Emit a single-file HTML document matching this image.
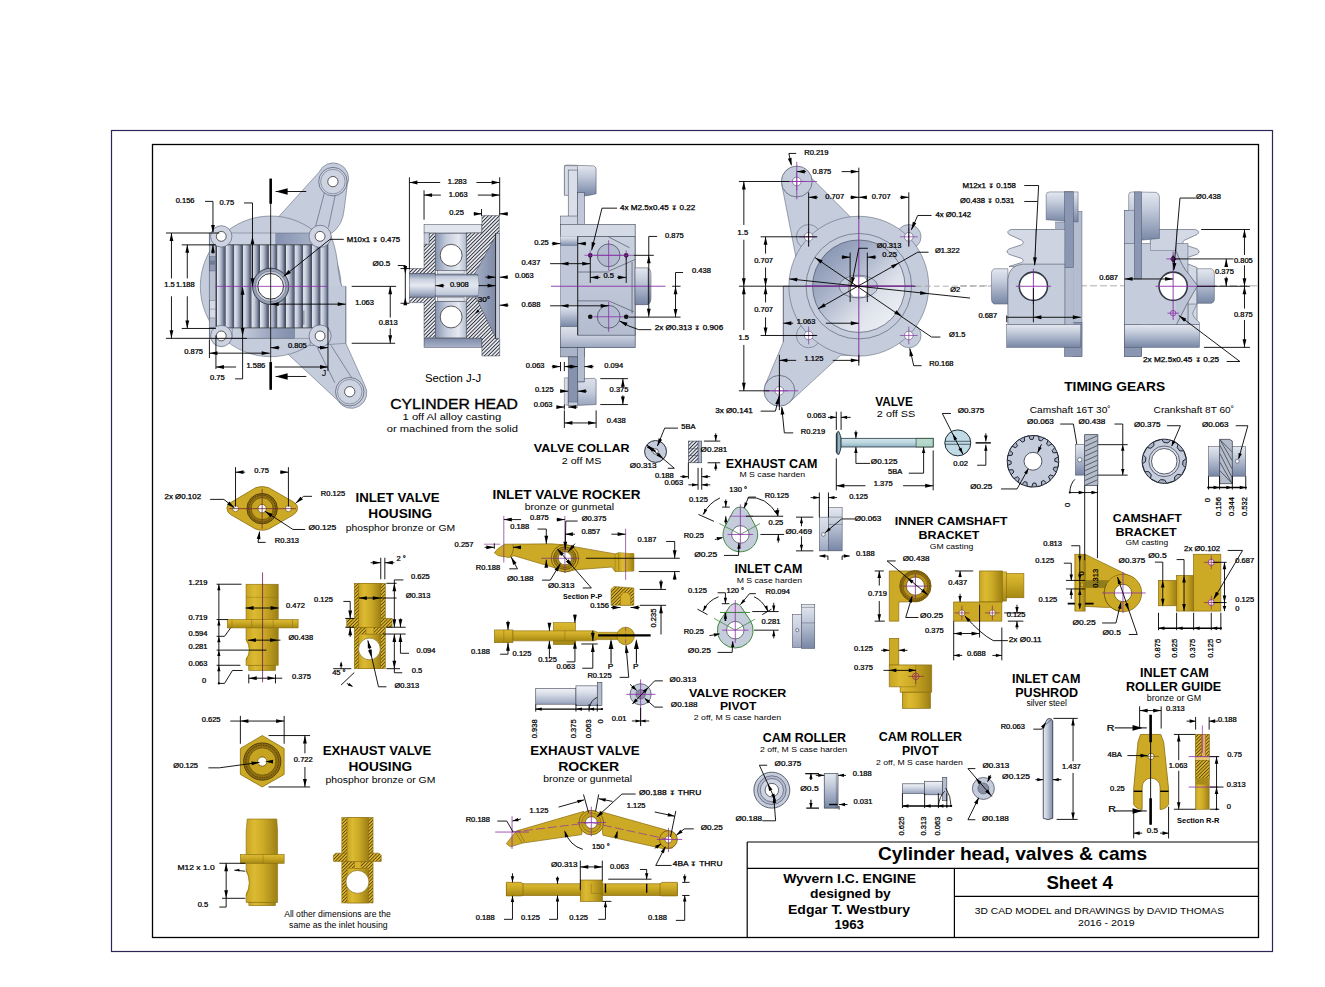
<!DOCTYPE html>
<html><head><meta charset="utf-8"><title>Cylinder head, valves &amp; cams - Sheet 4</title>
<style>
html,body{margin:0;padding:0;background:#fff;}
body{width:1325px;height:987px;overflow:hidden;}
svg{display:block;font-family:"Liberation Sans",sans-serif;}
.d{font-family:"Liberation Sans",sans-serif;fill:#000;stroke:#000;stroke-width:0.25px;}
</style></head><body>
<svg width="1325" height="987" viewBox="0 0 1325 987">
<defs>
<linearGradient id="fin" x1="0" y1="0" x2="1" y2="0"><stop offset="0" stop-color="#3f4656"/><stop offset="0.09" stop-color="#4a5163"/><stop offset="0.16" stop-color="#dfe4ee"/><stop offset="0.45" stop-color="#c3cad9"/><stop offset="0.75" stop-color="#8a94ab"/><stop offset="1" stop-color="#4a5264"/></linearGradient>
<linearGradient id="gband" x1="0" y1="0" x2="1" y2="0"><stop offset="0" stop-color="#c9d0df"/><stop offset="0.55" stop-color="#c9d0df"/><stop offset="0.56" stop-color="#8592b0"/><stop offset="1" stop-color="#b5bed2"/></linearGradient>
<linearGradient id="gband2" x1="0" y1="0" x2="1" y2="0"><stop offset="0" stop-color="#c9d0df"/><stop offset="0.2" stop-color="#c0c8d9"/><stop offset="0.75" stop-color="#8e9ab6"/><stop offset="1" stop-color="#8290ad"/></linearGradient>
<radialGradient id="bore" cx="0.5" cy="0.5" r="0.5"><stop offset="0.7" stop-color="#e3e7ef"/><stop offset="0.85" stop-color="#aab3c8"/><stop offset="1" stop-color="#7d879d"/></radialGradient>
<linearGradient id="gvl" x1="0" y1="0" x2="0" y2="1"><stop offset="0" stop-color="#f0f2f6"/><stop offset="0.35" stop-color="#d8dde8"/><stop offset="1" stop-color="#98a3bd"/></linearGradient>
<linearGradient id="bowl" x1="0.1" y1="0.1" x2="0.9" y2="0.9"><stop offset="0" stop-color="#8593b1"/><stop offset="0.35" stop-color="#aab4ca"/><stop offset="0.7" stop-color="#dde1ea"/><stop offset="1" stop-color="#eef0f5"/></linearGradient>
<linearGradient id="yh" x1="0" y1="0" x2="1" y2="0"><stop offset="0" stop-color="#c7a322"/><stop offset="0.25" stop-color="#dcba32"/><stop offset="0.55" stop-color="#ccaa26"/><stop offset="1" stop-color="#9c7f14"/></linearGradient>
<linearGradient id="yv" x1="0" y1="0" x2="0" y2="1"><stop offset="0" stop-color="#dcba32"/><stop offset="0.4" stop-color="#ccaa26"/><stop offset="1" stop-color="#a58812"/></linearGradient>
<linearGradient id="yvr" x1="0" y1="0" x2="0" y2="1"><stop offset="0" stop-color="#a9850f"/><stop offset="0.5" stop-color="#d0a524"/><stop offset="1" stop-color="#e0b732"/></linearGradient>
<linearGradient id="rod" x1="0" y1="0" x2="1" y2="0"><stop offset="0" stop-color="#e8ebf2"/><stop offset="0.4" stop-color="#c5ccdc"/><stop offset="1" stop-color="#7f8ba7"/></linearGradient>
<pattern id="hatch" patternUnits="userSpaceOnUse" width="2.6" height="2.6" patternTransform="rotate(45)"><rect width="2.6" height="2.6" fill="#eef0f5"/><line x1="1.3" y1="0" x2="1.3" y2="2.6" stroke="#2b2e38" stroke-width="0.95"/></pattern>
<pattern id="hatchy" patternUnits="userSpaceOnUse" width="2.4" height="2.4" patternTransform="rotate(45)"><rect width="2.4" height="2.4" fill="#d6b22c"/><line x1="1.2" y1="0" x2="1.2" y2="2.4" stroke="#5a4308" stroke-width="0.85"/></pattern>
<linearGradient id="chamb" x1="0" y1="0" x2="1" y2="0"><stop offset="0" stop-color="#8794b0"/><stop offset="0.35" stop-color="#c2cadb"/><stop offset="0.75" stop-color="#e4e8f0"/><stop offset="1" stop-color="#b4bdd0"/></linearGradient>
<linearGradient id="boreh" x1="0" y1="0" x2="0" y2="1"><stop offset="0" stop-color="#7f8ca9"/><stop offset="0.25" stop-color="#c9d0de"/><stop offset="0.5" stop-color="#e6e9f0"/><stop offset="0.8" stop-color="#aeb8cc"/><stop offset="1" stop-color="#7f8ca9"/></linearGradient>
<linearGradient id="boreL" x1="0" y1="0" x2="1" y2="0"><stop offset="0" stop-color="#e8ebf2"/><stop offset="0.5" stop-color="#b9c2d4"/><stop offset="1" stop-color="#8f9bb6"/></linearGradient>
<linearGradient id="plateb" x1="0" y1="0" x2="0" y2="1"><stop offset="0" stop-color="#7c89a6"/><stop offset="1" stop-color="#a9b3c9"/></linearGradient>
<linearGradient id="cone" x1="0" y1="0" x2="1" y2="0"><stop offset="0" stop-color="#a5afc6"/><stop offset="1" stop-color="#7f8ba7"/></linearGradient>
<linearGradient id="gv" x1="0" y1="0" x2="0" y2="1"><stop offset="0" stop-color="#e4e8f0"/><stop offset="0.35" stop-color="#c3cbdb"/><stop offset="1" stop-color="#7786a5"/></linearGradient>
<linearGradient id="gv2" x1="0" y1="0" x2="0" y2="1"><stop offset="0" stop-color="#dde2eb"/><stop offset="0.5" stop-color="#c5ccdc"/><stop offset="1" stop-color="#9aa5be"/></linearGradient>
<linearGradient id="gh" x1="0" y1="0" x2="1" y2="0"><stop offset="0" stop-color="#8d99b4"/><stop offset="0.3" stop-color="#c9d0de"/><stop offset="0.6" stop-color="#e2e6ee"/><stop offset="1" stop-color="#a9b3c8"/></linearGradient>
<linearGradient id="gpanel" x1="0" y1="0" x2="0" y2="1"><stop offset="0" stop-color="#c9d0de"/><stop offset="1" stop-color="#b4bdd0"/></linearGradient>
<linearGradient id="vb" x1="0" y1="0" x2="0" y2="1"><stop offset="0" stop-color="#d4e6ec"/><stop offset="0.5" stop-color="#bcd6e0"/><stop offset="1" stop-color="#8fb3c2"/></linearGradient>
</defs>
<rect x="0" y="0" width="1325" height="987" fill="#fff"/>
<rect x="111.5" y="130.5" width="1161" height="821" fill="none" stroke="#2a2656" stroke-width="1.2"/>
<rect x="152.5" y="144.5" width="1106" height="793" fill="none" stroke="#000" stroke-width="1.3"/>
<line x1="747.2" y1="842.0" x2="1258.0" y2="842.0" stroke="#000" stroke-width="1.2" />
<line x1="747.2" y1="842.0" x2="747.2" y2="937.2" stroke="#000" stroke-width="1.2" />
<line x1="747.2" y1="868.4" x2="1258.0" y2="868.4" stroke="#000" stroke-width="1.2" />
<line x1="954.4" y1="868.4" x2="954.4" y2="937.2" stroke="#000" stroke-width="1.2" />
<line x1="954.4" y1="896.4" x2="1258.0" y2="896.4" stroke="#000" stroke-width="1.2" />
<text x="878.0" y="859.6" font-size="18.5" text-anchor="start" font-weight="bold" fill="#000" textLength="269.2" lengthAdjust="spacingAndGlyphs" >Cylinder head, valves &amp; cams</text>
<text x="1046.4" y="889.2" font-size="18" text-anchor="start" font-weight="bold" fill="#000" textLength="66.4" lengthAdjust="spacingAndGlyphs" >Sheet 4</text>
<text x="783.2" y="882.8" font-size="13" text-anchor="start" font-weight="bold" fill="#000" textLength="132.8" lengthAdjust="spacingAndGlyphs" >Wyvern I.C. ENGINE</text>
<text x="810.0" y="898.0" font-size="13" text-anchor="start" font-weight="bold" fill="#000" textLength="80.8" lengthAdjust="spacingAndGlyphs" >designed by</text>
<text x="788.0" y="914.0" font-size="13" text-anchor="start" font-weight="bold" fill="#000" textLength="122.0" lengthAdjust="spacingAndGlyphs" >Edgar T. Westbury</text>
<text x="834.4" y="929.2" font-size="13" text-anchor="start" font-weight="bold" fill="#000" textLength="29.6" lengthAdjust="spacingAndGlyphs" >1963</text>
<text x="974.8" y="914.0" font-size="9.5" text-anchor="start" font-weight="normal" fill="#000" textLength="249.2" lengthAdjust="spacingAndGlyphs" >3D CAD MODEL and DRAWINGS by DAVID THOMAS</text>
<text x="1078.0" y="926.0" font-size="9.5" text-anchor="start" font-weight="normal" fill="#000" textLength="56.8" lengthAdjust="spacingAndGlyphs" >2016 - 2019</text>
<text x="1012.0" y="682.8" font-size="12" text-anchor="start" font-weight="bold" fill="#000" textLength="68.4" lengthAdjust="spacingAndGlyphs" >INLET CAM</text>
<text x="1015.2" y="696.8" font-size="12" text-anchor="start" font-weight="bold" fill="#000" textLength="62.8" lengthAdjust="spacingAndGlyphs" >PUSHROD</text>
<text x="1026.4" y="706.0" font-size="8.5" text-anchor="start" font-weight="normal" fill="#000" textLength="40.4" lengthAdjust="spacingAndGlyphs" >silver steel</text>
<text x="1140.0" y="677.2" font-size="12" text-anchor="start" font-weight="bold" fill="#000" textLength="68.8" lengthAdjust="spacingAndGlyphs" >INLET CAM</text>
<text x="1126.0" y="691.2" font-size="12" text-anchor="start" font-weight="bold" fill="#000" textLength="95.2" lengthAdjust="spacingAndGlyphs" >ROLLER GUIDE</text>
<text x="1146.8" y="701.2" font-size="8.5" text-anchor="start" font-weight="normal" fill="#000" textLength="54.4" lengthAdjust="spacingAndGlyphs" >bronze or GM</text>
<text x="762.8" y="742.0" font-size="12" text-anchor="start" font-weight="bold" fill="#000" textLength="83.2" lengthAdjust="spacingAndGlyphs" >CAM ROLLER</text>
<text x="760.0" y="752.4" font-size="8" text-anchor="start" font-weight="normal" fill="#000" textLength="87.2" lengthAdjust="spacingAndGlyphs" >2 off, M S case harden</text>
<text x="878.8" y="741.2" font-size="12" text-anchor="start" font-weight="bold" fill="#000" textLength="83.2" lengthAdjust="spacingAndGlyphs" >CAM ROLLER</text>
<text x="902.0" y="754.8" font-size="12" text-anchor="start" font-weight="bold" fill="#000" textLength="36.8" lengthAdjust="spacingAndGlyphs" >PIVOT</text>
<text x="876.0" y="765.2" font-size="8" text-anchor="start" font-weight="normal" fill="#000" textLength="86.8" lengthAdjust="spacingAndGlyphs" >2 off, M S case harden</text>
<text x="533.82" y="452.28" font-size="11.5" text-anchor="start" font-weight="bold" fill="#000" textLength="95.7" lengthAdjust="spacingAndGlyphs" >VALVE COLLAR</text>
<text x="561.72" y="464.31" font-size="9" text-anchor="start" font-weight="normal" fill="#000" textLength="39.7" lengthAdjust="spacingAndGlyphs" >2 off MS</text>
<circle cx="655.56" cy="451.48" r="10.94" fill="#c5ccdc" stroke="#2a2d38" stroke-width="1.0" />
<circle cx="655.56" cy="451.48" r="2.74" fill="#fff" stroke="#2a2d38" stroke-width="0.7" />
<text x="0" y="0" font-size="6.4" text-anchor="middle" class="d" dy="0.36em" transform="translate(688.39 426.31) scale(1.18 1)">5BA</text>
<polyline points="678.0,428.13 664.68,428.13 657.39,446.0" fill="none" stroke="#000" stroke-width="0.9" />
<polygon points="657.39,446.37 658.60,438.24 662.13,439.65" fill="#000"/>
<text x="0" y="0" font-size="6.9" text-anchor="middle" class="d" dy="0.36em" transform="translate(643.16 465.52) scale(1.18 1)">Ø0.313</text>
<polyline points="667.78,468.26 674.35,468.26 646.99,445.09" fill="none" stroke="#000" stroke-width="0.9" />
<polygon points="646.99,445.09 654.32,448.81 651.87,451.71" fill="#000"/>
<polygon points="663.77,459.32 656.44,455.60 658.89,452.70" fill="#000"/>
<line x1="647.36" y1="446.92" x2="655.56" y2="451.48" stroke="#000" stroke-width="1.6" />
<rect x="688.39" y="441.08" width="10.03" height="21.7" fill="url(#hatch)" stroke="#3d4252" stroke-width="0.6" />
<rect x="698.06" y="441.08" width="3.65" height="21.7" fill="#aab4c9" stroke="#3d4252" stroke-width="0.6" />
<line x1="688.39" y1="448.74" x2="698.42" y2="448.74" stroke="#3d4252" stroke-width="0.5" />
<line x1="688.39" y1="455.49" x2="698.42" y2="455.49" stroke="#3d4252" stroke-width="0.5" />
<text x="0" y="0" font-size="6.9" text-anchor="middle" class="d" dy="0.36em" transform="translate(713.93 449.29) scale(1.18 1)">Ø0.281</text>
<line x1="703.9" y1="441.08" x2="720.31" y2="441.08" stroke="#000" stroke-width="0.9" />
<line x1="707.54" y1="462.78" x2="720.31" y2="462.78" stroke="#000" stroke-width="0.9" />
<line x1="715.75" y1="433.24" x2="715.75" y2="441.08" stroke="#000" stroke-width="0.9" />
<polygon points="715.75,441.08 714.15,435.08 717.35,435.08" fill="#000"/>
<line x1="715.75" y1="462.78" x2="715.75" y2="470.63" stroke="#000" stroke-width="0.9" />
<polygon points="715.75,462.78 717.35,468.78 714.15,468.78" fill="#000"/>
<line x1="688.39" y1="462.78" x2="688.39" y2="478.83" stroke="#000" stroke-width="0.9" />
<line x1="698.06" y1="467.89" x2="698.06" y2="489.78" stroke="#000" stroke-width="0.9" />
<line x1="701.71" y1="467.89" x2="701.71" y2="489.78" stroke="#000" stroke-width="0.9" />
<text x="0" y="0" font-size="6.4" text-anchor="middle" class="d" dy="0.36em" transform="translate(664.32 475.19) scale(1.18 1)">0.188</text>
<line x1="680.19" y1="476.65" x2="688.39" y2="476.65" stroke="#000" stroke-width="0.9" />
<polygon points="688.39,476.65 682.39,478.25 682.39,475.05" fill="#000"/>
<line x1="701.71" y1="476.65" x2="710.28" y2="476.65" stroke="#000" stroke-width="0.9" />
<polygon points="701.71,476.65 707.71,475.05 707.71,478.25" fill="#000"/>
<text x="0" y="0" font-size="6.4" text-anchor="middle" class="d" dy="0.36em" transform="translate(673.8 482.85) scale(1.18 1)">0.063</text>
<line x1="688.39" y1="484.85" x2="698.06" y2="484.85" stroke="#000" stroke-width="0.9" />
<polygon points="698.06,484.85 692.06,486.45 692.06,483.25" fill="#000"/>
<line x1="701.71" y1="484.85" x2="710.28" y2="484.85" stroke="#000" stroke-width="0.9" />
<polygon points="701.71,484.85 707.71,483.25 707.71,486.45" fill="#000"/>
<text x="725.78" y="467.89" font-size="12" text-anchor="start" font-weight="bold" fill="#000" textLength="91.7" lengthAdjust="spacingAndGlyphs" >EXHAUST CAM</text>
<text x="739.46" y="477.37" font-size="8" text-anchor="start" font-weight="normal" fill="#000" textLength="65.7" lengthAdjust="spacingAndGlyphs" >M S case harden</text>
<path d="M725.12 526.22 L733.15 511.41 A8.21 8.21 0 0 1 747.59 511.41 L755.62 526.22 A17.33 17.33 0 1 1 725.12 526.22 Z" fill="#c5ccdc" stroke="#3f8a3f" stroke-width="1.0" />
<circle cx="740.37" cy="534.46" r="8.75" fill="#fff" stroke="#3d4252" stroke-width="0.7" />
<line x1="740.37" y1="534.46" x2="719.4" y2="523.52" stroke="#3f8a3f" stroke-width="0.8" />
<line x1="740.37" y1="534.46" x2="760.07" y2="523.52" stroke="#3f8a3f" stroke-width="0.8" />
<line x1="727.61" y1="534.46" x2="753.14" y2="534.46" stroke="#8a2fa8" stroke-width="0.8" />
<line x1="740.37" y1="504.37" x2="740.37" y2="548.14" stroke="#8a2fa8" stroke-width="0.8" />
<line x1="729.43" y1="516.22" x2="753.14" y2="516.22" stroke="#8a2fa8" stroke-width="0.7" />
<text x="0" y="0" font-size="6.4" text-anchor="middle" class="d" dy="0.36em" transform="translate(738.18 490.14) scale(1.18 1)">130 °</text>
<path d="M702.98 514.4 Q709.37 502.54 719.95 497.98" fill="none" stroke="#000" stroke-width="0.9" />
<polygon points="703.53,514.95 704.27,508.78 707.24,509.97" fill="#000"/>
<path d="M747.67 497.98 Q765.91 495.25 777.76 515.31" fill="none" stroke="#000" stroke-width="0.9" />
<polygon points="778.31,515.86 774.20,511.21 777.06,509.78" fill="#000"/>
<line x1="698.42" y1="514.4" x2="713.93" y2="521.33" stroke="#000" stroke-width="0.9" />
<text x="0" y="0" font-size="6.4" text-anchor="middle" class="d" dy="0.36em" transform="translate(698.42 499.44) scale(1.18 1)">0.125</text>
<line x1="722.13" y1="507.1" x2="729.79" y2="507.1" stroke="#000" stroke-width="0.9" />
<line x1="725.78" y1="499.44" x2="725.78" y2="507.1" stroke="#000" stroke-width="0.9" />
<polygon points="725.78,507.10 724.18,501.10 727.38,501.10" fill="#000"/>
<line x1="725.78" y1="516.22" x2="725.78" y2="524.43" stroke="#000" stroke-width="0.9" />
<polygon points="725.78,516.22 727.38,522.22 724.18,522.22" fill="#000"/>
<text x="0" y="0" font-size="6.4" text-anchor="middle" class="d" dy="0.36em" transform="translate(776.85 495.25) scale(1.18 1)">R0.125</text>
<polyline points="755.87,497.07 748.58,497.07 744.02,508.01" fill="none" stroke="#000" stroke-width="0.9" />
<polygon points="744.02,508.38 744.76,502.21 747.73,503.40" fill="#000"/>
<text x="0" y="0" font-size="6.4" text-anchor="middle" class="d" dy="0.36em" transform="translate(775.94 522.61) scale(1.18 1)">0.25</text>
<line x1="745.84" y1="516.22" x2="783.23" y2="516.22" stroke="#000" stroke-width="0.9" />
<line x1="777.76" y1="508.01" x2="777.76" y2="516.22" stroke="#000" stroke-width="0.9" />
<polygon points="777.76,516.22 776.16,510.22 779.36,510.22" fill="#000"/>
<line x1="760.43" y1="534.46" x2="784.14" y2="534.46" stroke="#000" stroke-width="0.9" />
<line x1="778.31" y1="534.46" x2="778.31" y2="542.67" stroke="#000" stroke-width="0.9" />
<polygon points="778.31,534.46 779.91,540.46 776.71,540.46" fill="#000"/>
<text x="0" y="0" font-size="6.4" text-anchor="middle" class="d" dy="0.36em" transform="translate(693.86 535.37) scale(1.18 1)">R0.25</text>
<line x1="714.84" y1="539.57" x2="722.5" y2="537.56" stroke="#000" stroke-width="0.9" />
<polygon points="722.86,537.38 717.48,540.58 716.60,537.09" fill="#000"/>
<text x="0" y="0" font-size="7.2" text-anchor="middle" class="d" dy="0.36em" transform="translate(705.72 554.16) scale(1.18 1)">Ø0.25</text>
<polyline points="723.96,555.43 738.55,555.43 738.91,543.03" fill="none" stroke="#000" stroke-width="0.9" />
<polygon points="738.91,542.67 740.51,548.67 737.31,548.67" fill="#000"/>
<rect x="828.46" y="507.65" width="13.68" height="43.22" fill="url(#gv)" stroke="#3d4252" stroke-width="0.5" />
<rect x="819.34" y="517.13" width="9.12" height="33.74" fill="url(#gv2)" stroke="#3d4252" stroke-width="0.5" />
<line x1="828.46" y1="517.13" x2="842.14" y2="517.13" stroke="#3d4252" stroke-width="0.4" />
<line x1="828.46" y1="524.43" x2="842.14" y2="524.43" stroke="#3d4252" stroke-width="0.4" />
<circle cx="823.36" cy="534.46" r="1.82" fill="#fff" stroke="#3d4252" stroke-width="0.6" />
<text x="0" y="0" font-size="6.9" text-anchor="middle" class="d" dy="0.36em" transform="translate(798.73 531.18) scale(1.18 1)">Ø0.469</text>
<line x1="796.0" y1="517.13" x2="813.32" y2="517.13" stroke="#000" stroke-width="0.9" />
<line x1="796.0" y1="550.87" x2="813.32" y2="550.87" stroke="#000" stroke-width="0.9" />
<line x1="801.47" y1="517.13" x2="801.47" y2="526.25" stroke="#000" stroke-width="0.9" />
<line x1="801.47" y1="536.28" x2="801.47" y2="550.87" stroke="#000" stroke-width="0.9" />
<polygon points="801.47,517.13 803.07,523.13 799.87,523.13" fill="#000"/>
<polygon points="801.47,550.87 799.87,544.87 803.07,544.87" fill="#000"/>
<line x1="819.34" y1="492.51" x2="819.34" y2="517.13" stroke="#000" stroke-width="0.9" />
<line x1="828.46" y1="492.51" x2="828.46" y2="517.13" stroke="#000" stroke-width="0.9" />
<line x1="810.59" y1="497.62" x2="819.34" y2="497.62" stroke="#000" stroke-width="0.9" />
<polygon points="819.34,497.62 813.34,499.22 813.34,496.02" fill="#000"/>
<line x1="828.46" y1="497.62" x2="837.03" y2="497.62" stroke="#000" stroke-width="0.9" />
<polygon points="828.46,497.62 834.46,496.02 834.46,499.22" fill="#000"/>
<text x="0" y="0" font-size="6.4" text-anchor="middle" class="d" dy="0.36em" transform="translate(858.56 496.52) scale(1.18 1)">0.125</text>
<text x="0" y="0" font-size="6.9" text-anchor="middle" class="d" dy="0.36em" transform="translate(868.04 518.05) scale(1.18 1)">Ø0.063</text>
<polyline points="855.27,518.96 841.59,518.96 825.18,532.64" fill="none" stroke="#000" stroke-width="0.9" />
<polygon points="825.18,532.64 828.77,527.57 830.81,530.03" fill="#000"/>
<polyline points="819.34,555.98 827.92,555.98 827.92,559.99" fill="none" stroke="#000" stroke-width="0.9" />
<polygon points="819.34,555.98 825.34,554.18 825.34,557.78" fill="#000"/>
<polyline points="842.14,559.99 842.14,555.98 849.8,555.98" fill="none" stroke="#000" stroke-width="0.9" />
<polygon points="849.80,555.98 843.80,557.78 843.80,554.18" fill="#000"/>
<text x="0" y="0" font-size="6.4" text-anchor="middle" class="d" dy="0.36em" transform="translate(865.3 553.61) scale(1.18 1)">0.188</text>
<text x="734.54" y="573.31" font-size="12" text-anchor="start" font-weight="bold" fill="#000" textLength="67.8" lengthAdjust="spacingAndGlyphs" >INLET CAM</text>
<text x="736.72" y="583.16" font-size="8" text-anchor="start" font-weight="normal" fill="#000" textLength="65.3" lengthAdjust="spacingAndGlyphs" >M S case harden</text>
<path d="M720.51 620.05 L729.7 606.65 A6.75 6.75 0 0 1 740.83 606.65 L750.02 620.05 A17.87 17.87 0 1 1 720.51 620.05 Z" fill="#c5ccdc" stroke="#3f8a3f" stroke-width="1.0" />
<path d="M725.71 612.46 L729.7 606.65 A6.75 6.75 0 0 1 740.83 606.65 L744.82 612.46 Z" fill="#dccbe9" stroke="#3f8a3f" stroke-width="0.8" />
<circle cx="735.27" cy="630.16" r="8.75" fill="#fff" stroke="#3d4252" stroke-width="0.7" />
<line x1="719.95" y1="612.46" x2="749.86" y2="612.46" stroke="#3f8a3f" stroke-width="1.0" />
<line x1="735.27" y1="630.16" x2="713.93" y2="618.3" stroke="#3f8a3f" stroke-width="0.8" />
<line x1="735.27" y1="630.16" x2="754.96" y2="619.21" stroke="#3f8a3f" stroke-width="0.8" />
<line x1="722.13" y1="630.16" x2="748.58" y2="630.16" stroke="#8a2fa8" stroke-width="0.8" />
<line x1="735.27" y1="600.06" x2="735.27" y2="642.92" stroke="#8a2fa8" stroke-width="0.8" />
<text x="0" y="0" font-size="6.4" text-anchor="middle" class="d" dy="0.36em" transform="translate(735.27 590.4) scale(1.18 1)">120 °</text>
<path d="M702.98 611.01 Q707.54 600.97 718.49 596.78" fill="none" stroke="#000" stroke-width="0.9" />
<polygon points="703.35,611.55 704.09,605.38 707.06,606.57" fill="#000"/>
<path d="M754.05 596.78 Q762.26 600.06 767.73 611.01" fill="none" stroke="#000" stroke-width="0.9" />
<polygon points="768.09,611.55 764.38,606.57 767.35,605.38" fill="#000"/>
<line x1="697.51" y1="609.18" x2="707.54" y2="614.65" stroke="#000" stroke-width="0.9" />
<line x1="762.26" y1="614.65" x2="771.38" y2="609.18" stroke="#000" stroke-width="0.9" />
<text x="0" y="0" font-size="6.4" text-anchor="middle" class="d" dy="0.36em" transform="translate(697.51 590.4) scale(1.18 1)">0.125</text>
<polyline points="717.57,592.77 725.42,592.77 725.42,603.71" fill="none" stroke="#000" stroke-width="0.9" />
<polygon points="725.42,603.71 723.82,597.71 727.02,597.71" fill="#000"/>
<line x1="721.77" y1="603.71" x2="729.43" y2="603.71" stroke="#000" stroke-width="0.9" />
<line x1="725.42" y1="612.83" x2="725.42" y2="621.04" stroke="#000" stroke-width="1.6" />
<polygon points="725.42,612.83 727.02,618.83 723.82,618.83" fill="#000"/>
<text x="0" y="0" font-size="6.4" text-anchor="middle" class="d" dy="0.36em" transform="translate(777.76 591.86) scale(1.18 1)">R0.094</text>
<polyline points="755.87,593.68 749.49,593.68 740.37,604.62" fill="none" stroke="#000" stroke-width="0.9" />
<polygon points="740.37,604.80 742.98,599.17 745.44,601.21" fill="#000"/>
<text x="0" y="0" font-size="6.4" text-anchor="middle" class="d" dy="0.36em" transform="translate(771.01 621.58) scale(1.18 1)">0.281</text>
<line x1="752.23" y1="611.55" x2="778.67" y2="611.55" stroke="#000" stroke-width="0.9" />
<line x1="754.05" y1="630.16" x2="778.67" y2="630.16" stroke="#000" stroke-width="0.9" />
<line x1="773.75" y1="602.8" x2="773.75" y2="611.55" stroke="#000" stroke-width="0.9" />
<polygon points="773.75,611.55 772.15,605.55 775.35,605.55" fill="#000"/>
<line x1="773.75" y1="630.16" x2="773.75" y2="638.36" stroke="#000" stroke-width="0.9" />
<polygon points="773.75,630.16 775.35,636.16 772.15,636.16" fill="#000"/>
<text x="0" y="0" font-size="6.4" text-anchor="middle" class="d" dy="0.36em" transform="translate(693.86 631.61) scale(1.18 1)">R0.25</text>
<line x1="709.37" y1="635.63" x2="719.4" y2="633.99" stroke="#000" stroke-width="0.9" />
<polygon points="719.95,633.80 714.42,636.74 713.71,633.21" fill="#000"/>
<text x="0" y="0" font-size="7.2" text-anchor="middle" class="d" dy="0.36em" transform="translate(699.34 650.77) scale(1.18 1)">Ø0.25</text>
<polyline points="717.57,652.41 732.16,652.41 732.71,641.46" fill="none" stroke="#000" stroke-width="0.9" />
<polygon points="732.71,641.10 734.31,647.10 731.11,647.10" fill="#000"/>
<rect x="801.47" y="604.62" width="13.31" height="43.77" fill="url(#gv)" stroke="#3d4252" stroke-width="0.5" />
<rect x="792.35" y="614.65" width="9.12" height="32.83" fill="url(#gv2)" stroke="#3d4252" stroke-width="0.5" />
<line x1="801.47" y1="607.36" x2="814.78" y2="607.36" stroke="#3d4252" stroke-width="0.4" />
<line x1="801.47" y1="622.86" x2="814.78" y2="622.86" stroke="#3d4252" stroke-width="0.4" />
<circle cx="797.28" cy="630.16" r="1.64" fill="#e8ebf2" stroke="#3d4252" stroke-width="0.6" />
<circle cx="640.61" cy="694.35" r="10.58" fill="#c5ccdc" stroke="#3d4252" stroke-width="0.7" />
<circle cx="640.61" cy="694.35" r="4.74" fill="#8d86a8" stroke="#3d4252" stroke-width="0.5" />
<line x1="626.38" y1="694.35" x2="655.56" y2="694.35" stroke="#8a2fa8" stroke-width="0.8" />
<line x1="640.61" y1="679.4" x2="640.61" y2="725.91" stroke="#8a2fa8" stroke-width="0.8" />
<text x="0" y="0" font-size="6.9" text-anchor="middle" class="d" dy="0.36em" transform="translate(682.92 679.76) scale(1.18 1)">Ø0.313</text>
<polyline points="662.86,680.86 654.65,680.86 632.4,704.02" fill="none" stroke="#000" stroke-width="0.9" />
<polygon points="632.40,704.02 635.37,698.50 637.92,701.05" fill="#000"/>
<polygon points="648.27,687.61 645.30,693.13 642.75,690.58" fill="#000"/>
<text x="0" y="0" font-size="6.9" text-anchor="middle" class="d" dy="0.36em" transform="translate(684.2 704.57) scale(1.18 1)">Ø0.188</text>
<polyline points="662.86,707.12 654.65,707.12 644.62,698.18" fill="none" stroke="#000" stroke-width="0.9" />
<polygon points="644.62,698.18 650.28,700.86 647.88,703.53" fill="#000"/>
<line x1="630.03" y1="684.32" x2="636.78" y2="690.52" stroke="#000" stroke-width="0.9" />
<polygon points="636.78,690.52 631.14,687.79 633.58,685.13" fill="#000"/>
<line x1="640.61" y1="707.67" x2="640.61" y2="725.91" stroke="#000" stroke-width="0.9" />
<line x1="631.85" y1="720.98" x2="649.18" y2="720.98" stroke="#000" stroke-width="0.9" />
<polygon points="640.61,720.98 635.61,722.58 635.61,719.38" fill="#000"/>
<polygon points="640.61,720.98 645.61,719.38 645.61,722.58" fill="#000"/>
<text x="0" y="0" font-size="6.4" text-anchor="middle" class="d" dy="0.36em" transform="translate(619.09 718.98) scale(1.18 1)">0.01</text>
<text x="688.94" y="696.73" font-size="11" text-anchor="start" font-weight="bold" fill="#000" textLength="97.4" lengthAdjust="spacingAndGlyphs" >VALVE ROCKER</text>
<text x="719.95" y="710.4" font-size="11" text-anchor="start" font-weight="bold" fill="#000" textLength="36.5" lengthAdjust="spacingAndGlyphs" >PIVOT</text>
<text x="693.86" y="720.43" font-size="8" text-anchor="start" font-weight="normal" fill="#000" textLength="87.2" lengthAdjust="spacingAndGlyphs" >2 off, M S case harden</text>
<text x="1112.77" y="521.91" font-size="11.5" text-anchor="start" font-weight="bold" fill="#000" textLength="69.1" lengthAdjust="spacingAndGlyphs" >CAMSHAFT</text>
<text x="1115.53" y="535.74" font-size="11.5" text-anchor="start" font-weight="bold" fill="#000" textLength="61.1" lengthAdjust="spacingAndGlyphs" >BRACKET</text>
<text x="1125.53" y="545.32" font-size="8" text-anchor="start" font-weight="normal" fill="#000" textLength="42.6" lengthAdjust="spacingAndGlyphs" >GM casting</text>
<polygon points="1085.11,554.26 1134.47,578.3 1127.66,606.38 1106.38,607.45 1085.11,606.38" fill="#cdaa26" stroke="#8a6c0e" stroke-width="0.7" />
<rect x="1085.11" y="580.43" width="26.6" height="7.23" fill="#8f7c1c" stroke="#8a6c0e" stroke-width="0.4" />
<rect x="1074.89" y="554.26" width="10.21" height="56.81" fill="url(#yh)" stroke="#8a6c0e" stroke-width="0.7" />
<circle cx="1122.98" cy="592.98" r="18.72" fill="#cdaa26" stroke="#8a6c0e" stroke-width="0.8" />
<path d="M1106.38 584.04 A18.72 18.72 0 0 0 1119.15 611.28" fill="none" stroke="#6b5208" stroke-width="0.6" />
<circle cx="1122.98" cy="592.98" r="8.72" fill="#fff" stroke="#6b5208" stroke-width="0.8" />
<line x1="1102.13" y1="592.98" x2="1145.74" y2="592.98" stroke="#8a2fa8" stroke-width="0.8" />
<line x1="1122.98" y1="572.34" x2="1122.98" y2="613.19" stroke="#8a2fa8" stroke-width="0.8" />
<rect x="1080.43" y="582.98" width="2.98" height="3.83" fill="#d8b030" stroke="#6b5208" stroke-width="0.5" />
<text x="0" y="0" font-size="6.4" text-anchor="middle" class="d" dy="0.36em" transform="translate(1095.32 578.3) rotate(-90) scale(1.18 1)">0.313</text>
<text x="0" y="0" font-size="6.4" text-anchor="middle" class="d" dy="0.36em" transform="translate(1081.91 573.4) rotate(-90) scale(1.18 1)">0</text>
<text x="0" y="0" font-size="6.4" text-anchor="middle" class="d" dy="0.36em" transform="translate(1052.55 543.62) scale(1.18 1)">0.813</text>
<polyline points="1071.28,545.74 1079.79,545.74 1079.79,608.51" fill="none" stroke="#000" stroke-width="0.9" />
<polygon points="1079.79,561.70 1078.09,555.70 1081.49,555.70" fill="#000"/>
<polygon points="1079.79,580.43 1078.09,574.43 1081.49,574.43" fill="#000"/>
<polygon points="1079.79,588.94 1081.49,594.94 1078.09,594.94" fill="#000"/>
<polygon points="1079.79,609.57 1078.09,603.57 1081.49,603.57" fill="#000"/>
<text x="0" y="0" font-size="6.4" text-anchor="middle" class="d" dy="0.36em" transform="translate(1044.68 560.64) scale(1.18 1)">0.125</text>
<polyline points="1063.83,563.19 1071.28,563.19 1071.28,580.43" fill="none" stroke="#000" stroke-width="0.9" />
<polygon points="1071.28,580.43 1069.58,574.43 1072.98,574.43" fill="#000"/>
<line x1="1065.96" y1="580.43" x2="1085.11" y2="580.43" stroke="#000" stroke-width="0.9" />
<line x1="1065.96" y1="588.94" x2="1085.11" y2="588.94" stroke="#000" stroke-width="0.9" />
<line x1="1071.28" y1="588.94" x2="1071.28" y2="598.94" stroke="#000" stroke-width="0.9" />
<polygon points="1071.28,588.94 1072.98,594.94 1069.58,594.94" fill="#000"/>
<text x="0" y="0" font-size="6.4" text-anchor="middle" class="d" dy="0.36em" transform="translate(1047.87 600.0) scale(1.18 1)">0.125</text>
<line x1="1067.66" y1="603.62" x2="1074.89" y2="603.62" stroke="#000" stroke-width="1.8" />
<line x1="1085.11" y1="603.62" x2="1093.62" y2="603.62" stroke="#000" stroke-width="1.8" />
<text x="0" y="0" font-size="7.2" text-anchor="middle" class="d" dy="0.36em" transform="translate(1084.04 621.91) scale(1.18 1)">Ø0.25</text>
<polyline points="1102.13,622.98 1115.96,622.98 1120.85,602.55" fill="none" stroke="#000" stroke-width="0.9" />
<polygon points="1121.06,601.70 1121.45,608.92 1117.92,608.21" fill="#000"/>
<text x="0" y="0" font-size="7.2" text-anchor="middle" class="d" dy="0.36em" transform="translate(1111.7 632.34) scale(1.18 1)">Ø0.5</text>
<polyline points="1128.72,634.47 1137.23,634.47 1117.45,577.02" fill="none" stroke="#000" stroke-width="0.9" />
<polygon points="1117.45,577.02 1121.43,583.05 1118.03,584.22" fill="#000"/>
<polygon points="1128.72,610.21 1124.74,604.18 1128.14,603.01" fill="#000"/>
<rect x="1158.51" y="580.43" width="18.09" height="25.32" fill="url(#yh)" stroke="#8a6c0e" stroke-width="0.7" />
<rect x="1176.6" y="575.53" width="17.02" height="35.53" fill="url(#yh)" stroke="#8a6c0e" stroke-width="0.7" />
<rect x="1193.62" y="554.26" width="27.23" height="56.81" fill="#cdaa26" stroke="#8a6c0e" stroke-width="0.7" />
<circle cx="1211.28" cy="562.34" r="2.98" fill="#fff" stroke="#8a2fa8" stroke-width="0.9" />
<line x1="1203.83" y1="562.34" x2="1219.15" y2="562.34" stroke="#8a2a4a" stroke-width="0.7" />
<line x1="1211.28" y1="555.53" x2="1211.28" y2="569.15" stroke="#8a2a4a" stroke-width="0.7" />
<circle cx="1211.28" cy="602.55" r="2.98" fill="#fff" stroke="#8a2fa8" stroke-width="0.9" />
<line x1="1203.83" y1="602.55" x2="1219.15" y2="602.55" stroke="#8a2a4a" stroke-width="0.7" />
<line x1="1211.28" y1="595.74" x2="1211.28" y2="609.36" stroke="#8a2a4a" stroke-width="0.7" />
<text x="0" y="0" font-size="6.9" text-anchor="middle" class="d" dy="0.36em" transform="translate(1131.91 560.64) scale(1.18 1)">Ø0.375</text>
<polyline points="1154.89,562.13 1162.77,562.13 1162.77,605.74" fill="none" stroke="#000" stroke-width="0.9" />
<polygon points="1162.77,580.43 1164.57,587.43 1160.97,587.43" fill="#000"/>
<polygon points="1162.77,605.74 1160.97,598.74 1164.57,598.74" fill="#000"/>
<text x="0" y="0" font-size="7.2" text-anchor="middle" class="d" dy="0.36em" transform="translate(1157.45 555.74) scale(1.18 1)">Ø0.5</text>
<polyline points="1176.6,559.57 1184.04,559.57 1184.04,611.06" fill="none" stroke="#000" stroke-width="0.9" />
<polygon points="1184.04,575.53 1185.84,582.53 1182.24,582.53" fill="#000"/>
<polygon points="1184.04,611.06 1182.24,604.06 1185.84,604.06" fill="#000"/>
<text x="0" y="0" font-size="6.9" text-anchor="middle" class="d" dy="0.36em" transform="translate(1202.13 548.3) scale(1 1)" textLength="36.2" lengthAdjust="spacingAndGlyphs">2x Ø0.102</text>
<polyline points="1227.66,550.43 1242.55,550.43 1213.83,598.94" fill="none" stroke="#000" stroke-width="0.9" />
<polygon points="1213.40,599.57 1215.89,591.73 1219.15,593.69" fill="#000"/>
<text x="0" y="0" font-size="6.4" text-anchor="middle" class="d" dy="0.36em" transform="translate(1244.68 561.06) scale(1.18 1)">0.687</text>
<line x1="1212.77" y1="562.34" x2="1226.6" y2="562.34" stroke="#000" stroke-width="0.9" />
<line x1="1212.77" y1="602.55" x2="1226.6" y2="602.55" stroke="#000" stroke-width="0.9" />
<line x1="1224.47" y1="562.34" x2="1224.47" y2="611.06" stroke="#000" stroke-width="0.9" />
<polygon points="1224.47,562.34 1226.27,569.34 1222.67,569.34" fill="#000"/>
<polygon points="1224.47,602.55 1222.67,595.55 1226.27,595.55" fill="#000"/>
<polygon points="1224.47,611.06 1222.67,606.06 1226.27,606.06" fill="#000"/>
<text x="0" y="0" font-size="6.4" text-anchor="middle" class="d" dy="0.36em" transform="translate(1244.68 599.57) scale(1.18 1)">0.125</text>
<text x="0" y="0" font-size="6.4" text-anchor="middle" class="d" dy="0.36em" transform="translate(1237.23 608.51) scale(1.18 1)">0</text>
<line x1="1158.51" y1="612.77" x2="1158.51" y2="630.21" stroke="#000" stroke-width="0.9" />
<line x1="1176.6" y1="612.77" x2="1176.6" y2="630.21" stroke="#000" stroke-width="0.9" />
<line x1="1193.62" y1="612.77" x2="1193.62" y2="630.21" stroke="#000" stroke-width="0.9" />
<line x1="1211.28" y1="612.77" x2="1211.28" y2="630.21" stroke="#000" stroke-width="0.9" />
<line x1="1220.85" y1="612.77" x2="1220.85" y2="630.21" stroke="#000" stroke-width="0.9" />
<line x1="1158.51" y1="628.3" x2="1221.28" y2="628.3" stroke="#000" stroke-width="1.4" />
<circle cx="1220.85" cy="628.3" r="1.06" fill="#000" stroke="none" stroke-width="0.6" />
<polygon points="1158.51,628.30 1164.51,626.50 1164.51,630.10" fill="#000"/>
<polygon points="1176.60,628.30 1182.60,626.50 1182.60,630.10" fill="#000"/>
<polygon points="1193.62,628.30 1199.62,626.50 1199.62,630.10" fill="#000"/>
<polygon points="1211.28,628.30 1217.28,626.50 1217.28,630.10" fill="#000"/>
<text x="0" y="0" font-size="6.4" text-anchor="middle" class="d" dy="0.36em" transform="translate(1157.45 648.3) rotate(-90) scale(1.18 1)">0.875</text>
<text x="0" y="0" font-size="6.4" text-anchor="middle" class="d" dy="0.36em" transform="translate(1174.89 648.3) rotate(-90) scale(1.18 1)">0.625</text>
<text x="0" y="0" font-size="6.4" text-anchor="middle" class="d" dy="0.36em" transform="translate(1192.55 648.3) rotate(-90) scale(1.18 1)">0.375</text>
<text x="0" y="0" font-size="6.4" text-anchor="middle" class="d" dy="0.36em" transform="translate(1210.64 648.3) rotate(-90) scale(1.18 1)">0.125</text>
<text x="0" y="0" font-size="6.4" text-anchor="middle" class="d" dy="0.36em" transform="translate(1218.72 640.85) rotate(-90) scale(1.18 1)">0</text>
<path d="M278.58 216.8 L319.09 172.13 A14.62 14.62 0 0 1 347.35 184.58 L344.19 209.29 Q342.81 225.1 331.94 233.0 L298.34 240.91 Z" fill="#c5ccdc" stroke="#4d5468" stroke-width="0.5" />
<path d="M345.77 343.28 L364.74 385.18 A14.82 14.82 0 0 1 337.87 400.59 L288.46 354.55 L298.34 335.77 Z" fill="#c5ccdc" stroke="#4d5468" stroke-width="0.5" />
<circle cx="270.67" cy="286.36" r="70.36" fill="#c5ccdc" stroke="#4d5468" stroke-width="0.5" />
<path d="M327.98 229.05 Q334.9 242.89 337.27 260.67 Q338.85 278.46 341.82 286.36 L345.77 286.36 L345.77 343.28 L310.2 345.65 L310.2 233.0 Z" fill="#c5ccdc" stroke="#4d5468" stroke-width="0.5" />
<rect x="327.98" y="286.36" width="17.79" height="56.92" fill="#c1c9da" stroke="none" stroke-width="0.6" />
<line x1="345.77" y1="286.36" x2="345.77" y2="343.28" stroke="#4d5468" stroke-width="0.6" />
<line x1="327.98" y1="328.85" x2="327.98" y2="343.68" stroke="#333" stroke-width="0.8" />
<line x1="325.02" y1="190.51" x2="315.14" y2="228.06" stroke="#4d5468" stroke-width="0.6" />
<line x1="335.49" y1="193.87" x2="328.38" y2="227.47" stroke="#4d5468" stroke-width="0.6" />
<line x1="317.11" y1="347.23" x2="334.9" y2="382.81" stroke="#4d5468" stroke-width="0.6" />
<line x1="330.95" y1="345.26" x2="351.7" y2="377.87" stroke="#4d5468" stroke-width="0.6" />
<rect x="209.41" y="233.0" width="118.58" height="11.86" fill="url(#gband)" stroke="#4d5468" stroke-width="0.4" />
<rect x="209.41" y="327.87" width="118.58" height="10.28" fill="#c5ccdc" stroke="#4d5468" stroke-width="0.4" />
<rect x="232.13" y="327.87" width="62.25" height="10.28" fill="url(#gband2)" stroke="#4d5468" stroke-width="0.4" />
<rect x="209.41" y="244.86" width="118.58" height="83.0" fill="#b8c0d2" stroke="none" stroke-width="0.6" />
<rect x="215.93" y="244.86" width="8.72" height="83.0" fill="url(#fin)" stroke="none" stroke-width="0.6" />
<rect x="224.55" y="244.86" width="8.72" height="83.0" fill="url(#fin)" stroke="none" stroke-width="0.6" />
<rect x="233.17" y="244.86" width="8.72" height="83.0" fill="url(#fin)" stroke="none" stroke-width="0.6" />
<rect x="241.79" y="244.86" width="8.72" height="83.0" fill="url(#fin)" stroke="none" stroke-width="0.6" />
<rect x="250.41" y="244.86" width="8.72" height="83.0" fill="url(#fin)" stroke="none" stroke-width="0.6" />
<rect x="259.03" y="244.86" width="8.72" height="83.0" fill="url(#fin)" stroke="none" stroke-width="0.6" />
<rect x="267.65" y="244.86" width="8.72" height="83.0" fill="url(#fin)" stroke="none" stroke-width="0.6" />
<rect x="276.27" y="244.86" width="8.72" height="83.0" fill="url(#fin)" stroke="none" stroke-width="0.6" />
<rect x="284.89" y="244.86" width="8.72" height="83.0" fill="url(#fin)" stroke="none" stroke-width="0.6" />
<rect x="293.51" y="244.86" width="8.72" height="83.0" fill="url(#fin)" stroke="none" stroke-width="0.6" />
<rect x="302.13" y="244.86" width="8.72" height="83.0" fill="url(#fin)" stroke="none" stroke-width="0.6" />
<rect x="310.74" y="244.86" width="8.72" height="83.0" fill="url(#fin)" stroke="none" stroke-width="0.6" />
<rect x="319.36" y="244.86" width="8.72" height="83.0" fill="url(#fin)" stroke="none" stroke-width="0.6" />
<line x1="209.41" y1="244.86" x2="327.98" y2="244.86" stroke="#333" stroke-width="0.7" />
<line x1="209.41" y1="327.87" x2="327.98" y2="327.87" stroke="#333" stroke-width="0.7" />
<line x1="215.93" y1="244.86" x2="215.93" y2="327.87" stroke="#333" stroke-width="0.7" />
<line x1="327.98" y1="244.86" x2="327.98" y2="327.87" stroke="#4d5468" stroke-width="0.6" />
<rect x="209.41" y="256.72" width="6.13" height="14.23" fill="#8d98b3" stroke="#4d5468" stroke-width="0.4" />
<rect x="209.41" y="260.67" width="6.13" height="3.95" fill="#6f7b95" stroke="none" stroke-width="0.6" />
<rect x="209.41" y="300.2" width="6.13" height="17.79" fill="#d5dae6" stroke="#4d5468" stroke-width="0.4" />
<line x1="209.41" y1="309.09" x2="215.53" y2="309.09" stroke="#4d5468" stroke-width="0.4" />
<line x1="209.41" y1="233.0" x2="209.41" y2="338.14" stroke="#4d5468" stroke-width="0.6" />
<circle cx="221.26" cy="236.36" r="10.67" fill="#cdd3e1" stroke="#4d5468" stroke-width="0.6" />
<circle cx="221.26" cy="236.36" r="4.94" fill="#fff" stroke="#333" stroke-width="0.8" />
<circle cx="320.08" cy="236.36" r="11.07" fill="#cdd3e1" stroke="#4d5468" stroke-width="0.6" />
<circle cx="320.08" cy="236.36" r="4.94" fill="#fff" stroke="#333" stroke-width="0.8" />
<circle cx="221.26" cy="335.97" r="10.67" fill="#cdd3e1" stroke="#4d5468" stroke-width="0.6" />
<circle cx="221.26" cy="335.97" r="4.94" fill="#fff" stroke="#333" stroke-width="0.8" />
<circle cx="320.08" cy="335.97" r="11.07" fill="#cdd3e1" stroke="#4d5468" stroke-width="0.6" />
<circle cx="320.08" cy="335.97" r="4.94" fill="#fff" stroke="#333" stroke-width="0.8" />
<circle cx="332.92" cy="181.62" r="14.23" fill="#cdd3e1" stroke="#4d5468" stroke-width="0.7" />
<circle cx="332.92" cy="181.62" r="12.25" fill="none" stroke="#4d5468" stroke-width="0.5" />
<circle cx="332.92" cy="181.62" r="5.14" fill="#fff" stroke="#333" stroke-width="0.8" />
<circle cx="349.72" cy="391.7" r="14.23" fill="#cdd3e1" stroke="#4d5468" stroke-width="0.7" />
<circle cx="349.72" cy="391.7" r="12.25" fill="none" stroke="#4d5468" stroke-width="0.5" />
<circle cx="349.72" cy="391.7" r="5.14" fill="#fff" stroke="#333" stroke-width="0.8" />
<circle cx="270.67" cy="286.36" r="18.18" fill="url(#bore)" stroke="#3a3f4d" stroke-width="0.9" />
<circle cx="270.67" cy="286.36" r="15.42" fill="none" stroke="#555c6e" stroke-width="0.6" />
<circle cx="270.67" cy="286.36" r="12.85" fill="#fff" stroke="#333" stroke-width="1.0" />
<line x1="215.34" y1="286.36" x2="327.98" y2="286.36" stroke="#8a2fa8" stroke-width="0.8" />
<line x1="303.87" y1="310.47" x2="303.87" y2="324.9" stroke="#333" stroke-width="0.6" />
<line x1="270.67" y1="178.66" x2="270.67" y2="389.72" stroke="#000" stroke-width="0.8" />
<line x1="270.67" y1="178.66" x2="270.67" y2="203.75" stroke="#000" stroke-width="2.6" />
<line x1="270.67" y1="362.06" x2="270.67" y2="389.72" stroke="#000" stroke-width="2.6" />
<line x1="306.25" y1="191.5" x2="275.61" y2="191.5" stroke="#000" stroke-width="0.9" />
<polygon points="275.61,191.50 287.61,188.30 287.61,194.70" fill="#000"/>
<line x1="306.25" y1="376.48" x2="275.61" y2="376.48" stroke="#000" stroke-width="0.9" />
<polygon points="275.61,376.48 287.61,373.28 287.61,379.68" fill="#000"/>
<text x="321.66" y="376.28" font-size="9" text-anchor="start" font-weight="normal" fill="#000" >J</text>
<line x1="165.93" y1="233.0" x2="219.29" y2="233.0" stroke="#000" stroke-width="0.9" />
<line x1="165.93" y1="338.34" x2="246.96" y2="338.34" stroke="#000" stroke-width="0.9" />
<line x1="181.74" y1="244.86" x2="215.93" y2="244.86" stroke="#000" stroke-width="0.9" />
<line x1="181.74" y1="328.46" x2="215.93" y2="328.46" stroke="#000" stroke-width="0.9" />
<line x1="171.46" y1="233.0" x2="171.46" y2="278.46" stroke="#000" stroke-width="0.9" />
<line x1="171.46" y1="296.25" x2="171.46" y2="338.34" stroke="#000" stroke-width="0.9" />
<polygon points="171.46,233.00 173.36,241.00 169.56,241.00" fill="#000"/>
<polygon points="171.46,338.34 169.56,330.34 173.36,330.34" fill="#000"/>
<line x1="187.27" y1="244.86" x2="187.27" y2="278.46" stroke="#000" stroke-width="0.9" />
<line x1="187.27" y1="296.25" x2="187.27" y2="328.46" stroke="#000" stroke-width="0.9" />
<polygon points="187.27,244.86 189.17,252.86 185.37,252.86" fill="#000"/>
<polygon points="187.27,328.46 185.37,320.46 189.17,320.46" fill="#000"/>
<text x="0" y="0" font-size="6.4" text-anchor="middle" class="d" dy="0.36em" transform="translate(169.49 284.98) scale(1.18 1)">1.5</text>
<text x="0" y="0" font-size="6.4" text-anchor="middle" class="d" dy="0.36em" transform="translate(185.3 284.98) scale(1.18 1)">1.188</text>
<text x="0" y="0" font-size="6.4" text-anchor="middle" class="d" dy="0.36em" transform="translate(185.1 200.79) scale(1.18 1)">0.156</text>
<polyline points="205.06,201.38 212.96,201.38 212.96,232.02" fill="none" stroke="#000" stroke-width="0.9" />
<polygon points="212.96,233.00 211.06,225.00 214.86,225.00" fill="#000"/>
<line x1="212.96" y1="244.86" x2="212.96" y2="253.75" stroke="#000" stroke-width="0.9" />
<polygon points="212.96,244.86 214.86,252.86 211.06,252.86" fill="#000"/>
<text x="0" y="0" font-size="6.4" text-anchor="middle" class="d" dy="0.36em" transform="translate(226.8 202.77) scale(1.18 1)">0.75</text>
<polyline points="243.99,202.96 252.49,202.96 252.49,286.36" fill="none" stroke="#000" stroke-width="0.9" />
<polygon points="252.49,236.36 254.39,244.36 250.59,244.36" fill="#000"/>
<polygon points="252.49,286.36 250.59,278.36 254.39,278.36" fill="#000"/>
<line x1="242.61" y1="288.34" x2="242.61" y2="378.85" stroke="#000" stroke-width="0.9" />
<polygon points="242.61,286.76 244.51,294.76 240.71,294.76" fill="#000"/>
<polygon points="242.61,335.97 240.71,327.97 244.51,327.97" fill="#000"/>
<polyline points="235.1,378.85 242.61,378.85" fill="none" stroke="#000" stroke-width="0.9" />
<text x="0" y="0" font-size="6.4" text-anchor="middle" class="d" dy="0.36em" transform="translate(217.31 377.47) scale(1.18 1)">0.75</text>
<line x1="209.41" y1="339.33" x2="209.41" y2="358.1" stroke="#000" stroke-width="0.9" />
<line x1="215.93" y1="335.38" x2="215.93" y2="368.97" stroke="#000" stroke-width="0.9" />
<line x1="209.41" y1="353.16" x2="269.68" y2="353.16" stroke="#000" stroke-width="0.9" />
<polygon points="209.41,353.16 217.41,351.26 217.41,355.06" fill="#000"/>
<polygon points="269.68,353.16 261.68,355.06 261.68,351.26" fill="#000"/>
<text x="0" y="0" font-size="6.4" text-anchor="middle" class="d" dy="0.36em" transform="translate(193.6 351.58) scale(1.18 1)">0.875</text>
<line x1="215.93" y1="367.0" x2="236.09" y2="367.0" stroke="#000" stroke-width="0.9" />
<polygon points="215.93,367.00 223.93,365.10 223.93,368.90" fill="#000"/>
<line x1="274.62" y1="367.0" x2="327.98" y2="367.0" stroke="#000" stroke-width="0.9" />
<polygon points="327.98,367.00 319.98,368.90 319.98,365.10" fill="#000"/>
<text x="0" y="0" font-size="6.4" text-anchor="middle" class="d" dy="0.36em" transform="translate(255.85 365.61) scale(1.18 1)">1.586</text>
<line x1="327.98" y1="327.47" x2="327.98" y2="370.95" stroke="#000" stroke-width="0.9" />
<line x1="270.67" y1="347.63" x2="279.57" y2="347.63" stroke="#000" stroke-width="0.9" />
<polygon points="270.67,347.63 278.67,345.73 278.67,349.53" fill="#000"/>
<line x1="318.1" y1="347.63" x2="327.98" y2="347.63" stroke="#000" stroke-width="0.9" />
<polygon points="327.98,347.63 319.98,349.53 319.98,345.73" fill="#000"/>
<text x="0" y="0" font-size="6.4" text-anchor="middle" class="d" dy="0.36em" transform="translate(297.35 345.26) scale(1.18 1)">0.805</text>
<line x1="270.67" y1="304.15" x2="345.77" y2="304.15" stroke="#000" stroke-width="0.9" />
<polygon points="345.77,304.15 337.77,306.05 337.77,302.25" fill="#000"/>
<polygon points="270.67,304.15 278.67,302.25 278.67,306.05" fill="#000"/>
<text x="0" y="0" font-size="6.4" text-anchor="middle" class="d" dy="0.36em" transform="translate(364.55 302.37) scale(1.18 1)">1.063</text>
<line x1="351.7" y1="286.36" x2="396.17" y2="286.36" stroke="#000" stroke-width="0.9" />
<line x1="351.7" y1="343.28" x2="395.18" y2="343.28" stroke="#000" stroke-width="0.9" />
<line x1="390.24" y1="286.36" x2="390.24" y2="317.59" stroke="#000" stroke-width="0.9" />
<line x1="390.24" y1="328.46" x2="390.24" y2="343.28" stroke="#000" stroke-width="0.9" />
<polygon points="390.24,286.36 392.14,294.36 388.34,294.36" fill="#000"/>
<polygon points="390.24,343.28 388.34,335.28 392.14,335.28" fill="#000"/>
<text x="0" y="0" font-size="6.4" text-anchor="middle" class="d" dy="0.36em" transform="translate(388.26 322.53) scale(1.18 1)">0.813</text>
<polyline points="343.79,239.33 329.96,239.33 283.52,276.48" fill="none" stroke="#000" stroke-width="0.9" />
<polygon points="283.52,276.48 288.58,270.00 290.95,272.97" fill="#000"/>
<text x="0" y="0" font-size="6.4" text-anchor="middle" class="d" dy="0.36em" transform="translate(373.44 239.33) scale(1 1)" textLength="53.4" lengthAdjust="spacingAndGlyphs">M10x1  ↧ 0.475</text>
<text x="424.97" y="382.45" font-size="10" text-anchor="start" font-weight="normal" fill="#000" textLength="56.2" lengthAdjust="spacingAndGlyphs" >Section J-J</text>
<text x="390.2" y="409.2" font-size="14.5" text-anchor="start" font-weight="normal" fill="#000" textLength="127.7" lengthAdjust="spacingAndGlyphs" stroke="#000" stroke-width="0.35">CYLINDER HEAD</text>
<text x="402.57" y="420.23" font-size="9" text-anchor="start" font-weight="normal" fill="#000" textLength="98.6" lengthAdjust="spacingAndGlyphs" >1 off Al alloy casting</text>
<text x="386.86" y="431.94" font-size="9" text-anchor="start" font-weight="normal" fill="#000" textLength="131.1" lengthAdjust="spacingAndGlyphs" >or machined from the solid</text>
<polygon points="262.26,735.56 284.15,748.41 284.15,774.4 262.26,786.98 240.38,774.4 240.38,748.41" fill="#cdaa26" stroke="#8a6c0e" stroke-width="0.8" />
<circle cx="262.26" cy="761.54" r="18.6" fill="#8f6f12" stroke="#4a3806" stroke-width="0.9" />
<circle cx="262.26" cy="761.54" r="16.41" fill="none" stroke="#3a2c04" stroke-width="0.8" stroke-dasharray="1.5 1"/>
<circle cx="262.26" cy="761.54" r="13.68" fill="#c6a422" stroke="#6b5208" stroke-width="0.8" />
<circle cx="262.26" cy="761.54" r="4.65" fill="#fff" stroke="#6b5208" stroke-width="0.8" />
<text x="0" y="0" font-size="6.4" text-anchor="middle" class="d" dy="0.36em" transform="translate(211.12 719.69) scale(1.18 1)">0.625</text>
<line x1="240.38" y1="715.86" x2="240.38" y2="743.76" stroke="#000" stroke-width="0.9" />
<line x1="284.15" y1="715.86" x2="284.15" y2="743.76" stroke="#000" stroke-width="0.9" />
<line x1="230.26" y1="721.06" x2="284.15" y2="721.06" stroke="#000" stroke-width="0.9" />
<polygon points="240.38,721.06 248.38,719.16 248.38,722.96" fill="#000"/>
<polygon points="284.15,721.06 276.15,722.96 276.15,719.16" fill="#000"/>
<text x="0" y="0" font-size="6.4" text-anchor="middle" class="d" dy="0.36em" transform="translate(303.29 759.35) scale(1.18 1)">0.722</text>
<line x1="268.56" y1="735.56" x2="310.13" y2="735.56" stroke="#000" stroke-width="0.9" />
<line x1="268.56" y1="786.98" x2="310.13" y2="786.98" stroke="#000" stroke-width="0.9" />
<line x1="304.93" y1="735.56" x2="304.93" y2="753.34" stroke="#000" stroke-width="0.9" />
<line x1="304.93" y1="767.01" x2="304.93" y2="786.98" stroke="#000" stroke-width="0.9" />
<polygon points="304.93,735.56 306.83,743.56 303.03,743.56" fill="#000"/>
<polygon points="304.93,786.98 303.03,778.98 306.83,778.98" fill="#000"/>
<text x="0" y="0" font-size="6.4" text-anchor="middle" class="d" dy="0.36em" transform="translate(185.68 765.65) scale(1.18 1)">Ø0.125</text>
<polyline points="208.38,767.83 219.32,767.83 259.53,762.36" fill="none" stroke="#000" stroke-width="0.9" />
<polygon points="259.53,762.36 251.88,765.37 251.34,761.61" fill="#000"/>
<polygon points="265.00,761.54 273.00,759.64 273.00,763.44" fill="#000"/>
<text x="322.71" y="754.7" font-size="12.3" text-anchor="start" font-weight="bold" fill="#000" textLength="108.6" lengthAdjust="spacingAndGlyphs" >EXHAUST VALVE</text>
<text x="348.42" y="770.57" font-size="12.3" text-anchor="start" font-weight="bold" fill="#000" textLength="63.7" lengthAdjust="spacingAndGlyphs" >HOUSING</text>
<text x="325.45" y="782.6" font-size="8.5" text-anchor="start" font-weight="normal" fill="#000" textLength="109.9" lengthAdjust="spacingAndGlyphs" >phosphor bronze or GM</text>
<path d="M247.22 818.98 L276.76 818.98 L277.58 831.29 L277.58 902.41 L246.13 902.41 L246.13 831.29 Z" fill="url(#yh)" stroke="#8a6c0e" stroke-width="0.6" />
<rect x="248.86" y="902.41" width="26.53" height="3.28" fill="url(#yh)" stroke="#8a6c0e" stroke-width="0.6" />
<path d="M245.03 869.58 Q252.69 882.71 245.03 895.84 Z" fill="#fff" stroke="none" stroke-width="0.6" />
<path d="M246.13 869.58 Q252.69 882.71 246.13 895.84" fill="none" stroke="#8a6c0e" stroke-width="0.6" />
<rect x="240.38" y="854.54" width="43.76" height="8.75" fill="url(#yv)" stroke="#8a6c0e" stroke-width="0.6" />
<line x1="263.09" y1="854.54" x2="263.09" y2="863.29" stroke="#8a6c0e" stroke-width="0.5" />
<rect x="341.86" y="817.61" width="31.18" height="85.34" fill="url(#hatchy)" stroke="#8a6c0e" stroke-width="0.6" />
<polygon points="333.38,855.36 335.57,853.17 379.06,853.17 381.25,855.36 381.25,861.38 333.38,861.38" fill="url(#hatchy)" stroke="#8a6c0e" stroke-width="0.6" />
<rect x="347.06" y="817.61" width="21.33" height="43.76" fill="url(#yh)" stroke="#8a6c0e" stroke-width="0.5" />
<rect x="347.06" y="868.22" width="21.33" height="34.74" fill="url(#yh)" stroke="#8a6c0e" stroke-width="0.5" />
<rect x="354.72" y="861.38" width="6.29" height="6.84" fill="#d6b22c" stroke="#8a6c0e" stroke-width="0.4" />
<circle cx="357.45" cy="881.89" r="11.49" fill="#fff" stroke="#8a6c0e" stroke-width="0.7" />
<text x="0" y="0" font-size="7.2" text-anchor="middle" class="d" dy="0.36em" transform="translate(196.07 867.67) scale(1.18 1)">M12 x 1.0</text>
<line x1="219.32" y1="863.29" x2="245.31" y2="863.29" stroke="#000" stroke-width="0.9" />
<line x1="222.06" y1="898.3" x2="245.31" y2="898.3" stroke="#000" stroke-width="0.9" />
<polyline points="226.16,863.29 226.16,907.06 219.32,907.06" fill="none" stroke="#000" stroke-width="0.9" />
<polygon points="226.16,863.29 228.06,871.29 224.26,871.29" fill="#000"/>
<polygon points="226.16,898.30 224.26,890.30 228.06,890.30" fill="#000"/>
<text x="0" y="0" font-size="6.4" text-anchor="middle" class="d" dy="0.36em" transform="translate(202.91 905.14) scale(1.18 1)">0.5</text>
<line x1="234.37" y1="870.13" x2="245.31" y2="871.23" stroke="#000" stroke-width="0.9" />
<polygon points="234.37,870.13 239.37,868.73 239.37,871.53" fill="#000"/>
<text x="284.15" y="917.45" font-size="8.5" text-anchor="start" font-weight="normal" fill="#000" textLength="106.7" lengthAdjust="spacingAndGlyphs" >All other dimensions are the</text>
<text x="289.07" y="927.57" font-size="8.5" text-anchor="start" font-weight="normal" fill="#000" textLength="98.5" lengthAdjust="spacingAndGlyphs" >same as the inlet housing</text>
<text x="530.26" y="754.79" font-size="13" text-anchor="start" font-weight="bold" fill="#000" textLength="109.4" lengthAdjust="spacingAndGlyphs" >EXHAUST VALVE</text>
<text x="558.16" y="770.66" font-size="13" text-anchor="start" font-weight="bold" fill="#000" textLength="61.0" lengthAdjust="spacingAndGlyphs" >ROCKER</text>
<text x="543.33" y="782.4" font-size="8.5" text-anchor="start" font-weight="normal" fill="#000" textLength="88.8" lengthAdjust="spacingAndGlyphs" >bronze or gunmetal</text>
<polygon points="583.91,811.35 516.28,831.0 506.35,843.68 510.37,846.85 522.62,843.05 581.8,834.59" fill="#cdaa26" stroke="#8a6c0e" stroke-width="0.7" />
<polygon points="599.76,811.35 667.38,830.37 672.67,847.91 664.21,848.96 602.93,835.23" fill="#cdaa26" stroke="#8a6c0e" stroke-width="0.7" />
<circle cx="591.31" cy="822.55" r="12.26" fill="#cdaa26" stroke="#6b5208" stroke-width="0.8" />
<circle cx="591.31" cy="822.55" r="9.72" fill="#bf9e20" stroke="#6b5208" stroke-width="0.5" />
<circle cx="591.31" cy="822.55" r="5.92" fill="#fff" stroke="#6b5208" stroke-width="0.7" />
<circle cx="668.44" cy="839.45" r="8.88" fill="#cdaa26" stroke="#6b5208" stroke-width="0.8" />
<circle cx="668.44" cy="839.45" r="3.59" fill="#fff" stroke="#6b5208" stroke-width="0.7" />
<line x1="515.23" y1="831.64" x2="522.2" y2="843.05" stroke="#6b5208" stroke-width="0.5" />
<line x1="518.4" y1="830.37" x2="524.74" y2="842.2" stroke="#6b5208" stroke-width="0.5" />
<line x1="512.06" y1="832.06" x2="591.31" y2="822.55" stroke="#8a2fa8" stroke-width="0.7" stroke-dasharray="9 3"/>
<line x1="591.31" y1="822.55" x2="668.44" y2="839.45" stroke="#8a2fa8" stroke-width="0.7" stroke-dasharray="9 3"/>
<line x1="577.57" y1="822.55" x2="606.1" y2="822.55" stroke="#8a2fa8" stroke-width="0.8" />
<line x1="591.31" y1="806.7" x2="591.31" y2="836.28" stroke="#8a2fa8" stroke-width="0.8" />
<line x1="656.82" y1="839.45" x2="682.18" y2="839.45" stroke="#8a2fa8" stroke-width="0.8" />
<line x1="668.44" y1="827.83" x2="668.44" y2="852.13" stroke="#8a2fa8" stroke-width="0.8" />
<line x1="495.15" y1="832.06" x2="528.96" y2="832.06" stroke="#8a2fa8" stroke-width="0.8" />
<line x1="512.06" y1="816.21" x2="512.06" y2="848.96" stroke="#8a2fa8" stroke-width="0.8" />
<rect x="506.35" y="883.83" width="170.96" height="11.62" fill="url(#yv)" stroke="#8a6c0e" stroke-width="0.7" />
<polygon points="506.35,882.35 520.93,882.35 523.05,883.83 523.05,895.46 520.93,895.88 506.35,895.88" fill="url(#yv)" stroke="#8a6c0e" stroke-width="0.7" />
<polygon points="677.32,882.35 662.1,882.35 659.99,883.83 659.99,895.46 662.1,895.88 677.32,895.88" fill="url(#yv)" stroke="#8a6c0e" stroke-width="0.7" />
<rect x="580.32" y="880.03" width="21.98" height="21.34" fill="url(#yh)" stroke="#8a6c0e" stroke-width="0.7" />
<line x1="591.31" y1="883.83" x2="591.31" y2="893.34" stroke="#8a6c0e" stroke-width="0.5" />
<line x1="591.31" y1="893.34" x2="602.3" y2="893.34" stroke="#8a6c0e" stroke-width="0.5" />
<text x="0" y="0" font-size="6.4" text-anchor="middle" class="d" dy="0.36em" transform="translate(670.13 792.96) scale(1 1)" textLength="62.3" lengthAdjust="spacingAndGlyphs">Ø0.188 ↧ THRU</text>
<polyline points="635.68,794.02 621.95,794.02 597.01,816.84" fill="none" stroke="#000" stroke-width="0.9" />
<polygon points="596.59,817.27 600.56,811.23 602.98,813.89" fill="#000"/>
<text x="0" y="0" font-size="6.4" text-anchor="middle" class="d" dy="0.36em" transform="translate(538.9 810.29) scale(1.18 1)">1.125</text>
<line x1="558.55" y1="807.12" x2="583.91" y2="799.94" stroke="#000" stroke-width="0.9" />
<polygon points="584.33,799.73 578.09,803.37 577.10,799.91" fill="#000"/>
<line x1="583.49" y1="794.44" x2="588.56" y2="812.62" stroke="#000" stroke-width="0.9" />
<text x="0" y="0" font-size="6.4" text-anchor="middle" class="d" dy="0.36em" transform="translate(636.11 805.64) scale(1.18 1)">1.125</text>
<line x1="598.7" y1="798.67" x2="612.44" y2="801.42" stroke="#000" stroke-width="0.9" />
<polygon points="598.70,798.67 605.92,798.28 605.21,801.81" fill="#000"/>
<line x1="598.7" y1="794.44" x2="595.53" y2="811.35" stroke="#000" stroke-width="0.9" />
<line x1="654.7" y1="811.98" x2="674.78" y2="816.21" stroke="#000" stroke-width="0.9" />
<polygon points="674.78,816.21 667.56,816.53 668.30,813.01" fill="#000"/>
<line x1="675.84" y1="810.93" x2="670.55" y2="836.71" stroke="#000" stroke-width="0.9" />
<text x="0" y="0" font-size="6.4" text-anchor="middle" class="d" dy="0.36em" transform="translate(477.82 819.8) scale(1.18 1)">R0.188</text>
<polyline points="497.27,821.07 506.78,821.07 513.11,832.06" fill="none" stroke="#000" stroke-width="0.9" />
<line x1="512.48" y1="821.07" x2="520.93" y2="818.96" stroke="#000" stroke-width="0.9" />
<polygon points="512.48,821.07 517.89,817.97 518.71,821.26" fill="#000"/>
<text x="0" y="0" font-size="6.9" text-anchor="middle" class="d" dy="0.36em" transform="translate(711.76 827.2) scale(1.18 1)">Ø0.25</text>
<polyline points="693.8,828.89 684.29,828.89 676.47,835.02" fill="none" stroke="#000" stroke-width="0.9" />
<polygon points="676.05,835.44 680.39,829.66 682.64,832.47" fill="#000"/>
<text x="0" y="0" font-size="6.4" text-anchor="middle" class="d" dy="0.36em" transform="translate(600.82 846.43) scale(1.18 1)">150 °</text>
<path d="M564.89 831.64 Q570.17 845.79 582.85 849.39" fill="none" stroke="#000" stroke-width="0.9" />
<polygon points="564.47,830.37 568.39,836.44 564.98,837.58" fill="#000"/>
<line x1="615.61" y1="838.4" x2="617.3" y2="831.64" stroke="#000" stroke-width="0.9" />
<polygon points="617.51,830.79 617.56,838.02 614.07,837.14" fill="#000"/>
<text x="0" y="0" font-size="6.4" text-anchor="middle" class="d" dy="0.36em" transform="translate(697.6 863.76) scale(1 1)" textLength="49.7" lengthAdjust="spacingAndGlyphs">4BA ↧ THRU</text>
<polyline points="671.61,865.45 655.76,865.45 665.27,846.85" fill="none" stroke="#000" stroke-width="0.9" />
<polygon points="665.48,846.22 663.96,853.29 660.74,851.68" fill="#000"/>
<line x1="654.7" y1="848.33" x2="661.04" y2="843.89" stroke="#000" stroke-width="0.9" />
<polygon points="661.04,843.89 657.16,848.81 655.09,845.86" fill="#000"/>
<text x="0" y="0" font-size="6.9" text-anchor="middle" class="d" dy="0.36em" transform="translate(564.26 864.81) scale(1.18 1)">Ø0.313</text>
<line x1="580.32" y1="860.59" x2="580.32" y2="890.17" stroke="#000" stroke-width="0.9" />
<line x1="602.3" y1="860.59" x2="602.3" y2="880.66" stroke="#000" stroke-width="0.9" />
<line x1="580.32" y1="866.93" x2="602.3" y2="866.93" stroke="#000" stroke-width="0.9" />
<polygon points="580.32,866.93 588.32,865.03 588.32,868.83" fill="#000"/>
<polygon points="602.30,866.93 594.30,868.83 594.30,865.03" fill="#000"/>
<text x="0" y="0" font-size="6.4" text-anchor="middle" class="d" dy="0.36em" transform="translate(619.41 866.5) scale(1.18 1)">0.063</text>
<polyline points="639.91,869.46 646.67,869.46 646.67,879.18" fill="none" stroke="#000" stroke-width="0.9" />
<polygon points="646.67,879.18 644.97,873.18 648.37,873.18" fill="#000"/>
<line x1="608.21" y1="879.18" x2="651.53" y2="879.18" stroke="#000" stroke-width="0.9" />
<line x1="646.67" y1="883.83" x2="646.67" y2="892.71" stroke="#000" stroke-width="1.4" />
<line x1="684.71" y1="874.32" x2="684.71" y2="882.35" stroke="#000" stroke-width="0.9" />
<polygon points="684.71,882.35 683.01,876.35 686.41,876.35" fill="#000"/>
<line x1="682.18" y1="882.35" x2="689.57" y2="882.35" stroke="#000" stroke-width="0.9" />
<line x1="682.18" y1="895.46" x2="689.57" y2="895.46" stroke="#000" stroke-width="0.9" />
<polyline points="684.71,895.46 684.71,920.39 675.84,920.39" fill="none" stroke="#000" stroke-width="0.9" />
<polygon points="684.71,895.46 686.41,901.46 683.01,901.46" fill="#000"/>
<text x="0" y="0" font-size="6.4" text-anchor="middle" class="d" dy="0.36em" transform="translate(657.45 917.65) scale(1.18 1)">0.188</text>
<text x="0" y="0" font-size="6.4" text-anchor="middle" class="d" dy="0.36em" transform="translate(485.22 917.65) scale(1.18 1)">0.188</text>
<polyline points="504.03,919.34 512.48,919.34 512.48,895.88" fill="none" stroke="#000" stroke-width="0.9" />
<polygon points="512.48,895.88 514.18,901.88 510.78,901.88" fill="#000"/>
<line x1="512.48" y1="873.27" x2="512.48" y2="882.35" stroke="#000" stroke-width="0.9" />
<polygon points="512.48,882.35 510.78,876.35 514.18,876.35" fill="#000"/>
<text x="0" y="0" font-size="6.4" text-anchor="middle" class="d" dy="0.36em" transform="translate(530.44 917.65) scale(1.18 1)">0.125</text>
<polyline points="549.04,919.34 557.49,919.34 557.49,895.46" fill="none" stroke="#000" stroke-width="0.9" />
<polygon points="557.49,895.46 559.19,901.46 555.79,901.46" fill="#000"/>
<line x1="557.49" y1="876.44" x2="557.49" y2="883.83" stroke="#000" stroke-width="0.9" />
<polygon points="557.49,883.83 555.79,877.83 559.19,877.83" fill="#000"/>
<text x="0" y="0" font-size="6.4" text-anchor="middle" class="d" dy="0.36em" transform="translate(578.63 917.65) scale(1.18 1)">0.125</text>
<polyline points="598.28,919.34 605.46,919.34 605.46,901.37" fill="none" stroke="#000" stroke-width="0.9" />
<polygon points="605.46,901.37 607.16,907.37 603.76,907.37" fill="#000"/>
<line x1="602.3" y1="901.37" x2="611.38" y2="901.37" stroke="#000" stroke-width="0.9" />
<line x1="605.46" y1="883.83" x2="605.46" y2="892.71" stroke="#000" stroke-width="1.4" />
<rect x="535.73" y="688.6" width="40.21" height="15.59" fill="url(#gvl)" stroke="#3d4252" stroke-width="0.6" />
<rect x="575.94" y="685.86" width="21.33" height="19.69" fill="url(#gvl)" stroke="#3d4252" stroke-width="0.6" />
<rect x="597.28" y="682.31" width="4.65" height="23.25" fill="#b4bdd0" stroke="#3d4252" stroke-width="0.6" />
<line x1="535.73" y1="709.11" x2="602.75" y2="709.11" stroke="#000" stroke-width="1.3" />
<line x1="535.73" y1="704.19" x2="535.73" y2="711.58" stroke="#000" stroke-width="0.9" />
<line x1="575.94" y1="704.19" x2="575.94" y2="711.58" stroke="#000" stroke-width="0.9" />
<line x1="589.07" y1="704.19" x2="589.07" y2="711.58" stroke="#000" stroke-width="0.9" />
<line x1="597.28" y1="704.19" x2="597.28" y2="711.58" stroke="#000" stroke-width="0.9" />
<polygon points="535.73,709.11 541.73,707.41 541.73,710.81" fill="#000"/>
<polygon points="575.94,709.11 581.94,707.41 581.94,710.81" fill="#000"/>
<polygon points="589.07,709.11 594.07,707.41 594.07,710.81" fill="#000"/>
<circle cx="601.93" cy="709.11" r="1.09" fill="#000" stroke="none" stroke-width="0.6" />
<path d="M589.07 709.11 Q590.44 700.09 597.28 697.35" fill="none" stroke="#000" stroke-width="0.8" />
<text x="0" y="0" font-size="6.4" text-anchor="middle" class="d" dy="0.36em" transform="translate(534.37 728.81) rotate(-90) scale(1.18 1)">0.938</text>
<text x="0" y="0" font-size="6.4" text-anchor="middle" class="d" dy="0.36em" transform="translate(573.21 728.81) rotate(-90) scale(1.18 1)">0.375</text>
<text x="0" y="0" font-size="6.4" text-anchor="middle" class="d" dy="0.36em" transform="translate(588.52 728.81) rotate(-90) scale(1.18 1)">0.063</text>
<text x="0" y="0" font-size="6.4" text-anchor="middle" class="d" dy="0.36em" transform="translate(600.56 721.42) rotate(-90) scale(1.18 1)">0</text>
<path d="M781.76 184.45 L796.19 258.54 L852.49 219.03 L811.99 178.53 Z" fill="#c5ccdc" stroke="#4d5468" stroke-width="0.5" />
<path d="M783.34 286.2 L858.82 286.2 L858.82 355.35 L840.64 355.35 L790.26 401.58 L765.17 384.99 L783.34 341.92 Z" fill="#c5ccdc" stroke="#4d5468" stroke-width="0.5" />
<circle cx="808.63" cy="236.81" r="12.25" fill="#c5ccdc" stroke="#4d5468" stroke-width="0.5" />
<circle cx="908.8" cy="236.81" r="12.25" fill="#c5ccdc" stroke="#4d5468" stroke-width="0.5" />
<circle cx="808.63" cy="335.48" r="12.25" fill="#c5ccdc" stroke="#4d5468" stroke-width="0.5" />
<circle cx="908.8" cy="335.48" r="12.25" fill="#c5ccdc" stroke="#4d5468" stroke-width="0.5" />
<circle cx="858.82" cy="286.2" r="69.94" fill="#c5ccdc" stroke="#4d5468" stroke-width="0.5" />
<line x1="783.34" y1="286.2" x2="783.34" y2="341.92" stroke="#4d5468" stroke-width="0.6" />
<circle cx="858.82" cy="286.2" r="52.75" fill="none" stroke="#4d5468" stroke-width="0.6" />
<circle cx="858.82" cy="286.2" r="46.23" fill="url(#bowl)" stroke="#4d5468" stroke-width="0.7" />
<ellipse cx="858.42" cy="286.6" rx="19.36" ry="11.46" fill="#c3cbdb" stroke="#4d5468" stroke-width="0.6" />
<polygon points="848.54,282.25 853.48,276.72 864.35,276.72 868.69,282.25 868.69,291.73 864.35,297.07 853.48,297.07 848.54,291.73" fill="#fff" stroke="#4d5468" stroke-width="0.5" />
<circle cx="796.78" cy="181.49" r="15.41" fill="#c5ccdc" stroke="#4d5468" stroke-width="0.7" />
<circle cx="779.39" cy="390.8" r="15.41" fill="#c5ccdc" stroke="#4d5468" stroke-width="0.7" />
<circle cx="808.63" cy="236.81" r="4.35" fill="#fff" stroke="#4d5468" stroke-width="0.6" />
<line x1="799.74" y1="236.81" x2="817.52" y2="236.81" stroke="#8a2fa8" stroke-width="0.7" />
<line x1="808.63" y1="227.92" x2="808.63" y2="245.7" stroke="#8a2fa8" stroke-width="0.7" />
<circle cx="908.8" cy="236.81" r="4.35" fill="#fff" stroke="#4d5468" stroke-width="0.6" />
<line x1="899.91" y1="236.81" x2="917.69" y2="236.81" stroke="#8a2fa8" stroke-width="0.7" />
<line x1="908.8" y1="227.92" x2="908.8" y2="245.7" stroke="#8a2fa8" stroke-width="0.7" />
<circle cx="808.63" cy="335.48" r="4.35" fill="#fff" stroke="#4d5468" stroke-width="0.6" />
<line x1="799.74" y1="335.48" x2="817.52" y2="335.48" stroke="#8a2fa8" stroke-width="0.7" />
<line x1="808.63" y1="326.59" x2="808.63" y2="344.37" stroke="#8a2fa8" stroke-width="0.7" />
<circle cx="908.8" cy="335.48" r="4.35" fill="#fff" stroke="#4d5468" stroke-width="0.6" />
<line x1="899.91" y1="335.48" x2="917.69" y2="335.48" stroke="#8a2fa8" stroke-width="0.7" />
<line x1="908.8" y1="326.59" x2="908.8" y2="344.37" stroke="#8a2fa8" stroke-width="0.7" />
<circle cx="796.78" cy="181.49" r="4.35" fill="#fff" stroke="#4d5468" stroke-width="0.6" />
<line x1="787.89" y1="181.49" x2="805.67" y2="181.49" stroke="#8a2fa8" stroke-width="0.7" />
<line x1="796.78" y1="172.6" x2="796.78" y2="190.38" stroke="#8a2fa8" stroke-width="0.7" />
<circle cx="779.39" cy="390.8" r="4.35" fill="#fff" stroke="#4d5468" stroke-width="0.6" />
<line x1="770.5" y1="390.8" x2="788.28" y2="390.8" stroke="#8a2fa8" stroke-width="0.7" />
<line x1="779.39" y1="381.9" x2="779.39" y2="399.69" stroke="#8a2fa8" stroke-width="0.7" />
<line x1="738.89" y1="286.2" x2="915.72" y2="286.2" stroke="#000" stroke-width="0.9" />
<line x1="915.72" y1="286.2" x2="990.0" y2="286.2" stroke="#9a9a9a" stroke-width="0.8" stroke-dasharray="6 3"/>
<line x1="805.08" y1="286.2" x2="913.74" y2="286.2" stroke="#8a2fa8" stroke-width="1.3" />
<line x1="858.82" y1="167.66" x2="858.82" y2="219.03" stroke="#000" stroke-width="0.9" />
<line x1="858.82" y1="219.03" x2="858.82" y2="362.74" stroke="#8a2fa8" stroke-width="1.0" />
<line x1="858.82" y1="354.84" x2="858.82" y2="365.7" stroke="#000" stroke-width="0.9" />
<line x1="781.37" y1="181.49" x2="816.93" y2="181.49" stroke="#8a2fa8" stroke-width="0.8" />
<line x1="796.78" y1="161.73" x2="796.78" y2="199.27" stroke="#8a2fa8" stroke-width="0.8" />
<line x1="764.57" y1="390.8" x2="798.16" y2="390.8" stroke="#8a2fa8" stroke-width="0.8" />
<line x1="779.39" y1="378.55" x2="779.39" y2="406.21" stroke="#8a2fa8" stroke-width="0.8" />
<line x1="738.89" y1="181.49" x2="789.27" y2="181.49" stroke="#000" stroke-width="0.9" />
<line x1="738.89" y1="390.8" x2="769.51" y2="390.8" stroke="#000" stroke-width="0.9" />
<line x1="743.83" y1="181.49" x2="743.83" y2="224.96" stroke="#000" stroke-width="0.9" />
<line x1="743.83" y1="239.77" x2="743.83" y2="286.2" stroke="#000" stroke-width="0.9" />
<polygon points="743.83,181.49 745.73,189.49 741.93,189.49" fill="#000"/>
<polygon points="743.83,286.20 741.93,278.20 745.73,278.20" fill="#000"/>
<line x1="743.83" y1="286.2" x2="743.83" y2="330.14" stroke="#000" stroke-width="0.9" />
<line x1="743.83" y1="344.96" x2="743.83" y2="390.8" stroke="#000" stroke-width="0.9" />
<polygon points="743.83,286.20 745.73,294.20 741.93,294.20" fill="#000"/>
<polygon points="743.83,390.80 741.93,382.80 745.73,382.80" fill="#000"/>
<text x="0" y="0" font-size="6.4" text-anchor="middle" class="d" dy="0.36em" transform="translate(742.84 232.46) scale(1.18 1)">1.5</text>
<text x="0" y="0" font-size="6.4" text-anchor="middle" class="d" dy="0.36em" transform="translate(743.83 337.45) scale(1.18 1)">1.5</text>
<line x1="760.62" y1="236.81" x2="816.93" y2="236.81" stroke="#000" stroke-width="0.9" />
<line x1="760.62" y1="335.48" x2="816.93" y2="335.48" stroke="#000" stroke-width="0.9" />
<line x1="765.56" y1="236.81" x2="765.56" y2="253.6" stroke="#000" stroke-width="0.9" />
<line x1="765.56" y1="267.43" x2="765.56" y2="286.2" stroke="#000" stroke-width="0.9" />
<polygon points="765.56,236.81 767.46,244.81 763.66,244.81" fill="#000"/>
<polygon points="765.56,286.20 763.66,278.20 767.46,278.20" fill="#000"/>
<line x1="765.56" y1="286.2" x2="765.56" y2="302.48" stroke="#000" stroke-width="0.9" />
<line x1="765.56" y1="317.3" x2="765.56" y2="335.48" stroke="#000" stroke-width="0.9" />
<polygon points="765.56,286.20 767.46,294.20 763.66,294.20" fill="#000"/>
<polygon points="765.56,335.48 763.66,327.48 767.46,327.48" fill="#000"/>
<text x="0" y="0" font-size="6.4" text-anchor="middle" class="d" dy="0.36em" transform="translate(763.59 260.52) scale(1.18 1)">0.707</text>
<text x="0" y="0" font-size="6.4" text-anchor="middle" class="d" dy="0.36em" transform="translate(763.59 309.4) scale(1.18 1)">0.707</text>
<text x="0" y="0" font-size="6.4" text-anchor="middle" class="d" dy="0.36em" transform="translate(816.34 152.45) scale(1.18 1)">R0.219</text>
<polyline points="796.19,153.43 788.88,153.43 791.25,164.7" fill="none" stroke="#000" stroke-width="0.9" />
<polygon points="791.64,166.08 787.86,158.78 791.54,157.86" fill="#000"/>
<text x="0" y="0" font-size="6.4" text-anchor="middle" class="d" dy="0.36em" transform="translate(821.87 171.61) scale(1.18 1)">0.875</text>
<line x1="796.78" y1="171.61" x2="806.06" y2="171.61" stroke="#000" stroke-width="0.9" />
<polygon points="796.78,171.61 804.78,169.71 804.78,173.51" fill="#000"/>
<line x1="841.63" y1="171.61" x2="858.82" y2="171.61" stroke="#000" stroke-width="0.9" />
<polygon points="858.82,171.61 850.82,173.51 850.82,169.71" fill="#000"/>
<text x="0" y="0" font-size="6.4" text-anchor="middle" class="d" dy="0.36em" transform="translate(834.71 196.9) scale(1.18 1)">0.707</text>
<line x1="808.63" y1="197.3" x2="817.92" y2="197.3" stroke="#000" stroke-width="0.9" />
<polygon points="808.63,197.30 816.63,195.40 816.63,199.20" fill="#000"/>
<line x1="850.52" y1="197.3" x2="866.32" y2="197.3" stroke="#000" stroke-width="0.9" />
<polygon points="858.82,197.30 850.82,199.20 850.82,195.40" fill="#000"/>
<polygon points="858.82,197.30 866.82,195.40 866.82,199.20" fill="#000"/>
<text x="0" y="0" font-size="6.4" text-anchor="middle" class="d" dy="0.36em" transform="translate(881.14 196.9) scale(1.18 1)">0.707</text>
<line x1="899.91" y1="197.3" x2="908.8" y2="197.3" stroke="#000" stroke-width="0.9" />
<polygon points="908.80,197.30 900.80,199.20 900.80,195.40" fill="#000"/>
<line x1="808.63" y1="192.36" x2="808.63" y2="246.69" stroke="#000" stroke-width="0.9" />
<line x1="908.8" y1="192.36" x2="908.8" y2="246.69" stroke="#000" stroke-width="0.9" />
<text x="0" y="0" font-size="6.4" text-anchor="middle" class="d" dy="0.36em" transform="translate(953.25 215.08) scale(1 1)" textLength="35.6" lengthAdjust="spacingAndGlyphs">4x Ø0.142</text>
<polyline points="931.52,215.47 917.69,215.47 911.37,229.89" fill="none" stroke="#000" stroke-width="0.9" />
<polygon points="911.37,229.89 912.84,221.80 916.32,223.33" fill="#000"/>
<text x="0" y="0" font-size="6.4" text-anchor="middle" class="d" dy="0.36em" transform="translate(889.04 245.3) scale(1.18 1)">Ø0.313</text>
<polyline points="867.9,248.27 858.82,248.27 851.51,285.21" fill="none" stroke="#000" stroke-width="0.9" />
<polygon points="851.51,285.21 851.20,276.99 854.93,277.73" fill="#000"/>
<text x="0" y="0" font-size="6.4" text-anchor="middle" class="d" dy="0.36em" transform="translate(889.64 255.18) scale(1.18 1)">0.25</text>
<line x1="841.63" y1="257.16" x2="850.12" y2="257.16" stroke="#000" stroke-width="0.9" />
<polygon points="850.12,257.16 842.12,259.06 842.12,255.26" fill="#000"/>
<line x1="867.31" y1="257.16" x2="876.2" y2="257.16" stroke="#000" stroke-width="0.9" />
<polygon points="867.31,257.16 875.31,255.26 875.31,259.06" fill="#000"/>
<line x1="850.12" y1="252.61" x2="850.12" y2="302.01" stroke="#000" stroke-width="0.9" />
<line x1="867.31" y1="252.61" x2="867.31" y2="302.01" stroke="#000" stroke-width="0.9" />
<text x="0" y="0" font-size="6.4" text-anchor="middle" class="d" dy="0.36em" transform="translate(947.33 250.24) scale(1.18 1)">Ø1.322</text>
<polyline points="928.56,252.22 917.69,252.22 817.92,308.92" fill="none" stroke="#000" stroke-width="0.9" />
<polygon points="817.92,308.92 823.94,303.32 825.81,306.62" fill="#000"/>
<polygon points="898.92,262.89 892.90,268.49 891.03,265.19" fill="#000"/>
<text x="0" y="0" font-size="6.4" text-anchor="middle" class="d" dy="0.36em" transform="translate(955.23 289.56) scale(1.18 1)">Ø2</text>
<line x1="789.27" y1="278.89" x2="970.05" y2="298.06" stroke="#000" stroke-width="0.9" />
<polygon points="789.27,278.89 797.43,277.84 797.03,281.62" fill="#000"/>
<polygon points="928.16,293.71 920.00,294.76 920.40,290.98" fill="#000"/>
<text x="0" y="0" font-size="6.4" text-anchor="middle" class="d" dy="0.36em" transform="translate(957.21 334.49) scale(1.18 1)">Ø1.5</text>
<polyline points="940.41,337.06 931.52,337.06 814.96,257.55" fill="none" stroke="#000" stroke-width="0.9" />
<polygon points="814.96,257.55 822.65,260.47 820.52,263.61" fill="#000"/>
<polygon points="901.89,316.31 894.20,313.39 896.33,310.25" fill="#000"/>
<text x="0" y="0" font-size="6.4" text-anchor="middle" class="d" dy="0.36em" transform="translate(806.06 321.65) scale(1.18 1)">1.063</text>
<line x1="783.34" y1="323.23" x2="793.22" y2="323.23" stroke="#000" stroke-width="0.9" />
<line x1="825.82" y1="323.23" x2="858.82" y2="323.23" stroke="#000" stroke-width="0.9" />
<polygon points="783.34,323.23 791.34,321.33 791.34,325.13" fill="#000"/>
<polygon points="858.82,323.23 850.82,325.13 850.82,321.33" fill="#000"/>
<text x="0" y="0" font-size="6.4" text-anchor="middle" class="d" dy="0.36em" transform="translate(813.97 358.2) scale(1.18 1)">1.125</text>
<line x1="779.39" y1="360.37" x2="796.19" y2="360.37" stroke="#000" stroke-width="0.9" />
<line x1="832.74" y1="360.37" x2="858.82" y2="360.37" stroke="#000" stroke-width="0.9" />
<polygon points="779.39,360.37 787.39,358.47 787.39,362.27" fill="#000"/>
<polygon points="858.82,360.37 850.82,362.27 850.82,358.47" fill="#000"/>
<line x1="779.39" y1="354.84" x2="779.39" y2="410.16" stroke="#000" stroke-width="0.9" />
<text x="0" y="0" font-size="6.4" text-anchor="middle" class="d" dy="0.36em" transform="translate(941.4 363.33) scale(1.18 1)">R0.168</text>
<polyline points="921.64,365.7 913.74,365.7 909.79,348.32" fill="none" stroke="#000" stroke-width="0.9" />
<polygon points="909.79,348.32 913.22,355.79 909.50,356.54" fill="#000"/>
<text x="0" y="0" font-size="6.4" text-anchor="middle" class="d" dy="0.36em" transform="translate(733.95 410.55) scale(1 1)" textLength="37.5" lengthAdjust="spacingAndGlyphs">3x Ø0.141</text>
<polyline points="760.62,411.14 775.44,411.14 779.0,396.33" fill="none" stroke="#000" stroke-width="0.9" />
<polygon points="779.00,396.33 778.90,404.55 775.22,403.63" fill="#000"/>
<text x="0" y="0" font-size="6.4" text-anchor="middle" class="d" dy="0.36em" transform="translate(812.98 431.49) scale(1.18 1)">R0.219</text>
<polyline points="793.22,432.88 784.33,432.88 781.76,407.19" fill="none" stroke="#000" stroke-width="0.9" />
<polygon points="781.76,406.60 784.45,414.37 780.67,414.75" fill="#000"/>
<text x="894.66" y="524.94" font-size="11.5" text-anchor="start" font-weight="bold" fill="#000" textLength="112.8" lengthAdjust="spacingAndGlyphs" >INNER CAMSHAFT</text>
<text x="918.59" y="538.62" font-size="11.5" text-anchor="start" font-weight="bold" fill="#000" textLength="60.9" lengthAdjust="spacingAndGlyphs" >BRACKET</text>
<text x="929.76" y="548.88" font-size="8" text-anchor="start" font-weight="normal" fill="#000" textLength="43.5" lengthAdjust="spacingAndGlyphs" >GM casting</text>
<path d="M889.31 570.97 L918.49 570.97 A16.05 16.05 0 0 1 918.49 601.61 L898.79 601.98 L898.79 621.13 L889.31 621.13 Z" fill="#cdaa26" stroke="#8a6c0e" stroke-width="0.7" />
<circle cx="915.39" cy="586.11" r="15.68" fill="#8f6f12" stroke="#6b5208" stroke-width="0.8" />
<circle cx="915.39" cy="586.11" r="14.23" fill="none" stroke="#4a3806" stroke-width="0.6" stroke-dasharray="1.5 1"/>
<circle cx="915.39" cy="586.11" r="12.4" fill="#b8901a" stroke="#6b5208" stroke-width="0.6" />
<circle cx="915.39" cy="586.11" r="9.12" fill="#fff" stroke="#6b5208" stroke-width="0.8" />
<line x1="902.98" y1="586.11" x2="927.97" y2="586.11" stroke="#7a2a8a" stroke-width="0.8" />
<line x1="915.39" y1="573.71" x2="915.39" y2="598.88" stroke="#7a2a8a" stroke-width="0.8" />
<text x="0" y="0" font-size="6.9" text-anchor="middle" class="d" dy="0.36em" transform="translate(916.12 558.21) scale(1.18 1)">Ø0.438</text>
<polyline points="895.69,560.94 887.12,560.94 927.61,594.68" fill="none" stroke="#000" stroke-width="0.9" />
<polygon points="927.61,594.68 921.08,591.58 923.38,588.82" fill="#000"/>
<polygon points="907.18,577.72 913.71,580.82 911.41,583.58" fill="#000"/>
<text x="0" y="0" font-size="6.4" text-anchor="middle" class="d" dy="0.36em" transform="translate(877.45 593.41) scale(1.18 1)">0.719</text>
<line x1="874.71" y1="570.97" x2="883.83" y2="570.97" stroke="#000" stroke-width="0.9" />
<line x1="874.71" y1="621.13" x2="884.75" y2="621.13" stroke="#000" stroke-width="0.9" />
<line x1="879.27" y1="570.97" x2="879.27" y2="585.56" stroke="#000" stroke-width="0.9" />
<line x1="879.27" y1="601.07" x2="879.27" y2="621.13" stroke="#000" stroke-width="0.9" />
<polygon points="879.27,570.97 881.07,577.97 877.47,577.97" fill="#000"/>
<polygon points="879.27,621.13 877.47,614.13 881.07,614.13" fill="#000"/>
<text x="0" y="0" font-size="7.2" text-anchor="middle" class="d" dy="0.36em" transform="translate(931.62 615.66) scale(1.18 1)">Ø0.25</text>
<polyline points="918.49,617.48 905.72,617.48 912.1,596.51" fill="none" stroke="#000" stroke-width="0.9" />
<polygon points="912.29,595.60 912.00,602.82 908.55,601.79" fill="#000"/>
<rect x="979.58" y="570.97" width="22.8" height="31.0" fill="url(#yh)" stroke="#8a6c0e" stroke-width="0.7" />
<rect x="1002.38" y="571.89" width="4.01" height="29.18" fill="url(#yv)" stroke="#8a6c0e" stroke-width="0.6" />
<rect x="1006.39" y="573.34" width="17.51" height="24.44" fill="url(#yv)" stroke="#8a6c0e" stroke-width="0.6" />
<rect x="953.69" y="601.98" width="48.15" height="19.15" fill="#cdaa26" stroke="#8a6c0e" stroke-width="0.7" />
<line x1="979.58" y1="601.98" x2="979.58" y2="621.13" stroke="#8a6c0e" stroke-width="0.5" />
<circle cx="961.89" cy="612.92" r="3.1" fill="#fff" stroke="#6b5208" stroke-width="0.7" />
<line x1="954.6" y1="612.92" x2="969.19" y2="612.92" stroke="#8a2a4a" stroke-width="0.7" />
<line x1="961.89" y1="605.63" x2="961.89" y2="620.22" stroke="#8a2a4a" stroke-width="0.7" />
<circle cx="992.35" cy="612.92" r="3.1" fill="#fff" stroke="#6b5208" stroke-width="0.7" />
<line x1="985.06" y1="612.92" x2="999.65" y2="612.92" stroke="#8a2a4a" stroke-width="0.7" />
<line x1="992.35" y1="605.63" x2="992.35" y2="620.22" stroke="#8a2a4a" stroke-width="0.7" />
<text x="0" y="0" font-size="6.4" text-anchor="middle" class="d" dy="0.36em" transform="translate(957.7 582.46) scale(1.18 1)">0.437</text>
<line x1="954.96" y1="570.97" x2="973.2" y2="570.97" stroke="#000" stroke-width="0.9" />
<line x1="960.07" y1="570.97" x2="960.07" y2="577.36" stroke="#000" stroke-width="0.9" />
<polygon points="960.07,570.97 961.77,576.97 958.37,576.97" fill="#000"/>
<line x1="960.07" y1="593.77" x2="960.07" y2="601.98" stroke="#000" stroke-width="0.9" />
<polygon points="960.07,601.98 958.37,595.98 961.77,595.98" fill="#000"/>
<text x="0" y="0" font-size="6.4" text-anchor="middle" class="d" dy="0.36em" transform="translate(1016.06 614.56) scale(1.18 1)">0.125</text>
<line x1="1004.21" y1="612.92" x2="1023.36" y2="612.92" stroke="#000" stroke-width="0.9" />
<line x1="1007.85" y1="621.13" x2="1023.36" y2="621.13" stroke="#000" stroke-width="0.9" />
<line x1="1016.97" y1="604.71" x2="1016.97" y2="612.92" stroke="#000" stroke-width="0.9" />
<polygon points="1016.97,612.92 1015.27,606.92 1018.67,606.92" fill="#000"/>
<line x1="1016.97" y1="621.13" x2="1016.97" y2="629.34" stroke="#000" stroke-width="0.9" />
<polygon points="1016.97,621.13 1018.67,627.13 1015.27,627.13" fill="#000"/>
<text x="0" y="0" font-size="6.4" text-anchor="middle" class="d" dy="0.36em" transform="translate(934.35 631.16) scale(1.18 1)">0.375</text>
<line x1="953.69" y1="633.53" x2="979.58" y2="633.53" stroke="#000" stroke-width="0.9" />
<polygon points="953.69,633.53 961.69,631.63 961.69,635.43" fill="#000"/>
<polygon points="979.58,633.53 971.58,635.43 971.58,631.63" fill="#000"/>
<line x1="953.69" y1="621.13" x2="953.69" y2="660.34" stroke="#000" stroke-width="0.9" />
<line x1="979.58" y1="604.71" x2="979.58" y2="637.54" stroke="#000" stroke-width="0.9" />
<text x="0" y="0" font-size="7.2" text-anchor="middle" class="d" dy="0.36em" transform="translate(1025.18 639.0) scale(1 1)" textLength="32.8" lengthAdjust="spacingAndGlyphs">2x Ø0.11</text>
<path d="M1007.85 640.64 L993.26 640.64 Q980.5 633.9 964.99 616.02" fill="none" stroke="#000" stroke-width="0.9" />
<polygon points="964.63,615.66 970.59,619.74 967.88,622.11" fill="#000"/>
<text x="0" y="0" font-size="6.4" text-anchor="middle" class="d" dy="0.36em" transform="translate(976.3 653.59) scale(1.18 1)">0.688</text>
<line x1="953.69" y1="655.42" x2="962.26" y2="655.42" stroke="#000" stroke-width="0.9" />
<line x1="992.35" y1="655.42" x2="1001.83" y2="655.42" stroke="#000" stroke-width="0.9" />
<polygon points="953.69,655.42 959.69,653.72 959.69,657.12" fill="#000"/>
<polygon points="1001.83,655.42 995.83,657.12 995.83,653.72" fill="#000"/>
<line x1="1001.83" y1="627.51" x2="1001.83" y2="660.34" stroke="#000" stroke-width="0.9" />
<rect x="889.31" y="638.46" width="9.48" height="26.81" fill="#cdaa26" stroke="#8a6c0e" stroke-width="0.7" />
<polygon points="889.31,664.9 931.62,664.9 931.62,692.26 900.25,692.26 900.25,686.79 889.31,686.79" fill="url(#yh)" stroke="#8a6c0e" stroke-width="0.7" />
<rect x="902.44" y="692.26" width="27.9" height="16.05" fill="url(#yh)" stroke="#8a6c0e" stroke-width="0.7" />
<polyline points="915.75,664.9 915.75,686.79 900.25,686.79" fill="none" stroke="#8a6c0e" stroke-width="0.5" />
<circle cx="915.75" cy="676.39" r="3.28" fill="#d8b030" stroke="#8a2a4a" stroke-width="0.8" />
<circle cx="915.75" cy="676.39" r="1.64" fill="none" stroke="#8a2a4a" stroke-width="0.6" />
<line x1="908.46" y1="676.39" x2="923.96" y2="676.39" stroke="#8a2a4a" stroke-width="0.7" />
<line x1="915.75" y1="669.46" x2="915.75" y2="684.05" stroke="#8a2a4a" stroke-width="0.7" />
<text x="0" y="0" font-size="6.4" text-anchor="middle" class="d" dy="0.36em" transform="translate(863.41 648.49) scale(1.18 1)">0.125</text>
<line x1="881.1" y1="650.31" x2="889.31" y2="650.31" stroke="#000" stroke-width="0.9" />
<polygon points="889.31,650.31 883.31,652.01 883.31,648.61" fill="#000"/>
<line x1="898.79" y1="650.31" x2="907.54" y2="650.31" stroke="#000" stroke-width="0.9" />
<polygon points="898.79,650.31 904.79,648.61 904.79,652.01" fill="#000"/>
<text x="0" y="0" font-size="6.4" text-anchor="middle" class="d" dy="0.36em" transform="translate(863.41 667.27) scale(1.18 1)">0.375</text>
<line x1="883.47" y1="670.37" x2="915.75" y2="670.37" stroke="#000" stroke-width="0.9" />
<polygon points="889.31,670.37 896.31,668.57 896.31,672.17" fill="#000"/>
<polygon points="915.75,670.37 908.75,672.17 908.75,668.57" fill="#000"/>
<path d="M226.87 508.19 Q226.87 504.39 231.43 502.11 L255.74 487.67 Q262.13 485.4 268.66 487.67 L293.74 502.11 Q297.99 505.15 297.54 508.5 Q297.54 511.99 293.74 514.57 L269.42 528.71 Q262.13 531.75 254.98 528.71 L230.67 514.57 Q226.87 511.99 226.87 508.19 Z" fill="#cdaa26" stroke="#8a6c0e" stroke-width="0.8" />
<circle cx="262.13" cy="508.65" r="15.2" fill="#8f6f12" stroke="#4a3806" stroke-width="0.9" />
<circle cx="262.13" cy="508.65" r="13.37" fill="none" stroke="#3a2c04" stroke-width="0.8" stroke-dasharray="1.5 1"/>
<circle cx="262.13" cy="508.65" r="10.94" fill="#c6a422" stroke="#6b5208" stroke-width="0.8" />
<circle cx="262.13" cy="508.65" r="4.26" fill="#fff" stroke="#6b5208" stroke-width="0.8" />
<circle cx="235.53" cy="508.65" r="3.04" fill="#fff" stroke="#6b5208" stroke-width="0.7" />
<circle cx="288.42" cy="508.65" r="3.04" fill="#fff" stroke="#6b5208" stroke-width="0.7" />
<line x1="229.15" y1="508.65" x2="296.02" y2="508.65" stroke="#7a2a3a" stroke-width="0.8" />
<line x1="262.13" y1="489.19" x2="262.13" y2="528.71" stroke="#7a2a3a" stroke-width="0.8" />
<line x1="235.53" y1="467.16" x2="235.53" y2="506.67" stroke="#000" stroke-width="0.9" />
<line x1="288.42" y1="467.16" x2="288.42" y2="506.67" stroke="#000" stroke-width="0.9" />
<text x="0" y="0" font-size="6.4" text-anchor="middle" class="d" dy="0.36em" transform="translate(261.52 470.5) scale(1.18 1)">0.75</text>
<line x1="235.53" y1="472.17" x2="245.11" y2="472.17" stroke="#000" stroke-width="0.9" />
<polygon points="235.53,472.17 243.53,470.27 243.53,474.07" fill="#000"/>
<line x1="280.06" y1="472.17" x2="288.42" y2="472.17" stroke="#000" stroke-width="0.9" />
<polygon points="288.42,472.17 280.42,474.07 280.42,470.27" fill="#000"/>
<text x="0" y="0" font-size="6.4" text-anchor="middle" class="d" dy="0.36em" transform="translate(182.8 497.1) scale(1 1)" textLength="36.5" lengthAdjust="spacingAndGlyphs">2x Ø0.102</text>
<polyline points="210.15,499.38 223.83,499.38 234.47,507.89" fill="none" stroke="#000" stroke-width="0.9" />
<polygon points="234.47,507.89 227.04,504.38 229.41,501.41" fill="#000"/>
<text x="0" y="0" font-size="6.4" text-anchor="middle" class="d" dy="0.36em" transform="translate(332.95 493.45) scale(1.18 1)">R0.125</text>
<polyline points="311.98,496.34 303.62,496.34 295.56,503.33" fill="none" stroke="#000" stroke-width="0.9" />
<polygon points="295.56,503.33 300.39,496.67 302.86,499.55" fill="#000"/>
<text x="0" y="0" font-size="7.2" text-anchor="middle" class="d" dy="0.36em" transform="translate(322.31 527.19) scale(1.18 1)">Ø0.125</text>
<polyline points="305.14,529.47 292.98,529.47 264.86,511.23" fill="none" stroke="#000" stroke-width="0.9" />
<polygon points="264.86,511.23 272.61,513.99 270.54,517.18" fill="#000"/>
<text x="0" y="0" font-size="6.4" text-anchor="middle" class="d" dy="0.36em" transform="translate(286.9 540.56) scale(1.18 1)">R0.313</text>
<polyline points="265.62,542.39 258.02,542.39 259.54,531.75" fill="none" stroke="#000" stroke-width="0.9" />
<polygon points="259.70,530.99 260.45,539.18 256.69,538.64" fill="#000"/>
<rect x="246.04" y="584.23" width="32.15" height="81.06" fill="url(#yh)" stroke="#8a6c0e" stroke-width="0.6" />
<rect x="248.75" y="665.28" width="26.72" height="5.21" fill="url(#yh)" stroke="#8a6c0e" stroke-width="0.6" />
<path d="M245.13 639.24 Q252.83 649.43 245.13 660.07 Z" fill="#fff" stroke="none" stroke-width="0.6" />
<path d="M246.04 639.24 Q252.83 649.43 246.04 660.07" fill="none" stroke="#8a6c0e" stroke-width="0.6" />
<rect x="227.24" y="619.55" width="70.87" height="8.38" fill="url(#yv)" stroke="#8a6c0e" stroke-width="0.6" />
<line x1="232.0" y1="619.55" x2="232.0" y2="627.92" stroke="#8a6c0e" stroke-width="0.5" />
<line x1="251.7" y1="619.55" x2="251.7" y2="627.92" stroke="#8a6c0e" stroke-width="0.5" />
<line x1="273.21" y1="619.55" x2="273.21" y2="627.92" stroke="#8a6c0e" stroke-width="0.5" />
<line x1="292.45" y1="619.55" x2="292.45" y2="627.92" stroke="#8a6c0e" stroke-width="0.5" />
<line x1="246.04" y1="597.36" x2="278.19" y2="597.36" stroke="#8a6c0e" stroke-width="0.4" />
<line x1="262.57" y1="572.45" x2="262.57" y2="682.26" stroke="#6a1a5a" stroke-width="0.8" />
<rect x="354.26" y="583.32" width="31.02" height="85.36" fill="url(#hatchy)" stroke="#8a6c0e" stroke-width="0.6" />
<rect x="346.79" y="618.41" width="45.28" height="8.83" fill="url(#hatchy)" stroke="#8a6c0e" stroke-width="0.6" />
<rect x="358.79" y="583.32" width="21.96" height="43.92" fill="url(#yh)" stroke="#8a6c0e" stroke-width="0.5" />
<rect x="358.79" y="634.04" width="21.96" height="34.64" fill="url(#yh)" stroke="#8a6c0e" stroke-width="0.5" />
<rect x="366.04" y="627.24" width="7.92" height="6.79" fill="#d6b22c" stroke="#8a6c0e" stroke-width="0.5" />
<circle cx="369.43" cy="648.98" r="10.87" fill="#fff" stroke="#8a6c0e" stroke-width="0.7" />
<text x="0" y="0" font-size="6.4" text-anchor="middle" class="d" dy="0.36em" transform="translate(198.04 582.64) scale(1.18 1)">1.219</text>
<text x="0" y="0" font-size="6.4" text-anchor="middle" class="d" dy="0.36em" transform="translate(198.04 617.28) scale(1.18 1)">0.719</text>
<text x="0" y="0" font-size="6.4" text-anchor="middle" class="d" dy="0.36em" transform="translate(198.04 633.58) scale(1.18 1)">0.594</text>
<text x="0" y="0" font-size="6.4" text-anchor="middle" class="d" dy="0.36em" transform="translate(198.04 647.17) scale(1.18 1)">0.281</text>
<text x="0" y="0" font-size="6.4" text-anchor="middle" class="d" dy="0.36em" transform="translate(198.04 663.47) scale(1.18 1)">0.063</text>
<text x="0" y="0" font-size="6.4" text-anchor="middle" class="d" dy="0.36em" transform="translate(204.15 680.45) scale(1.18 1)">0</text>
<line x1="218.87" y1="584.23" x2="218.87" y2="683.4" stroke="#000" stroke-width="0.9" />
<line x1="216.6" y1="584.23" x2="241.51" y2="584.23" stroke="#000" stroke-width="0.9" />
<line x1="216.6" y1="619.55" x2="227.92" y2="619.55" stroke="#000" stroke-width="0.9" />
<polyline points="216.6,636.3 224.53,636.3 230.64,627.92" fill="none" stroke="#000" stroke-width="0.9" />
<line x1="216.6" y1="650.11" x2="266.41" y2="650.11" stroke="#000" stroke-width="0.9" />
<line x1="216.6" y1="665.28" x2="240.38" y2="665.28" stroke="#000" stroke-width="0.9" />
<polyline points="218.87,683.4 224.53,683.4 232.45,670.49 242.64,670.49" fill="none" stroke="#000" stroke-width="0.9" />
<circle cx="218.87" cy="683.4" r="1.13" fill="#000" stroke="none" stroke-width="0.6" />
<polygon points="218.87,584.23 220.47,590.23 217.27,590.23" fill="#000"/>
<polygon points="218.87,619.55 220.47,625.55 217.27,625.55" fill="#000"/>
<polygon points="218.87,636.30 220.47,642.30 217.27,642.30" fill="#000"/>
<polygon points="218.87,650.11 220.47,656.11 217.27,656.11" fill="#000"/>
<polygon points="218.87,665.28 220.47,671.28 217.27,671.28" fill="#000"/>
<text x="0" y="0" font-size="6.4" text-anchor="middle" class="d" dy="0.36em" transform="translate(295.4 605.28) scale(1.18 1)">0.472</text>
<line x1="245.58" y1="608.0" x2="278.64" y2="608.0" stroke="#000" stroke-width="0.9" />
<polygon points="245.58,608.00 253.58,606.10 253.58,609.90" fill="#000"/>
<polygon points="278.64,608.00 270.64,609.90 270.64,606.10" fill="#000"/>
<text x="0" y="0" font-size="6.4" text-anchor="middle" class="d" dy="0.36em" transform="translate(300.83 637.43) scale(1.18 1)">Ø0.438</text>
<line x1="247.85" y1="640.15" x2="278.19" y2="640.15" stroke="#000" stroke-width="0.9" />
<polygon points="247.85,640.15 255.85,638.25 255.85,642.05" fill="#000"/>
<polygon points="278.19,640.15 270.19,642.05 270.19,638.25" fill="#000"/>
<line x1="278.19" y1="640.15" x2="280.45" y2="640.15" stroke="#000" stroke-width="0.9" />
<text x="0" y="0" font-size="6.4" text-anchor="middle" class="d" dy="0.36em" transform="translate(301.51 676.6) scale(1.18 1)">0.375</text>
<line x1="248.75" y1="678.19" x2="275.47" y2="678.19" stroke="#000" stroke-width="0.9" />
<polygon points="248.75,678.19 256.75,676.29 256.75,680.09" fill="#000"/>
<polygon points="275.47,678.19 267.47,680.09 267.47,676.29" fill="#000"/>
<line x1="275.47" y1="678.19" x2="282.26" y2="678.19" stroke="#000" stroke-width="0.9" />
<line x1="248.75" y1="674.34" x2="248.75" y2="683.4" stroke="#000" stroke-width="0.9" />
<line x1="275.47" y1="674.34" x2="275.47" y2="683.4" stroke="#000" stroke-width="0.9" />
<line x1="380.75" y1="557.74" x2="380.75" y2="579.25" stroke="#000" stroke-width="0.9" />
<line x1="384.83" y1="557.74" x2="384.83" y2="579.25" stroke="#000" stroke-width="0.9" />
<line x1="370.56" y1="562.72" x2="380.75" y2="562.72" stroke="#000" stroke-width="0.9" />
<polygon points="380.75,562.72 372.75,564.62 372.75,560.82" fill="#000"/>
<line x1="384.83" y1="562.72" x2="394.34" y2="562.72" stroke="#000" stroke-width="0.9" />
<polygon points="384.83,562.72 392.83,560.82 392.83,564.62" fill="#000"/>
<text x="0" y="0" font-size="6.4" text-anchor="middle" class="d" dy="0.36em" transform="translate(401.13 558.19) scale(1.18 1)">2 °</text>
<text x="0" y="0" font-size="6.4" text-anchor="middle" class="d" dy="0.36em" transform="translate(420.38 576.3) scale(1.18 1)">0.625</text>
<polyline points="403.39,579.92 394.34,579.92 394.34,627.24" fill="none" stroke="#000" stroke-width="0.9" />
<polygon points="394.34,583.32 396.24,591.32 392.44,591.32" fill="#000"/>
<polygon points="394.34,627.24 392.44,619.24 396.24,619.24" fill="#000"/>
<line x1="386.41" y1="583.32" x2="396.6" y2="583.32" stroke="#000" stroke-width="0.9" />
<text x="0" y="0" font-size="6.4" text-anchor="middle" class="d" dy="0.36em" transform="translate(418.11 595.55) scale(1.18 1)">Ø0.313</text>
<line x1="358.79" y1="598.04" x2="396.6" y2="598.04" stroke="#000" stroke-width="0.9" />
<polygon points="358.79,598.04 366.79,596.14 366.79,599.94" fill="#000"/>
<polygon points="380.75,598.04 372.75,599.94 372.75,596.14" fill="#000"/>
<text x="0" y="0" font-size="6.4" text-anchor="middle" class="d" dy="0.36em" transform="translate(323.47 599.62) scale(1.18 1)">0.125</text>
<polyline points="343.39,601.43 350.19,601.43 350.19,618.41" fill="none" stroke="#000" stroke-width="0.9" />
<polygon points="350.19,618.41 348.29,610.41 352.09,610.41" fill="#000"/>
<line x1="350.19" y1="627.24" x2="350.19" y2="636.98" stroke="#000" stroke-width="0.9" />
<polygon points="350.19,627.24 352.09,635.24 348.29,635.24" fill="#000"/>
<line x1="345.21" y1="618.41" x2="354.26" y2="618.41" stroke="#000" stroke-width="0.9" />
<line x1="345.21" y1="627.24" x2="354.26" y2="627.24" stroke="#000" stroke-width="0.9" />
<line x1="386.41" y1="627.24" x2="405.66" y2="627.24" stroke="#000" stroke-width="0.9" />
<line x1="383.02" y1="634.04" x2="405.66" y2="634.04" stroke="#000" stroke-width="0.9" />
<text x="0" y="0" font-size="6.4" text-anchor="middle" class="d" dy="0.36em" transform="translate(426.04 650.57) scale(1.18 1)">0.094</text>
<polyline points="409.05,653.28 400.45,653.28 400.45,634.04" fill="none" stroke="#000" stroke-width="0.9" />
<polygon points="400.45,634.04 402.35,642.04 398.55,642.04" fill="#000"/>
<line x1="400.45" y1="618.41" x2="400.45" y2="627.24" stroke="#000" stroke-width="0.9" />
<polygon points="400.45,627.24 398.55,619.24 402.35,619.24" fill="#000"/>
<text x="0" y="0" font-size="6.4" text-anchor="middle" class="d" dy="0.36em" transform="translate(416.98 670.26) scale(1.18 1)">0.5</text>
<polyline points="394.34,634.04 394.34,672.75 402.26,672.75" fill="none" stroke="#000" stroke-width="0.9" />
<polygon points="394.34,634.04 396.24,642.04 392.44,642.04" fill="#000"/>
<polygon points="394.34,668.68 392.44,660.68 396.24,660.68" fill="#000"/>
<line x1="386.41" y1="668.68" x2="400.0" y2="668.68" stroke="#000" stroke-width="0.9" />
<text x="0" y="0" font-size="6.4" text-anchor="middle" class="d" dy="0.36em" transform="translate(406.79 685.21) scale(1.18 1)">Ø0.313</text>
<polyline points="386.41,686.79 378.49,686.79 367.85,640.38" fill="none" stroke="#000" stroke-width="0.9" />
<polygon points="367.85,640.38 371.49,647.75 367.79,648.60" fill="#000"/>
<polygon points="371.70,657.81 368.06,650.44 371.76,649.59" fill="#000"/>
<text x="0" y="0" font-size="6.4" text-anchor="middle" class="d" dy="0.36em" transform="translate(338.87 672.53) scale(1.18 1)">45 °</text>
<line x1="333.21" y1="668.68" x2="351.32" y2="668.68" stroke="#000" stroke-width="0.9" />
<line x1="341.13" y1="668.68" x2="341.13" y2="663.02" stroke="#000" stroke-width="0.9" />
<polygon points="341.13,661.21 342.63,666.21 339.63,666.21" fill="#000"/>
<line x1="341.13" y1="684.98" x2="354.26" y2="672.53" stroke="#000" stroke-width="0.9" />
<polygon points="352.90,686.79 347.84,685.50 349.38,682.93" fill="#000"/>
<line x1="346.79" y1="683.4" x2="352.45" y2="686.34" stroke="#000" stroke-width="0.9" />
<text x="355.54" y="502.36" font-size="12.3" text-anchor="start" font-weight="bold" fill="#000" textLength="84.0" lengthAdjust="spacingAndGlyphs" >INLET VALVE</text>
<text x="368.39" y="518.23" font-size="12.3" text-anchor="start" font-weight="bold" fill="#000" textLength="63.7" lengthAdjust="spacingAndGlyphs" >HOUSING</text>
<text x="345.69" y="530.81" font-size="8.5" text-anchor="start" font-weight="normal" fill="#000" textLength="109.4" lengthAdjust="spacingAndGlyphs" >phosphor bronze or GM</text>
<text x="492.52" y="498.77" font-size="13.5" text-anchor="start" font-weight="bold" fill="#000" textLength="148.0" lengthAdjust="spacingAndGlyphs" >INLET VALVE ROCKER</text>
<text x="524.79" y="510.26" font-size="8.5" text-anchor="start" font-weight="normal" fill="#000" textLength="89.4" lengthAdjust="spacingAndGlyphs" >bronze or gunmetal</text>
<polygon points="494.32,552.78 497.78,548.77 504.71,544.21 552.13,543.85 563.08,544.76 615.06,553.88 618.7,552.78 633.84,553.88 633.84,571.02 615.06,571.57 611.96,567.01 575.84,569.75 564.9,572.12 552.13,567.01 513.83,555.7 509.27,557.53 498.33,555.7" fill="#cdaa26" stroke="#8a6c0e" stroke-width="0.7" />
<rect x="618.7" y="553.15" width="15.14" height="17.87" fill="url(#yh)" stroke="none" stroke-width="0.6" />
<line x1="615.06" y1="553.88" x2="615.06" y2="571.57" stroke="#8a6c0e" stroke-width="0.5" />
<line x1="618.7" y1="552.78" x2="618.7" y2="571.02" stroke="#8a6c0e" stroke-width="0.5" />
<circle cx="564.9" cy="558.26" r="13.68" fill="#cdaa26" stroke="#6b5208" stroke-width="0.8" />
<circle cx="564.9" cy="558.26" r="11.31" fill="#a8871a" stroke="#4a3806" stroke-width="0.7" />
<circle cx="564.9" cy="558.26" r="9.12" fill="none" stroke="#3a2c04" stroke-width="0.7" stroke-dasharray="1.5 1"/>
<circle cx="564.9" cy="558.26" r="6.57" fill="#fff" stroke="#6b5208" stroke-width="0.7" />
<line x1="503.8" y1="515.94" x2="503.8" y2="562.45" stroke="#7a2a8a" stroke-width="0.7" />
<line x1="564.9" y1="515.94" x2="564.9" y2="572.85" stroke="#7a2a8a" stroke-width="0.7" />
<line x1="625.63" y1="528.71" x2="625.63" y2="579.78" stroke="#7a2a8a" stroke-width="0.7" />
<line x1="541.19" y1="558.26" x2="579.49" y2="558.26" stroke="#7a2a8a" stroke-width="0.7" />
<line x1="483.74" y1="544.21" x2="500.16" y2="544.21" stroke="#7a2a8a" stroke-width="0.6" />
<path d="M512.92 544.21 Q514.75 550.6 510.19 556.98" fill="none" stroke="#6b5208" stroke-width="0.6" />
<rect x="494.32" y="629.93" width="18.6" height="12.77" fill="url(#yv)" stroke="#8a6c0e" stroke-width="0.6" />
<line x1="503.8" y1="629.93" x2="503.8" y2="642.7" stroke="#8a6c0e" stroke-width="0.5" />
<rect x="553.41" y="622.64" width="22.07" height="21.89" fill="url(#yv)" stroke="#8a6c0e" stroke-width="0.6" />
<polygon points="512.92,630.84 594.08,630.84 597.73,632.3 618.7,632.3 618.7,639.6 597.73,639.6 594.08,640.87 512.92,640.87" fill="url(#yv)" stroke="#8a6c0e" stroke-width="0.6" />
<line x1="564.9" y1="630.84" x2="564.9" y2="640.87" stroke="#8a6c0e" stroke-width="0.5" />
<circle cx="625.63" cy="635.95" r="8.75" fill="#cdaa26" stroke="#8a6c0e" stroke-width="0.7" />
<line x1="625.63" y1="627.2" x2="625.63" y2="645.43" stroke="#7a2a8a" stroke-width="0.6" stroke-dasharray="4 2"/>
<line x1="598.09" y1="635.4" x2="650.62" y2="635.4" stroke="#000" stroke-width="2.4" />
<polygon points="611.04,589.26 614.14,586.52 633.84,587.98 633.84,605.31 611.04,605.31" fill="url(#hatchy)" stroke="#8a6c0e" stroke-width="0.6" />
<polygon points="620.53,605.31 620.53,596.19 623.26,592.54 627.82,592.54 630.56,596.19 630.56,605.31" fill="#d6b22c" stroke="#8a6c0e" stroke-width="0.5" />
<text x="563.08" y="599.29" font-size="7" text-anchor="start" font-weight="bold" fill="#000" textLength="39.2" lengthAdjust="spacingAndGlyphs" >Section P-P</text>
<text x="0" y="0" font-size="6.4" text-anchor="middle" class="d" dy="0.36em" transform="translate(539.37 517.4) scale(1.18 1)">0.875</text>
<line x1="503.8" y1="519.59" x2="521.13" y2="519.59" stroke="#000" stroke-width="0.9" />
<polygon points="503.80,519.59 511.80,517.69 511.80,521.49" fill="#000"/>
<line x1="556.69" y1="519.59" x2="564.9" y2="519.59" stroke="#000" stroke-width="0.9" />
<polygon points="564.90,519.59 556.90,521.49 556.90,517.69" fill="#000"/>
<text x="0" y="0" font-size="6.4" text-anchor="middle" class="d" dy="0.36em" transform="translate(519.67 526.52) scale(1.18 1)">0.188</text>
<polyline points="537.54,529.07 546.3,529.07 546.3,543.85" fill="none" stroke="#000" stroke-width="0.9" />
<polygon points="546.30,543.85 544.40,535.85 548.20,535.85" fill="#000"/>
<line x1="546.3" y1="559.71" x2="546.3" y2="567.01" stroke="#000" stroke-width="0.9" />
<polygon points="546.30,559.71 548.20,567.71 544.40,567.71" fill="#000"/>
<text x="0" y="0" font-size="6.4" text-anchor="middle" class="d" dy="0.36em" transform="translate(594.08 518.31) scale(1.18 1)">Ø0.375</text>
<polyline points="577.67,521.05 565.81,521.05 565.27,549.68" fill="none" stroke="#000" stroke-width="0.9" />
<polygon points="565.27,549.68 563.37,541.68 567.17,541.68" fill="#000"/>
<line x1="574.93" y1="543.66" x2="568.18" y2="552.05" stroke="#000" stroke-width="0.9" />
<polygon points="568.18,552.05 571.71,544.63 574.67,547.01" fill="#000"/>
<text x="0" y="0" font-size="6.4" text-anchor="middle" class="d" dy="0.36em" transform="translate(590.8 531.45) scale(1.18 1)">0.857</text>
<line x1="564.9" y1="534.18" x2="574.93" y2="534.18" stroke="#000" stroke-width="0.9" />
<polygon points="564.90,534.18 572.90,532.28 572.90,536.08" fill="#000"/>
<line x1="611.41" y1="534.18" x2="625.63" y2="534.18" stroke="#000" stroke-width="0.9" />
<polygon points="625.63,534.18 617.63,536.08 617.63,532.28" fill="#000"/>
<text x="0" y="0" font-size="6.4" text-anchor="middle" class="d" dy="0.36em" transform="translate(646.97 539.29) scale(1.18 1)">0.187</text>
<polyline points="666.12,541.48 674.69,541.48 674.69,558.26" fill="none" stroke="#000" stroke-width="0.9" />
<polygon points="674.69,558.26 672.79,550.26 676.59,550.26" fill="#000"/>
<line x1="585.87" y1="558.26" x2="679.8" y2="558.26" stroke="#000" stroke-width="0.9" />
<line x1="638.77" y1="571.57" x2="679.8" y2="571.57" stroke="#000" stroke-width="0.9" />
<line x1="674.69" y1="571.57" x2="674.69" y2="579.78" stroke="#000" stroke-width="0.9" />
<polygon points="674.69,571.57 676.59,579.57 672.79,579.57" fill="#000"/>
<text x="0" y="0" font-size="6.4" text-anchor="middle" class="d" dy="0.36em" transform="translate(464.04 544.21) scale(1.18 1)">0.257</text>
<line x1="484.65" y1="547.31" x2="494.32" y2="547.31" stroke="#000" stroke-width="0.9" />
<polygon points="494.32,547.31 486.32,549.21 486.32,545.41" fill="#000"/>
<line x1="512.92" y1="547.31" x2="521.13" y2="547.31" stroke="#000" stroke-width="0.9" />
<polygon points="512.92,547.31 520.92,545.41 520.92,549.21" fill="#000"/>
<line x1="494.32" y1="543.3" x2="494.32" y2="548.77" stroke="#000" stroke-width="0.9" />
<text x="0" y="0" font-size="6.4" text-anchor="middle" class="d" dy="0.36em" transform="translate(487.94 567.56) scale(1.18 1)">R0.188</text>
<polyline points="509.27,568.83 517.48,568.83 511.1,556.98" fill="none" stroke="#000" stroke-width="0.9" />
<polygon points="511.10,556.98 516.57,563.12 513.22,564.92" fill="#000"/>
<text x="0" y="0" font-size="6.9" text-anchor="middle" class="d" dy="0.36em" transform="translate(520.22 578.32) scale(1.18 1)">Ø0.188</text>
<polyline points="542.1,580.14 550.31,580.14 560.34,563.73" fill="none" stroke="#000" stroke-width="0.9" />
<polygon points="560.34,563.73 557.79,571.55 554.55,569.57" fill="#000"/>
<text x="0" y="0" font-size="6.9" text-anchor="middle" class="d" dy="0.36em" transform="translate(561.25 585.25) scale(1.18 1)">Ø0.313</text>
<polyline points="582.77,587.98 591.35,587.98 557.24,548.77" fill="none" stroke="#000" stroke-width="0.9" />
<polygon points="557.24,548.77 563.92,553.56 561.06,556.05" fill="#000"/>
<polygon points="572.56,566.46 565.88,561.67 568.74,559.18" fill="#000"/>
<text x="0" y="0" font-size="6.4" text-anchor="middle" class="d" dy="0.36em" transform="translate(599.55 605.31) scale(1.18 1)">0.156</text>
<line x1="611.04" y1="607.5" x2="620.53" y2="607.5" stroke="#000" stroke-width="0.9" />
<polygon points="620.53,607.50 612.53,609.40 612.53,605.60" fill="#000"/>
<line x1="630.56" y1="607.5" x2="639.68" y2="607.5" stroke="#000" stroke-width="0.9" />
<polygon points="630.56,607.50 638.56,605.60 638.56,609.40" fill="#000"/>
<line x1="639.68" y1="589.44" x2="666.12" y2="589.44" stroke="#000" stroke-width="0.9" />
<line x1="639.68" y1="605.31" x2="666.12" y2="605.31" stroke="#000" stroke-width="0.9" />
<line x1="661.02" y1="579.78" x2="661.02" y2="589.44" stroke="#000" stroke-width="0.9" />
<polygon points="661.02,589.44 659.12,581.44 662.92,581.44" fill="#000"/>
<line x1="661.02" y1="605.31" x2="661.02" y2="634.49" stroke="#000" stroke-width="0.9" />
<polygon points="661.02,605.31 662.92,613.31 659.12,613.31" fill="#000"/>
<text x="0" y="0" font-size="6.4" text-anchor="middle" class="d" dy="0.36em" transform="translate(653.36 618.08) rotate(-90) scale(1.18 1)">0.235</text>
<text x="0" y="0" font-size="6.4" text-anchor="middle" class="d" dy="0.36em" transform="translate(480.46 651.45) scale(1.18 1)">0.188</text>
<polyline points="500.16,654.19 508.0,654.19 508.0,642.7" fill="none" stroke="#000" stroke-width="0.9" />
<polygon points="508.00,642.70 509.90,650.70 506.10,650.70" fill="#000"/>
<line x1="508.0" y1="620.81" x2="508.0" y2="629.93" stroke="#000" stroke-width="0.9" />
<polygon points="508.00,629.93 506.10,621.93 509.90,621.93" fill="#000"/>
<text x="0" y="0" font-size="6.4" text-anchor="middle" class="d" dy="0.36em" transform="translate(522.04 653.64) scale(1.18 1)">0.125</text>
<line x1="549.4" y1="623.55" x2="549.4" y2="630.84" stroke="#000" stroke-width="0.9" />
<polygon points="549.40,630.84 547.50,622.84 551.30,622.84" fill="#000"/>
<line x1="549.4" y1="640.87" x2="549.4" y2="658.2" stroke="#000" stroke-width="0.9" />
<polygon points="549.40,640.87 551.30,648.87 547.50,648.87" fill="#000"/>
<text x="0" y="0" font-size="6.4" text-anchor="middle" class="d" dy="0.36em" transform="translate(547.57 659.66) scale(1.18 1)">0.125</text>
<line x1="574.93" y1="614.43" x2="574.93" y2="622.64" stroke="#000" stroke-width="0.9" />
<polygon points="574.93,622.64 573.03,614.64 576.83,614.64" fill="#000"/>
<polyline points="574.93,644.52 574.93,661.85 566.72,661.85" fill="none" stroke="#000" stroke-width="0.9" />
<polygon points="574.93,640.87 576.83,648.87 573.03,648.87" fill="#000"/>
<text x="0" y="0" font-size="6.4" text-anchor="middle" class="d" dy="0.36em" transform="translate(565.81 666.41) scale(1.18 1)">0.063</text>
<line x1="581.31" y1="643.98" x2="597.73" y2="643.98" stroke="#000" stroke-width="0.9" />
<polyline points="592.81,643.98 592.81,668.23 582.23,668.23" fill="none" stroke="#000" stroke-width="0.9" />
<polygon points="592.81,643.98 594.71,651.98 590.91,651.98" fill="#000"/>
<polygon points="592.81,640.87 590.91,632.87 594.71,632.87" fill="#000"/>
<line x1="592.81" y1="630.84" x2="592.81" y2="640.87" stroke="#000" stroke-width="1.2" />
<text x="0" y="0" font-size="7" text-anchor="middle" class="d" dy="0.36em" transform="translate(610.5 666.96) scale(1.18 1)">P</text>
<text x="0" y="0" font-size="7" text-anchor="middle" class="d" dy="0.36em" transform="translate(635.66 666.41) scale(1.18 1)">P</text>
<line x1="611.04" y1="640.87" x2="611.04" y2="663.67" stroke="#000" stroke-width="1.0" />
<polygon points="611.04,639.05 613.44,649.05 608.64,649.05" fill="#000"/>
<line x1="636.39" y1="640.87" x2="636.39" y2="663.67" stroke="#000" stroke-width="1.0" />
<polygon points="636.39,639.05 638.79,649.05 633.99,649.05" fill="#000"/>
<text x="0" y="0" font-size="6.4" text-anchor="middle" class="d" dy="0.36em" transform="translate(599.55 675.53) scale(1.18 1)">R0.125</text>
<polyline points="619.62,677.35 628.73,677.35 626.0,645.43" fill="none" stroke="#000" stroke-width="0.9" />
<polygon points="626.00,645.07 628.69,652.84 624.91,653.22" fill="#000"/>
<circle cx="771.84" cy="790.15" r="17.96" fill="#c5ccdc" stroke="#3d4252" stroke-width="0.8" />
<circle cx="771.84" cy="790.15" r="14.37" fill="#b4bdd0" stroke="#3d4252" stroke-width="0.6" />
<circle cx="771.84" cy="790.15" r="11.62" fill="#cdd3e1" stroke="#3d4252" stroke-width="0.6" />
<circle cx="771.84" cy="790.15" r="6.76" fill="#fff" stroke="#3d4252" stroke-width="0.8" />
<text x="0" y="0" font-size="6.9" text-anchor="middle" class="d" dy="0.36em" transform="translate(787.9 763.1) scale(1.18 1)">Ø0.375</text>
<polyline points="767.19,765.22 759.37,765.22 775.64,800.72" fill="none" stroke="#000" stroke-width="0.9" />
<polygon points="775.64,800.72 771.09,795.11 774.36,793.61" fill="#000"/>
<polygon points="767.82,783.81 772.37,789.42 769.10,790.92" fill="#000"/>
<text x="0" y="0" font-size="6.9" text-anchor="middle" class="d" dy="0.36em" transform="translate(748.8 818.05) scale(1.18 1)">Ø0.188</text>
<polyline points="762.33,820.79 775.64,820.79 773.74,796.91" fill="none" stroke="#000" stroke-width="0.9" />
<polygon points="773.74,796.07 776.23,802.86 772.65,803.21" fill="#000"/>
<rect x="824.25" y="773.67" width="13.74" height="34.45" fill="url(#gv)" stroke="#3d4252" stroke-width="0.7" />
<line x1="836.29" y1="773.67" x2="836.29" y2="808.11" stroke="#3d4252" stroke-width="0.4" />
<text x="0" y="0" font-size="7.2" text-anchor="middle" class="d" dy="0.36em" transform="translate(809.45 788.04) scale(1.18 1)">Ø0.5</text>
<line x1="805.23" y1="773.67" x2="818.96" y2="773.67" stroke="#000" stroke-width="1.2" />
<line x1="806.28" y1="808.11" x2="818.96" y2="808.11" stroke="#000" stroke-width="1.2" />
<line x1="810.93" y1="773.67" x2="810.93" y2="780.01" stroke="#000" stroke-width="1.2" />
<polygon points="810.93,773.67 812.63,778.67 809.23,778.67" fill="#000"/>
<line x1="810.93" y1="799.66" x2="810.93" y2="808.11" stroke="#000" stroke-width="1.2" />
<polygon points="810.93,808.11 809.23,803.11 812.63,803.11" fill="#000"/>
<text x="0" y="0" font-size="6.4" text-anchor="middle" class="d" dy="0.36em" transform="translate(862.29 773.25) scale(1.18 1)">0.188</text>
<line x1="815.79" y1="775.36" x2="824.25" y2="775.36" stroke="#000" stroke-width="0.9" />
<polygon points="824.25,775.36 818.25,777.06 818.25,773.66" fill="#000"/>
<line x1="837.98" y1="775.36" x2="846.01" y2="775.36" stroke="#000" stroke-width="0.9" />
<polygon points="837.98,775.36 843.98,773.66 843.98,777.06" fill="#000"/>
<text x="0" y="0" font-size="6.4" text-anchor="middle" class="d" dy="0.36em" transform="translate(862.92 801.35) scale(1.18 1)">0.031</text>
<line x1="829.11" y1="804.52" x2="837.56" y2="804.52" stroke="#000" stroke-width="1.4" />
<line x1="839.04" y1="804.52" x2="847.49" y2="804.52" stroke="#000" stroke-width="0.9" />
<polygon points="839.04,804.52 845.04,802.82 845.04,806.22" fill="#000"/>
<line x1="839.04" y1="806.0" x2="839.04" y2="809.59" stroke="#000" stroke-width="0.9" />
<rect x="902.44" y="783.81" width="22.19" height="9.51" fill="url(#gvl)" stroke="#3d4252" stroke-width="0.6" />
<rect x="924.63" y="781.28" width="17.96" height="13.52" fill="url(#gvl)" stroke="#3d4252" stroke-width="0.6" />
<rect x="942.59" y="777.47" width="4.23" height="23.25" fill="#b4bdd0" stroke="#3d4252" stroke-width="0.6" />
<line x1="902.44" y1="806.0" x2="952.1" y2="806.0" stroke="#000" stroke-width="1.3" />
<line x1="902.44" y1="793.32" x2="902.44" y2="808.11" stroke="#000" stroke-width="0.9" />
<line x1="924.63" y1="793.32" x2="924.63" y2="808.11" stroke="#000" stroke-width="0.9" />
<line x1="938.36" y1="793.32" x2="938.36" y2="808.11" stroke="#000" stroke-width="0.9" />
<line x1="946.82" y1="793.32" x2="946.82" y2="808.11" stroke="#000" stroke-width="0.9" />
<polygon points="902.44,806.00 908.44,804.30 908.44,807.70" fill="#000"/>
<polygon points="924.63,806.00 930.63,804.30 930.63,807.70" fill="#000"/>
<polygon points="938.36,806.00 943.36,804.30 943.36,807.70" fill="#000"/>
<circle cx="951.04" cy="806.0" r="1.06" fill="#000" stroke="none" stroke-width="0.6" />
<circle cx="946.82" cy="806.0" r="0.85" fill="#000" stroke="none" stroke-width="0.6" />
<path d="M938.36 806.0 Q939.42 796.49 944.7 791.21" fill="none" stroke="#000" stroke-width="0.8" />
<path d="M951.04 806.0 Q951.04 796.49 945.76 788.04" fill="none" stroke="#000" stroke-width="0.8" />
<text x="0" y="0" font-size="6.4" text-anchor="middle" class="d" dy="0.36em" transform="translate(901.38 826.08) rotate(-90) scale(1.18 1)">0.625</text>
<text x="0" y="0" font-size="6.4" text-anchor="middle" class="d" dy="0.36em" transform="translate(923.57 826.08) rotate(-90) scale(1.18 1)">0.313</text>
<text x="0" y="0" font-size="6.4" text-anchor="middle" class="d" dy="0.36em" transform="translate(937.31 826.08) rotate(-90) scale(1.18 1)">0.063</text>
<text x="0" y="0" font-size="6.4" text-anchor="middle" class="d" dy="0.36em" transform="translate(949.35 819.1) rotate(-90) scale(1.18 1)">0</text>
<circle cx="983.38" cy="788.46" r="10.99" fill="#c5ccdc" stroke="#3d4252" stroke-width="0.7" />
<circle cx="983.38" cy="788.46" r="5.49" fill="#8a8fa5" stroke="#3d4252" stroke-width="0.5" />
<text x="0" y="0" font-size="6.9" text-anchor="middle" class="d" dy="0.36em" transform="translate(995.85 765.85) scale(1.18 1)">Ø0.313</text>
<polyline points="975.35,768.6 967.95,768.6 991.83,796.49" fill="none" stroke="#000" stroke-width="0.9" />
<polygon points="991.20,795.86 985.20,791.78 988.09,789.31" fill="#000"/>
<polygon points="975.77,777.90 981.77,781.98 978.88,784.45" fill="#000"/>
<text x="0" y="0" font-size="6.9" text-anchor="middle" class="d" dy="0.36em" transform="translate(995.42 818.05) scale(1.18 1)">Ø0.188</text>
<polyline points="975.35,819.74 967.95,819.74 978.52,798.18" fill="none" stroke="#000" stroke-width="0.9" />
<polygon points="978.94,797.34 977.51,804.45 974.11,802.75" fill="#000"/>
<line x1="990.56" y1="774.94" x2="987.6" y2="781.7" stroke="#000" stroke-width="0.9" />
<polygon points="987.60,781.70 988.36,775.48 991.65,776.92" fill="#000"/>
<path d="M1043.25 726.42 L1047.48 719.02 Q1051.28 717.33 1052.76 721.13 L1052.76 818.34 Q1048.11 820.88 1043.25 818.34 Z" fill="url(#rod)" stroke="#2a2d38" stroke-width="0.8" />
<line x1="1043.89" y1="726.42" x2="1051.28" y2="719.44" stroke="#2a2d38" stroke-width="0.6" />
<text x="0" y="0" font-size="6.4" text-anchor="middle" class="d" dy="0.36em" transform="translate(1012.82 726.42) scale(1.18 1)">R0.063</text>
<polyline points="1033.32,729.16 1041.78,729.16 1045.37,723.25" fill="none" stroke="#000" stroke-width="0.9" />
<polygon points="1045.79,722.40 1043.96,728.39 1040.96,726.39" fill="#000"/>
<text x="0" y="0" font-size="7.2" text-anchor="middle" class="d" dy="0.36em" transform="translate(1015.99 776.08) scale(1.18 1)">Ø0.125</text>
<line x1="1035.44" y1="779.67" x2="1043.25" y2="779.67" stroke="#000" stroke-width="0.9" />
<polygon points="1043.25,779.67 1037.25,781.37 1037.25,777.97" fill="#000"/>
<line x1="1052.76" y1="779.67" x2="1061.43" y2="779.67" stroke="#000" stroke-width="0.9" />
<polygon points="1052.76,779.67 1058.76,777.97 1058.76,781.37" fill="#000"/>
<text x="0" y="0" font-size="6.4" text-anchor="middle" class="d" dy="0.36em" transform="translate(1071.36 766.57) scale(1.18 1)">1.437</text>
<line x1="1053.4" y1="718.39" x2="1077.7" y2="718.39" stroke="#000" stroke-width="0.9" />
<line x1="1056.57" y1="819.4" x2="1077.7" y2="819.4" stroke="#000" stroke-width="0.9" />
<line x1="1073.05" y1="718.39" x2="1073.05" y2="761.28" stroke="#000" stroke-width="0.9" />
<line x1="1073.05" y1="772.91" x2="1073.05" y2="819.4" stroke="#000" stroke-width="0.9" />
<polygon points="1073.05,718.39 1074.85,725.39 1071.25,725.39" fill="#000"/>
<polygon points="1073.05,819.40 1071.25,812.40 1074.85,812.40" fill="#000"/>
<path d="M1140.46 734.45 L1160.75 734.45 L1163.71 742.27 L1168.57 788.76 L1168.57 804.61 Q1165.4 809.47 1160.12 809.47 L1160.12 787.07 A8.88 8.88 0 0 0 1142.16 787.07 L1142.16 809.47 Q1136.87 809.47 1133.7 804.61 L1133.7 788.76 L1137.93 742.27 Z" fill="#cdaa26" stroke="#8a6c0e" stroke-width="0.8" />
<circle cx="1151.03" cy="756.42" r="3.17" fill="#fff" stroke="#6b5208" stroke-width="0.8" />
<line x1="1150.61" y1="714.79" x2="1150.61" y2="824.68" stroke="#000" stroke-width="0.9" />
<line x1="1150.61" y1="714.79" x2="1150.61" y2="742.27" stroke="#000" stroke-width="2.6" />
<line x1="1150.61" y1="798.27" x2="1150.61" y2="824.68" stroke="#000" stroke-width="2.6" />
<line x1="1145.33" y1="756.42" x2="1159.06" y2="756.42" stroke="#6b5208" stroke-width="0.7" />
<text x="0" y="0" font-size="9" text-anchor="middle" class="d" dy="0.36em" transform="translate(1110.46 727.47) scale(1.18 1)">R</text>
<line x1="1114.68" y1="727.9" x2="1146.8" y2="727.9" stroke="#000" stroke-width="1.0" />
<polygon points="1142.58,727.90 1132.58,730.70 1132.58,725.10" fill="#000"/>
<text x="0" y="0" font-size="9" text-anchor="middle" class="d" dy="0.36em" transform="translate(1112.15 808.83) scale(1.18 1)">R</text>
<line x1="1114.68" y1="810.95" x2="1146.8" y2="810.95" stroke="#000" stroke-width="1.0" />
<polygon points="1142.58,810.95 1132.58,813.75 1132.58,808.15" fill="#000"/>
<text x="0" y="0" font-size="6.4" text-anchor="middle" class="d" dy="0.36em" transform="translate(1175.33 708.45) scale(1.18 1)">0.313</text>
<line x1="1139.62" y1="706.34" x2="1139.62" y2="728.53" stroke="#000" stroke-width="0.9" />
<line x1="1161.17" y1="706.34" x2="1161.17" y2="728.53" stroke="#000" stroke-width="0.9" />
<line x1="1139.62" y1="710.57" x2="1161.17" y2="710.57" stroke="#000" stroke-width="0.9" />
<polygon points="1139.62,710.57 1147.62,708.67 1147.62,712.47" fill="#000"/>
<polygon points="1161.17,710.57 1153.17,712.47 1153.17,708.67" fill="#000"/>
<text x="0" y="0" font-size="6.4" text-anchor="middle" class="d" dy="0.36em" transform="translate(1114.68 754.52) scale(1.18 1)">4BA</text>
<line x1="1127.36" y1="755.58" x2="1147.44" y2="755.58" stroke="#000" stroke-width="0.9" />
<polygon points="1147.44,755.58 1140.44,757.38 1140.44,753.78" fill="#000"/>
<text x="0" y="0" font-size="6.4" text-anchor="middle" class="d" dy="0.36em" transform="translate(1117.43 788.33) scale(1.18 1)">0.25</text>
<line x1="1133.7" y1="791.29" x2="1142.16" y2="791.29" stroke="#000" stroke-width="1.4" />
<line x1="1160.12" y1="791.29" x2="1168.57" y2="791.29" stroke="#000" stroke-width="1.4" />
<text x="0" y="0" font-size="6.9" text-anchor="middle" class="d" dy="0.36em" transform="translate(1152.3 830.39) scale(1.18 1)">0.5</text>
<line x1="1133.7" y1="833.14" x2="1142.16" y2="833.14" stroke="#000" stroke-width="0.9" />
<line x1="1160.12" y1="833.14" x2="1168.57" y2="833.14" stroke="#000" stroke-width="0.9" />
<polygon points="1133.70,833.14 1139.70,831.34 1139.70,834.94" fill="#000"/>
<polygon points="1168.57,833.14 1162.57,834.94 1162.57,831.34" fill="#000"/>
<line x1="1133.7" y1="812.0" x2="1133.7" y2="838.42" stroke="#000" stroke-width="0.9" />
<line x1="1168.57" y1="806.72" x2="1168.57" y2="838.42" stroke="#000" stroke-width="0.9" />
<text x="0" y="0" font-size="6.4" text-anchor="middle" class="d" dy="0.36em" transform="translate(1178.08 765.51) scale(1.18 1)">1.063</text>
<line x1="1173.85" y1="734.45" x2="1196.04" y2="734.45" stroke="#000" stroke-width="0.9" />
<line x1="1173.85" y1="809.26" x2="1196.04" y2="809.26" stroke="#000" stroke-width="0.9" />
<line x1="1178.72" y1="734.45" x2="1178.72" y2="760.23" stroke="#000" stroke-width="0.9" />
<line x1="1178.72" y1="770.79" x2="1178.72" y2="809.26" stroke="#000" stroke-width="0.9" />
<polygon points="1178.72,734.45 1180.52,741.45 1176.92,741.45" fill="#000"/>
<polygon points="1178.72,809.26 1176.92,802.26 1180.52,802.26" fill="#000"/>
<rect x="1195.62" y="734.45" width="13.52" height="74.81" fill="url(#yh)" stroke="#8a6c0e" stroke-width="0.6" />
<rect x="1195.62" y="734.45" width="13.52" height="22.61" fill="url(#hatchy)" stroke="#8a6c0e" stroke-width="0.5" />
<rect x="1201.75" y="734.45" width="3.8" height="22.61" fill="#dcae6a" stroke="#a0502a" stroke-width="0.5" />
<rect x="1195.62" y="757.06" width="13.52" height="3.17" fill="#e8c878" stroke="none" stroke-width="0.6" />
<rect x="1195.62" y="760.23" width="13.52" height="17.96" fill="url(#hatchy)" stroke="#8a6c0e" stroke-width="0.5" />
<rect x="1195.62" y="778.19" width="13.52" height="6.34" fill="#a88a1a" stroke="none" stroke-width="0.6" />
<line x1="1188.65" y1="756.64" x2="1218.23" y2="756.64" stroke="#8a2fa8" stroke-width="0.8" />
<line x1="1188.65" y1="787.07" x2="1218.23" y2="787.07" stroke="#8a2fa8" stroke-width="0.8" />
<line x1="1202.38" y1="725.36" x2="1202.38" y2="752.83" stroke="#8a2fa8" stroke-width="0.7" />
<text x="0" y="0" font-size="6.4" text-anchor="middle" class="d" dy="0.36em" transform="translate(1227.32 719.44) scale(1.18 1)">0.188</text>
<line x1="1195.62" y1="716.91" x2="1195.62" y2="729.59" stroke="#000" stroke-width="0.9" />
<line x1="1209.15" y1="716.91" x2="1209.15" y2="729.59" stroke="#000" stroke-width="0.9" />
<line x1="1186.53" y1="721.13" x2="1195.62" y2="721.13" stroke="#000" stroke-width="0.9" />
<polygon points="1195.62,721.13 1189.62,722.93 1189.62,719.33" fill="#000"/>
<line x1="1209.15" y1="721.13" x2="1218.23" y2="721.13" stroke="#000" stroke-width="0.9" />
<polygon points="1209.15,721.13 1215.15,719.33 1215.15,722.93" fill="#000"/>
<text x="0" y="0" font-size="6.4" text-anchor="middle" class="d" dy="0.36em" transform="translate(1234.51 754.52) scale(1.18 1)">0.75</text>
<text x="0" y="0" font-size="6.4" text-anchor="middle" class="d" dy="0.36em" transform="translate(1236.2 784.53) scale(1.18 1)">0.313</text>
<text x="0" y="0" font-size="6.4" text-anchor="middle" class="d" dy="0.36em" transform="translate(1228.8 806.3) scale(1.18 1)">0</text>
<line x1="1216.54" y1="756.64" x2="1216.54" y2="809.26" stroke="#000" stroke-width="0.9" />
<polygon points="1216.54,756.64 1218.34,763.64 1214.74,763.64" fill="#000"/>
<polygon points="1216.54,787.07 1218.34,794.07 1214.74,794.07" fill="#000"/>
<circle cx="1216.54" cy="809.26" r="1.06" fill="#000" stroke="none" stroke-width="0.6" />
<line x1="1209.78" y1="756.64" x2="1219.29" y2="756.64" stroke="#000" stroke-width="0.9" />
<line x1="1209.78" y1="787.07" x2="1223.52" y2="787.07" stroke="#000" stroke-width="0.9" />
<line x1="1209.78" y1="809.26" x2="1219.29" y2="809.26" stroke="#000" stroke-width="0.9" />
<text x="1177.02" y="822.57" font-size="7" text-anchor="start" font-weight="bold" fill="#000" textLength="42.3" lengthAdjust="spacingAndGlyphs" >Section R-R</text>
<polygon points="495.58,233.39 474.38,274.42 474.38,297.13 495.58,337.48" fill="url(#cone)" stroke="none" stroke-width="0.6" />
<rect x="495.58" y="233.39" width="4.1" height="105.32" fill="#c6cddc" stroke="#3d4252" stroke-width="0.5" />
<rect x="424.04" y="224.5" width="57.86" height="8.48" fill="#e1e5ed" stroke="#3d4252" stroke-width="0.5" />
<rect x="424.04" y="232.98" width="5.2" height="11.35" fill="#c9d0de" stroke="#3d4252" stroke-width="0.4" />
<rect x="424.04" y="338.16" width="57.86" height="9.16" fill="url(#plateb)" stroke="#3d4252" stroke-width="0.5" />
<polygon points="481.9,215.61 499.27,215.61 499.27,233.39 495.58,233.39 495.58,236.13 474.38,274.42 466.17,274.42 466.17,232.98 481.9,232.98" fill="url(#hatch)" stroke="#3d4252" stroke-width="0.5" />
<polygon points="429.24,233.39 435.4,233.39 435.4,273.74 409.41,273.74 409.41,268.54 424.04,268.54 424.04,244.33 429.24,244.33" fill="url(#hatch)" stroke="#3d4252" stroke-width="0.5" />
<polygon points="409.41,297.13 435.4,297.13 435.4,337.48 426.51,337.48 424.04,337.48 424.04,302.6 409.41,302.6" fill="url(#hatch)" stroke="#3d4252" stroke-width="0.5" />
<polygon points="466.17,297.13 475.75,297.13 495.58,337.48 495.58,338.85 499.68,338.85 499.68,355.95 481.9,355.95 481.9,338.16 466.17,338.16" fill="url(#hatch)" stroke="#3d4252" stroke-width="0.5" />
<rect x="435.4" y="233.39" width="30.78" height="37.2" fill="url(#chamb)" stroke="#3d4252" stroke-width="0.5" />
<rect x="435.4" y="301.23" width="30.78" height="36.66" fill="url(#chamb)" stroke="#3d4252" stroke-width="0.5" />
<rect x="437.45" y="270.59" width="26.67" height="3.42" fill="#dfe3ec" stroke="#3d4252" stroke-width="0.4" />
<rect x="437.45" y="297.13" width="26.67" height="4.1" fill="#dfe3ec" stroke="#3d4252" stroke-width="0.4" />
<circle cx="451.13" cy="255.27" r="10.94" fill="#fff" stroke="#333" stroke-width="0.8" />
<circle cx="451.13" cy="316.96" r="10.94" fill="#fff" stroke="#333" stroke-width="0.8" />
<rect x="409.41" y="273.74" width="25.99" height="23.39" fill="url(#boreh)" stroke="#3d4252" stroke-width="0.5" />
<path d="M435.4 274.42 L477.8 274.42 Q480.53 285.37 477.8 296.58 L435.4 296.58 Z" fill="url(#boreh)" stroke="#3d4252" stroke-width="0.5" />
<rect x="435.4" y="275.79" width="43.09" height="19.15" fill="#dfe3ec" stroke="none" stroke-width="0" opacity="0.55"/>
<line x1="495.58" y1="233.39" x2="495.58" y2="338.71" stroke="#222" stroke-width="0.9" />
<line x1="409.41" y1="177.31" x2="409.41" y2="268.95" stroke="#000" stroke-width="0.9" />
<line x1="499.68" y1="177.31" x2="499.68" y2="215.61" stroke="#000" stroke-width="0.9" />
<line x1="424.04" y1="190.3" x2="424.04" y2="219.71" stroke="#000" stroke-width="0.9" />
<line x1="409.41" y1="182.51" x2="440.18" y2="182.51" stroke="#000" stroke-width="0.9" />
<line x1="476.43" y1="182.51" x2="499.68" y2="182.51" stroke="#000" stroke-width="0.9" />
<polygon points="409.41,182.51 417.41,180.61 417.41,184.41" fill="#000"/>
<polygon points="499.68,182.51 491.68,184.41 491.68,180.61" fill="#000"/>
<text x="0" y="0" font-size="6.4" text-anchor="middle" class="d" dy="0.36em" transform="translate(457.28 181.69) scale(1.18 1)">1.283</text>
<line x1="424.04" y1="195.09" x2="440.87" y2="195.09" stroke="#000" stroke-width="0.9" />
<line x1="477.8" y1="195.09" x2="499.68" y2="195.09" stroke="#000" stroke-width="0.9" />
<polygon points="424.04,195.09 432.04,193.19 432.04,196.99" fill="#000"/>
<polygon points="499.68,195.09 491.68,196.99 491.68,193.19" fill="#000"/>
<text x="0" y="0" font-size="6.4" text-anchor="middle" class="d" dy="0.36em" transform="translate(458.24 194.41) scale(1.18 1)">1.063</text>
<text x="0" y="0" font-size="6.4" text-anchor="middle" class="d" dy="0.36em" transform="translate(456.6 212.6) scale(1.18 1)">0.25</text>
<line x1="473.69" y1="213.83" x2="481.9" y2="213.83" stroke="#000" stroke-width="0.9" />
<polygon points="481.90,213.83 473.90,215.73 473.90,211.93" fill="#000"/>
<line x1="499.68" y1="213.83" x2="507.89" y2="213.83" stroke="#000" stroke-width="0.9" />
<polygon points="499.68,213.83 507.68,211.93 507.68,215.73" fill="#000"/>
<line x1="481.49" y1="209.04" x2="481.49" y2="215.88" stroke="#000" stroke-width="0.9" />
<text x="0" y="0" font-size="6.4" text-anchor="middle" class="d" dy="0.36em" transform="translate(459.33 284.41) scale(1.18 1)">0.908</text>
<line x1="435.4" y1="285.64" x2="444.29" y2="285.64" stroke="#000" stroke-width="0.9" />
<polygon points="435.40,285.64 443.40,283.74 443.40,287.54" fill="#000"/>
<line x1="478.48" y1="285.64" x2="495.58" y2="285.64" stroke="#000" stroke-width="0.9" />
<polygon points="495.58,285.64 487.58,287.54 487.58,283.74" fill="#000"/>
<line x1="485.32" y1="277.16" x2="495.58" y2="277.16" stroke="#000" stroke-width="0.9" />
<polygon points="495.58,277.16 487.58,279.06 487.58,275.26" fill="#000"/>
<line x1="499.68" y1="277.16" x2="507.89" y2="277.16" stroke="#000" stroke-width="0.9" />
<polygon points="499.68,277.16 507.68,275.26 507.68,279.06" fill="#000"/>
<text x="0" y="0" font-size="6.4" text-anchor="middle" class="d" dy="0.36em" transform="translate(524.3 275.38) scale(1.18 1)">0.063</text>
<line x1="499.68" y1="305.2" x2="508.57" y2="305.2" stroke="#000" stroke-width="0.9" />
<polygon points="499.68,305.20 507.68,303.30 507.68,307.10" fill="#000"/>
<text x="0" y="0" font-size="6.9" text-anchor="middle" class="d" dy="0.36em" transform="translate(381.37 263.21) scale(1.18 1)">Ø0.5</text>
<polyline points="397.78,265.53 405.3,265.53 405.3,303.28" fill="none" stroke="#000" stroke-width="0.9" />
<line x1="400.52" y1="268.54" x2="409.41" y2="268.54" stroke="#000" stroke-width="0.9" />
<line x1="400.52" y1="303.28" x2="409.41" y2="303.28" stroke="#000" stroke-width="0.9" />
<polygon points="405.30,274.01 403.40,266.01 407.20,266.01" fill="#000"/>
<polygon points="405.30,297.13 407.20,305.13 403.40,305.13" fill="#000"/>
<text x="0" y="0" font-size="6.9" text-anchor="middle" class="d" dy="0.36em" transform="translate(483.95 299.87) scale(1.18 1)">30°</text>
<polygon points="475.06,314.09 477.53,309.49 479.66,311.62" fill="#000"/>
<path d="M564.36 166.72 Q564.36 165.05 566.87 165.05 L593.61 165.88 Q596.12 166.72 596.12 169.22 L596.12 193.8 Q586.93 196.81 577.73 195.47 L564.36 194.8 Z" fill="url(#gv)" stroke="#3d4252" stroke-width="0.5" />
<rect x="564.36" y="165.88" width="13.37" height="29.25" fill="#d6dbe6" stroke="#3d4252" stroke-width="0.4" />
<rect x="568.2" y="170.06" width="9.53" height="54.33" fill="#d9dee8" stroke="#3d4252" stroke-width="0.5" />
<rect x="577.73" y="192.63" width="6.69" height="31.76" fill="#c0c8d9" stroke="#3d4252" stroke-width="0.5" />
<rect x="560.51" y="216.03" width="17.22" height="8.69" fill="#cfd5e2" stroke="#3d4252" stroke-width="0.5" />
<rect x="560.51" y="224.39" width="74.56" height="123.32" fill="#c5ccdc" stroke="#3d4252" stroke-width="0.6" />
<rect x="560.51" y="224.39" width="74.56" height="12.04" fill="#d3d9e5" stroke="#3d4252" stroke-width="0.4" />
<rect x="560.51" y="236.43" width="17.22" height="9.7" fill="url(#gv)" stroke="none" stroke-width="0.6" />
<rect x="560.51" y="246.12" width="17.22" height="80.69" fill="#bfc7d8" stroke="none" stroke-width="0.6" />
<rect x="560.51" y="305.08" width="17.22" height="21.73" fill="url(#gv)" stroke="none" stroke-width="0.6" />
<rect x="560.51" y="326.81" width="74.56" height="20.9" fill="url(#gv2)" stroke="#3d4252" stroke-width="0.4" />
<rect x="577.73" y="236.43" width="57.34" height="98.75" fill="url(#gpanel)" stroke="#3d4252" stroke-width="0.6" />
<line x1="577.73" y1="236.43" x2="577.73" y2="335.17" stroke="#222" stroke-width="0.9" />
<path d="M635.07 267.85 L647.94 267.85 Q650.95 269.53 650.95 273.7 L650.95 298.78 Q650.95 302.96 647.94 304.63 L635.07 304.63 Z" fill="url(#gv)" stroke="#3d4252" stroke-width="0.5" />
<line x1="648.11" y1="267.85" x2="648.11" y2="304.63" stroke="#3d4252" stroke-width="0.5" />
<line x1="632.06" y1="262.0" x2="632.06" y2="313.44" stroke="#3d4252" stroke-width="0.6" />
<polyline points="608.66,236.93 629.56,247.79" fill="none" stroke="#3d4252" stroke-width="0.6" />
<polyline points="608.66,271.2 635.07,259.5" fill="none" stroke="#3d4252" stroke-width="0.6" />
<polyline points="577.73,272.03 608.66,272.03" fill="none" stroke="#3d4252" stroke-width="0.6" />
<polyline points="577.73,300.9 608.66,300.9 633.73,311.77" fill="none" stroke="#3d4252" stroke-width="0.6" />
<circle cx="608.66" cy="255.32" r="11.37" fill="#b3bcd0" stroke="#3d4252" stroke-width="0.7" />
<circle cx="608.66" cy="316.78" r="11.37" fill="#b3bcd0" stroke="#3d4252" stroke-width="0.7" />
<line x1="593.61" y1="255.32" x2="623.7" y2="255.32" stroke="#8a2fa8" stroke-width="0.8" />
<line x1="608.66" y1="240.27" x2="608.66" y2="270.36" stroke="#8a2fa8" stroke-width="0.8" />
<line x1="593.61" y1="316.78" x2="623.7" y2="316.78" stroke="#8a2fa8" stroke-width="0.8" />
<line x1="608.66" y1="301.74" x2="608.66" y2="331.83" stroke="#8a2fa8" stroke-width="0.8" />
<circle cx="590.27" cy="255.32" r="2.34" fill="#3a1048" stroke="none" stroke-width="0.6" />
<circle cx="626.21" cy="255.32" r="2.34" fill="#3a1048" stroke="none" stroke-width="0.6" />
<line x1="584.42" y1="255.32" x2="633.73" y2="255.32" stroke="#8a2fa8" stroke-width="0.7" />
<line x1="590.27" y1="250.3" x2="590.27" y2="260.33" stroke="#8a2fa8" stroke-width="0.7" />
<line x1="626.21" y1="250.3" x2="626.21" y2="260.33" stroke="#8a2fa8" stroke-width="0.7" />
<circle cx="590.27" cy="316.78" r="2.34" fill="#111" stroke="none" stroke-width="0.6" />
<circle cx="626.21" cy="316.78" r="2.34" fill="#111" stroke="none" stroke-width="0.6" />
<line x1="550.99" y1="286.24" x2="665.5" y2="286.24" stroke="#8a2fa8" stroke-width="0.9" />
<rect x="560.51" y="347.71" width="23.91" height="9.19" fill="#aab4c9" stroke="#3d4252" stroke-width="0.5" />
<rect x="577.73" y="347.71" width="6.69" height="34.27" fill="#b4bdd0" stroke="#3d4252" stroke-width="0.5" />
<path d="M564.36 377.8 L568.2 377.8 L568.2 405.38 L564.36 404.55 Z" fill="#d6dbe6" stroke="#3d4252" stroke-width="0.4" />
<path d="M577.73 381.98 L584.42 381.98 L584.42 378.64 L594.45 378.3 Q596.12 378.64 596.12 380.31 L596.12 404.55 L577.73 405.38 Z" fill="url(#gv2)" stroke="#3d4252" stroke-width="0.5" />
<rect x="568.2" y="356.9" width="9.53" height="48.48" fill="#8793ae" stroke="#3d4252" stroke-width="0.5" />
<rect x="568.2" y="402.04" width="9.53" height="3.68" fill="#c5ccdc" stroke="#3d4252" stroke-width="0.4" />
<text x="0" y="0" font-size="6.4" text-anchor="middle" class="d" dy="0.36em" transform="translate(657.64 208.17) scale(1 1)" textLength="75.2" lengthAdjust="spacingAndGlyphs">4x M2.5x0.45   ↧ 0.22</text>
<polyline points="617.02,208.17 601.97,208.17 591.61,250.3" fill="none" stroke="#000" stroke-width="0.9" />
<polygon points="591.61,250.30 591.68,242.08 595.37,242.99" fill="#000"/>
<text x="0" y="0" font-size="6.4" text-anchor="middle" class="d" dy="0.36em" transform="translate(674.36 235.76) scale(1.18 1)">0.875</text>
<polyline points="657.14,236.43 648.78,236.43 648.78,316.78" fill="none" stroke="#000" stroke-width="0.9" />
<polygon points="648.78,255.32 650.68,263.32 646.88,263.32" fill="#000"/>
<polygon points="648.78,316.78 646.88,308.78 650.68,308.78" fill="#000"/>
<line x1="633.73" y1="255.32" x2="653.79" y2="255.32" stroke="#000" stroke-width="0.9" />
<line x1="628.72" y1="317.12" x2="680.54" y2="317.12" stroke="#000" stroke-width="0.9" />
<text x="0" y="0" font-size="6.4" text-anchor="middle" class="d" dy="0.36em" transform="translate(701.44 270.53) scale(1.18 1)">0.438</text>
<polyline points="683.05,272.53 675.53,272.53 675.53,317.12" fill="none" stroke="#000" stroke-width="0.9" />
<polygon points="675.53,286.24 677.43,294.24 673.63,294.24" fill="#000"/>
<polygon points="675.53,317.12 673.63,309.12 677.43,309.12" fill="#000"/>
<line x1="672.18" y1="286.24" x2="680.54" y2="286.24" stroke="#000" stroke-width="0.9" />
<text x="0" y="0" font-size="6.4" text-anchor="middle" class="d" dy="0.36em" transform="translate(541.46 242.44) scale(1.18 1)">0.25</text>
<line x1="551.82" y1="243.61" x2="560.51" y2="243.61" stroke="#000" stroke-width="0.9" />
<polygon points="560.51,243.61 552.51,245.51 552.51,241.71" fill="#000"/>
<line x1="577.73" y1="243.61" x2="586.09" y2="243.61" stroke="#000" stroke-width="0.9" />
<polygon points="577.73,243.61 585.73,241.71 585.73,245.51" fill="#000"/>
<text x="0" y="0" font-size="6.4" text-anchor="middle" class="d" dy="0.36em" transform="translate(530.93 262.84) scale(1.18 1)">0.437</text>
<line x1="550.15" y1="263.67" x2="590.27" y2="263.67" stroke="#000" stroke-width="0.9" />
<polygon points="560.51,263.67 568.51,261.77 568.51,265.57" fill="#000"/>
<polygon points="590.27,263.67 582.27,265.57 582.27,261.77" fill="#000"/>
<text x="0" y="0" font-size="6.4" text-anchor="middle" class="d" dy="0.36em" transform="translate(608.66 275.38) scale(1.18 1)">0.5</text>
<line x1="590.27" y1="277.38" x2="600.3" y2="277.38" stroke="#000" stroke-width="0.9" />
<line x1="617.02" y1="277.38" x2="626.21" y2="277.38" stroke="#000" stroke-width="0.9" />
<polygon points="590.27,277.38 598.27,275.48 598.27,279.28" fill="#000"/>
<polygon points="626.21,277.38 618.21,279.28 618.21,275.48" fill="#000"/>
<line x1="590.27" y1="256.99" x2="590.27" y2="282.9" stroke="#000" stroke-width="0.9" />
<line x1="626.21" y1="256.99" x2="626.21" y2="282.9" stroke="#000" stroke-width="0.9" />
<text x="0" y="0" font-size="6.4" text-anchor="middle" class="d" dy="0.36em" transform="translate(530.93 304.63) scale(1.18 1)">0.688</text>
<line x1="550.15" y1="305.8" x2="608.66" y2="305.8" stroke="#000" stroke-width="0.9" />
<polygon points="560.51,305.80 568.51,303.90 568.51,307.70" fill="#000"/>
<polygon points="608.66,305.80 600.66,307.70 600.66,303.90" fill="#000"/>
<text x="0" y="0" font-size="6.4" text-anchor="middle" class="d" dy="0.36em" transform="translate(688.9 327.65) scale(1 1)" textLength="68.5" lengthAdjust="spacingAndGlyphs">2x Ø0.313 ↧ 0.906</text>
<path d="M651.29 329.66 L638.75 329.66 Q628.72 326.81 619.53 320.96" fill="none" stroke="#000" stroke-width="0.9" />
<polygon points="619.53,320.96 627.54,322.84 625.84,326.24" fill="#000"/>
<text x="0" y="0" font-size="6.4" text-anchor="middle" class="d" dy="0.36em" transform="translate(535.11 365.76) scale(1.18 1)">0.063</text>
<line x1="551.82" y1="366.6" x2="560.51" y2="366.6" stroke="#000" stroke-width="0.9" />
<polygon points="560.51,366.60 552.51,368.50 552.51,364.70" fill="#000"/>
<line x1="560.51" y1="361.92" x2="560.51" y2="371.11" stroke="#000" stroke-width="0.9" />
<line x1="564.36" y1="361.92" x2="564.36" y2="371.11" stroke="#000" stroke-width="0.9" />
<line x1="564.36" y1="366.6" x2="577.73" y2="366.6" stroke="#000" stroke-width="0.9" />
<polygon points="564.36,366.60 572.36,364.70 572.36,368.50" fill="#000"/>
<text x="0" y="0" font-size="6.4" text-anchor="middle" class="d" dy="0.36em" transform="translate(613.67 365.76) scale(1.18 1)">0.094</text>
<line x1="584.42" y1="366.6" x2="593.61" y2="366.6" stroke="#000" stroke-width="0.9" />
<polygon points="584.42,366.60 592.42,364.70 592.42,368.50" fill="#000"/>
<polygon points="577.73,366.60 569.73,368.50 569.73,364.70" fill="#000"/>
<text x="0" y="0" font-size="6.4" text-anchor="middle" class="d" dy="0.36em" transform="translate(544.3 389.84) scale(1.18 1)">0.125</text>
<line x1="560.18" y1="391.17" x2="568.2" y2="391.17" stroke="#000" stroke-width="0.9" />
<polygon points="568.20,391.17 560.20,393.07 560.20,389.27" fill="#000"/>
<line x1="577.73" y1="391.17" x2="586.93" y2="391.17" stroke="#000" stroke-width="0.9" />
<polygon points="577.73,391.17 585.73,389.27 585.73,393.07" fill="#000"/>
<text x="0" y="0" font-size="6.4" text-anchor="middle" class="d" dy="0.36em" transform="translate(543.13 404.55) scale(1.18 1)">0.063</text>
<line x1="556.84" y1="407.05" x2="564.36" y2="407.05" stroke="#000" stroke-width="0.9" />
<polygon points="564.36,407.05 556.36,408.95 556.36,405.15" fill="#000"/>
<line x1="568.2" y1="407.05" x2="577.73" y2="407.05" stroke="#000" stroke-width="0.9" />
<polygon points="568.20,407.05 576.20,405.15 576.20,408.95" fill="#000"/>
<line x1="564.36" y1="404.55" x2="564.36" y2="409.56" stroke="#000" stroke-width="0.9" />
<text x="0" y="0" font-size="6.4" text-anchor="middle" class="d" dy="0.36em" transform="translate(619.02 389.84) scale(1.18 1)">0.375</text>
<line x1="600.3" y1="378.64" x2="627.88" y2="378.64" stroke="#000" stroke-width="0.9" />
<line x1="600.3" y1="404.55" x2="627.88" y2="404.55" stroke="#000" stroke-width="0.9" />
<line x1="622.87" y1="378.64" x2="622.87" y2="386.99" stroke="#000" stroke-width="0.9" />
<line x1="622.87" y1="395.35" x2="622.87" y2="404.55" stroke="#000" stroke-width="0.9" />
<polygon points="622.87,378.64 624.77,386.64 620.97,386.64" fill="#000"/>
<polygon points="622.87,404.55 620.97,396.55 624.77,396.55" fill="#000"/>
<text x="0" y="0" font-size="6.4" text-anchor="middle" class="d" dy="0.36em" transform="translate(616.18 420.93) scale(1.18 1)">0.438</text>
<line x1="564.36" y1="422.94" x2="596.12" y2="422.94" stroke="#000" stroke-width="0.9" />
<polygon points="564.36,422.94 572.36,421.04 572.36,424.84" fill="#000"/>
<polygon points="596.12,422.94 588.12,424.84 588.12,421.04" fill="#000"/>
<line x1="564.36" y1="410.4" x2="564.36" y2="427.95" stroke="#000" stroke-width="0.9" />
<line x1="596.12" y1="410.4" x2="596.12" y2="427.95" stroke="#000" stroke-width="0.9" />
<line x1="960.0" y1="285.81" x2="1259.98" y2="285.81" stroke="#9a9a9a" stroke-width="0.8" stroke-dasharray="7 3"/>
<rect x="1064.4" y="191.9" width="8.89" height="75.68" fill="#8b97b2" stroke="#4d5468" stroke-width="0.5" />
<rect x="1072.83" y="211.73" width="9.12" height="144.75" fill="#b4bdd0" stroke="#4d5468" stroke-width="0.5" />
<rect x="1064.4" y="322.28" width="17.55" height="34.19" fill="#8b97b2" stroke="#4d5468" stroke-width="0.5" />
<rect x="1064.4" y="265.3" width="8.89" height="59.27" fill="#b4bdd0" stroke="none" stroke-width="0.6" />
<path d="M1046.16 194.63 Q1046.16 191.9 1050.04 191.9 L1078.08 191.9 L1078.08 221.99 L1046.16 219.71 Z" fill="url(#gv)" stroke="#4d5468" stroke-width="0.5" />
<rect x="1064.4" y="191.9" width="8.89" height="75.68" fill="#8b97b2" stroke="#4d5468" stroke-width="0.5" />
<rect x="1055.74" y="221.99" width="9.12" height="25.07" fill="#aab4c9" stroke="#4d5468" stroke-width="0.4" />
<path d="M1054.6 229.51 L1011.29 229.51 Q1005.59 231.1 1009.01 234.52 L1021.55 240.22 Q1024.96 242.5 1021.55 244.78 L1009.01 248.88 Q1005.13 251.62 1009.01 254.35 L1021.55 258.46 Q1024.96 260.28 1021.55 262.56 L1009.01 266.44 L1054.6 266.44 Z" fill="#d3d9e5" stroke="#4d5468" stroke-width="0.6" />
<rect x="1035.22" y="229.51" width="29.63" height="35.79" fill="#cdd3e1" stroke="#4d5468" stroke-width="0.4" />
<path d="M1007.87 268.72 L994.19 268.72 Q991.46 269.86 991.46 273.27 L991.46 299.49 Q991.46 302.91 994.19 304.05 L1007.87 304.05 Z" fill="url(#gv)" stroke="#4d5468" stroke-width="0.5" />
<path d="M1007.87 324.56 L1007.87 278.97 Q1009.01 265.3 1022.69 264.16 L1064.86 264.16 L1064.86 324.56 Z" fill="#c5ccdc" stroke="#4d5468" stroke-width="0.6" />
<rect x="1006.73" y="324.56" width="74.08" height="22.79" fill="url(#gv)" stroke="#4d5468" stroke-width="0.5" />
<circle cx="1033.4" cy="286.27" r="14.13" fill="#fff" stroke="#333845" stroke-width="1.6" />
<line x1="1015.85" y1="286.27" x2="1051.18" y2="286.27" stroke="#8a2fa8" stroke-width="0.9" />
<line x1="1033.4" y1="268.72" x2="1033.4" y2="304.05" stroke="#8a2fa8" stroke-width="0.9" />
<rect x="1124.58" y="210.59" width="17.1" height="145.89" fill="#b4bdd0" stroke="#4d5468" stroke-width="0.5" />
<rect x="1124.58" y="324.56" width="17.1" height="31.91" fill="#8b97b2" stroke="#4d5468" stroke-width="0.5" />
<path d="M1150.34 229.51 L1194.78 229.51 Q1201.17 231.1 1197.06 234.52 L1184.53 240.22 Q1181.11 242.5 1184.53 244.78 L1197.06 248.88 Q1201.17 251.62 1197.06 254.35 L1184.53 258.46 Q1181.11 260.28 1184.53 262.56 L1197.06 267.58 L1197.06 324.56 L1150.34 324.56 Z" fill="#d3d9e5" stroke="#4d5468" stroke-width="0.6" />
<path d="M1197.06 268.72 L1211.42 268.72 Q1214.39 269.86 1214.39 273.27 L1214.39 299.49 Q1214.39 302.22 1211.42 303.36 L1197.06 303.36 Z" fill="url(#gv)" stroke="#4d5468" stroke-width="0.5" />
<path d="M1187.95 304.05 L1197.06 304.05 L1193.64 310.89 Q1190.23 315.44 1199.34 322.28 L1199.34 324.56 L1187.95 324.56 Z" fill="#c9d0de" stroke="#4d5468" stroke-width="0.5" />
<rect x="1124.58" y="243.64" width="63.37" height="80.92" fill="#c5ccdc" stroke="#4d5468" stroke-width="0.5" />
<rect x="1150.34" y="229.51" width="26.21" height="20.97" fill="#cdd3e1" stroke="#4d5468" stroke-width="0.4" />
<path d="M1128.68 194.63 Q1128.68 191.9 1132.1 191.9 L1156.03 192.35 Q1159.45 193.49 1159.45 196.91 L1159.45 238.4 L1128.68 241.36 Z" fill="url(#gv)" stroke="#4d5468" stroke-width="0.5" />
<rect x="1124.58" y="210.59" width="9.8" height="33.05" fill="#b9c2d4" stroke="#4d5468" stroke-width="0.4" />
<rect x="1134.38" y="191.9" width="7.29" height="87.08" fill="#8b97b2" stroke="#4d5468" stroke-width="0.5" />
<rect x="1124.58" y="324.56" width="74.77" height="22.79" fill="url(#gv)" stroke="#4d5468" stroke-width="0.5" />
<path d="M1175.41 249.34 Q1182.25 267.58 1189.09 274.41 L1197.52 285.81 Q1187.95 301.77 1182.25 313.17 L1176.55 324.56" fill="#bcc4d6" stroke="#4d5468" stroke-width="0.7" />
<circle cx="1173.13" cy="286.27" r="14.13" fill="#fff" stroke="#333845" stroke-width="1.6" />
<line x1="1155.58" y1="286.27" x2="1215.3" y2="286.27" stroke="#8a2fa8" stroke-width="0.9" />
<line x1="1173.13" y1="251.62" x2="1173.13" y2="320.0" stroke="#8a2fa8" stroke-width="0.9" />
<polygon points="1173.13,255.04 1176.09,258.91 1173.13,263.02 1170.17,258.91" fill="#3a1048" stroke="none" stroke-width="0.6" />
<line x1="1166.29" y1="258.91" x2="1179.97" y2="258.91" stroke="#8a2fa8" stroke-width="0.8" />
<circle cx="1173.13" cy="313.17" r="2.74" fill="none" stroke="#8a2fa8" stroke-width="0.8" />
<line x1="1167.43" y1="313.17" x2="1178.83" y2="313.17" stroke="#8a2fa8" stroke-width="0.8" />
<text x="0" y="0" font-size="6.4" text-anchor="middle" class="d" dy="0.36em" transform="translate(989.18 185.52) scale(1 1)" textLength="53.6" lengthAdjust="spacingAndGlyphs">M12x1   ↧ 0.158</text>
<polyline points="1024.28,185.52 1038.64,185.52 1034.54,265.3" fill="none" stroke="#000" stroke-width="0.9" />
<polygon points="1034.54,265.30 1033.09,257.21 1036.88,257.42" fill="#000"/>
<text x="0" y="0" font-size="6.4" text-anchor="middle" class="d" dy="0.36em" transform="translate(987.13 201.02) scale(1 1)" textLength="54.3" lengthAdjust="spacingAndGlyphs">Ø0.438  ↧ 0.531</text>
<line x1="1024.28" y1="201.47" x2="1037.5" y2="201.47" stroke="#000" stroke-width="0.9" />
<text x="0" y="0" font-size="6.4" text-anchor="middle" class="d" dy="0.36em" transform="translate(987.81 315.44) scale(1.18 1)">0.687</text>
<line x1="1006.73" y1="317.27" x2="1080.81" y2="317.27" stroke="#000" stroke-width="0.9" />
<polygon points="1033.40,317.27 1041.40,315.37 1041.40,319.17" fill="#000"/>
<polygon points="1080.81,317.27 1072.81,319.17 1072.81,315.37" fill="#000"/>
<line x1="1033.4" y1="288.09" x2="1033.4" y2="322.28" stroke="#000" stroke-width="0.9" />
<line x1="1006.73" y1="315.44" x2="1006.73" y2="322.28" stroke="#000" stroke-width="0.9" />
<text x="0" y="0" font-size="6.4" text-anchor="middle" class="d" dy="0.36em" transform="translate(1108.62 277.38) scale(1.18 1)">0.687</text>
<line x1="1124.58" y1="278.97" x2="1173.13" y2="278.97" stroke="#000" stroke-width="0.9" />
<polygon points="1124.58,278.97 1132.58,277.07 1132.58,280.87" fill="#000"/>
<polygon points="1173.13,278.97 1165.13,280.87 1165.13,277.07" fill="#000"/>
<text x="0" y="0" font-size="6.4" text-anchor="middle" class="d" dy="0.36em" transform="translate(1208.46 196.91) scale(1.18 1)">Ø0.438</text>
<polyline points="1195.92,198.05 1179.97,198.05 1173.81,269.86" fill="none" stroke="#000" stroke-width="0.9" />
<polygon points="1173.81,270.99 1172.58,262.86 1176.37,263.18" fill="#000"/>
<line x1="1201.17" y1="229.51" x2="1249.95" y2="229.51" stroke="#000" stroke-width="0.9" />
<line x1="1197.06" y1="286.27" x2="1249.95" y2="286.27" stroke="#000" stroke-width="0.9" />
<line x1="1203.9" y1="347.36" x2="1249.95" y2="347.36" stroke="#000" stroke-width="0.9" />
<line x1="1244.48" y1="229.51" x2="1244.48" y2="255.04" stroke="#000" stroke-width="0.9" />
<line x1="1244.48" y1="265.3" x2="1244.48" y2="308.61" stroke="#000" stroke-width="0.9" />
<line x1="1244.48" y1="320.0" x2="1244.48" y2="347.36" stroke="#000" stroke-width="0.9" />
<polygon points="1244.48,229.51 1246.38,237.51 1242.58,237.51" fill="#000"/>
<polygon points="1244.48,286.27 1242.58,278.27 1246.38,278.27" fill="#000"/>
<polygon points="1244.48,286.27 1246.38,294.27 1242.58,294.27" fill="#000"/>
<polygon points="1244.48,347.36 1242.58,339.36 1246.38,339.36" fill="#000"/>
<text x="0" y="0" font-size="6.4" text-anchor="middle" class="d" dy="0.36em" transform="translate(1243.34 260.28) scale(1.18 1)">0.805</text>
<text x="0" y="0" font-size="6.4" text-anchor="middle" class="d" dy="0.36em" transform="translate(1243.34 314.3) scale(1.18 1)">0.875</text>
<text x="0" y="0" font-size="6.4" text-anchor="middle" class="d" dy="0.36em" transform="translate(1224.42 271.22) scale(1.18 1)">0.375</text>
<line x1="1174.27" y1="258.91" x2="1233.54" y2="258.91" stroke="#000" stroke-width="0.9" />
<line x1="1226.24" y1="258.91" x2="1226.24" y2="266.44" stroke="#000" stroke-width="0.9" />
<line x1="1226.24" y1="276.69" x2="1226.24" y2="286.27" stroke="#000" stroke-width="0.9" />
<polygon points="1226.24,258.91 1228.14,266.91 1224.34,266.91" fill="#000"/>
<polygon points="1226.24,286.27 1224.34,278.27 1228.14,278.27" fill="#000"/>
<text x="0" y="0" font-size="6.4" text-anchor="middle" class="d" dy="0.36em" transform="translate(1181.11 359.89) scale(1 1)" textLength="76.1" lengthAdjust="spacingAndGlyphs">2x M2.5x0.45    ↧ 0.25</text>
<polyline points="1226.7,361.49 1239.92,361.49 1178.83,315.44" fill="none" stroke="#000" stroke-width="0.9" />
<polygon points="1178.83,315.44 1186.36,318.74 1184.07,321.77" fill="#000"/>
<text x="1064.17" y="390.67" font-size="13" text-anchor="start" font-weight="bold" fill="#000" textLength="101.0" lengthAdjust="spacingAndGlyphs" >TIMING GEARS</text>
<text x="875.28" y="405.5" font-size="12" text-anchor="start" font-weight="bold" fill="#000" textLength="37.6" lengthAdjust="spacingAndGlyphs" >VALVE</text>
<text x="876.88" y="416.9" font-size="9" text-anchor="start" font-weight="normal" fill="#000" textLength="38.3" lengthAdjust="spacingAndGlyphs" >2 off SS</text>
<path d="M836.3 434.45 Q836.99 431.03 838.81 431.49 Q840.63 435.59 841.09 438.32 L841.09 446.99 Q840.63 450.41 838.81 454.51 Q836.99 454.96 836.3 451.55 Z" fill="#8fb3c2" stroke="#1f2a33" stroke-width="0.9" />
<rect x="836.3" y="433.31" width="1.14" height="19.38" fill="#1f2a33" stroke="none" stroke-width="0.6" />
<rect x="841.09" y="438.32" width="92.09" height="8.66" fill="url(#vb)" stroke="#2a3640" stroke-width="0.8" />
<rect x="916.08" y="438.32" width="17.1" height="8.66" fill="#b4d8c8" stroke="#2a4a30" stroke-width="0.8" opacity="0.8"/>
<text x="0" y="0" font-size="6.4" text-anchor="middle" class="d" dy="0.36em" transform="translate(816.47 415.53) scale(1.18 1)">0.063</text>
<line x1="836.3" y1="411.65" x2="836.3" y2="429.89" stroke="#000" stroke-width="0.9" />
<line x1="841.09" y1="411.65" x2="841.09" y2="429.89" stroke="#000" stroke-width="0.9" />
<line x1="827.87" y1="417.35" x2="836.3" y2="417.35" stroke="#000" stroke-width="0.9" />
<polygon points="836.30,417.35 830.30,419.05 830.30,415.65" fill="#000"/>
<line x1="841.09" y1="417.35" x2="850.66" y2="417.35" stroke="#000" stroke-width="0.9" />
<polygon points="841.09,417.35 847.09,415.65 847.09,419.05" fill="#000"/>
<text x="0" y="0" font-size="6.9" text-anchor="middle" class="d" dy="0.36em" transform="translate(884.17 461.35) scale(1.18 1)">Ø0.125</text>
<polyline points="870.04,463.4 855.91,463.4 855.91,446.99" fill="none" stroke="#000" stroke-width="0.9" />
<polygon points="855.91,446.99 857.61,452.99 854.21,452.99" fill="#000"/>
<line x1="855.91" y1="430.57" x2="855.91" y2="438.32" stroke="#000" stroke-width="0.9" />
<polygon points="855.91,438.32 854.21,432.32 857.61,432.32" fill="#000"/>
<text x="0" y="0" font-size="6.4" text-anchor="middle" class="d" dy="0.36em" transform="translate(895.11 471.38) scale(1.18 1)">5BA</text>
<polyline points="908.79,473.2 923.61,473.2 923.61,446.99" fill="none" stroke="#000" stroke-width="0.9" />
<polygon points="923.61,446.99 925.31,452.99 921.91,452.99" fill="#000"/>
<text x="0" y="0" font-size="6.4" text-anchor="middle" class="d" dy="0.36em" transform="translate(883.26 483.46) scale(1.18 1)">1.375</text>
<line x1="836.3" y1="485.74" x2="865.48" y2="485.74" stroke="#000" stroke-width="0.9" />
<line x1="903.09" y1="485.74" x2="933.18" y2="485.74" stroke="#000" stroke-width="0.9" />
<polygon points="836.30,485.74 844.30,483.84 844.30,487.64" fill="#000"/>
<polygon points="933.18,485.74 925.18,487.64 925.18,483.84" fill="#000"/>
<line x1="836.3" y1="458.38" x2="836.3" y2="490.3" stroke="#000" stroke-width="0.9" />
<line x1="933.18" y1="450.41" x2="933.18" y2="490.3" stroke="#000" stroke-width="0.9" />
<circle cx="957.8" cy="442.88" r="12.99" fill="#c0dbe5" stroke="#1f2a33" stroke-width="1.0" />
<line x1="945.03" y1="441.29" x2="970.56" y2="441.29" stroke="#1f2a33" stroke-width="0.7" />
<line x1="945.03" y1="444.25" x2="970.56" y2="444.25" stroke="#1f2a33" stroke-width="0.7" />
<text x="0" y="0" font-size="6.9" text-anchor="middle" class="d" dy="0.36em" transform="translate(971.02 410.52) scale(1.18 1)">Ø0.375</text>
<polyline points="950.96,413.48 942.3,413.48 963.04,454.51" fill="none" stroke="#000" stroke-width="0.9" />
<polygon points="963.04,454.51 958.36,449.03 961.40,447.50" fill="#000"/>
<polygon points="952.56,433.54 957.24,439.02 954.20,440.55" fill="#000"/>
<text x="0" y="0" font-size="6.4" text-anchor="middle" class="d" dy="0.36em" transform="translate(960.53 463.4) scale(1.18 1)">0.02</text>
<line x1="975.58" y1="442.88" x2="990.85" y2="442.88" stroke="#000" stroke-width="1.4" />
<line x1="985.84" y1="433.31" x2="985.84" y2="441.52" stroke="#000" stroke-width="0.9" />
<polygon points="985.84,441.52 984.14,435.52 987.54,435.52" fill="#000"/>
<polyline points="985.84,444.71 985.84,465.22 977.17,465.22" fill="none" stroke="#000" stroke-width="0.9" />
<polygon points="985.84,444.71 987.54,450.71 984.14,450.71" fill="#000"/>
<text x="1029.79" y="412.98" font-size="9" text-anchor="start" font-weight="normal" fill="#000" textLength="80.9" lengthAdjust="spacingAndGlyphs" >Camshaft 16T 30˚</text>
<text x="1153.62" y="412.98" font-size="9" text-anchor="start" font-weight="normal" fill="#000" textLength="80.4" lengthAdjust="spacingAndGlyphs" >Crankshaft 8T 60˚</text>
<circle cx="1032.98" cy="461.28" r="25.74" fill="#a9b2c7" stroke="#1f2430" stroke-width="1.0" />
<polygon points="1054.89,461.28 1058.69,462.49 1058.06,467.09 1054.07,467.23 1053.23,469.66 1056.27,472.24 1053.92,476.24 1050.19,474.84 1048.47,476.77 1050.31,480.32 1046.6,483.12 1043.69,480.4 1041.37,481.52 1041.7,485.5 1037.21,486.67 1035.55,483.04 1032.98,483.19 1031.77,486.99 1027.17,486.36 1027.03,482.37 1024.59,481.52 1022.02,484.57 1018.01,482.22 1019.41,478.49 1017.48,476.77 1013.94,478.6 1011.13,474.9 1013.86,471.98 1012.73,469.66 1008.76,470.0 1007.58,465.5 1011.22,463.85 1011.06,461.28 1007.26,460.06 1007.9,455.46 1011.89,455.33 1012.73,452.89 1009.68,450.32 1012.03,446.31 1015.77,447.71 1017.48,445.78 1015.65,442.24 1019.36,439.43 1022.27,442.16 1024.59,441.03 1024.26,437.05 1028.75,435.88 1030.4,439.51 1032.98,439.36 1034.19,435.56 1038.79,436.2 1038.93,440.18 1041.37,441.03 1043.94,437.98 1047.95,440.33 1046.55,444.07 1048.47,445.78 1052.02,443.95 1054.82,447.65 1052.1,450.57 1053.23,452.89 1057.2,452.56 1058.37,457.05 1054.74,458.7" fill="#c5ccdc" stroke="#1f2430" stroke-width="1.0" />
<circle cx="1032.98" cy="461.28" r="8.94" fill="#fff" stroke="#2f3442" stroke-width="0.8" />
<text x="0" y="0" font-size="6.9" text-anchor="middle" class="d" dy="0.36em" transform="translate(1040.43 421.91) scale(1.18 1)">Ø0.063</text>
<polyline points="1060.21,424.04 1073.4,424.04 1079.15,457.66" fill="none" stroke="#000" stroke-width="0.9" />
<polygon points="1079.15,457.66 1076.49,452.02 1079.84,451.46" fill="#000"/>
<text x="0" y="0" font-size="6.9" text-anchor="middle" class="d" dy="0.36em" transform="translate(981.28 486.17) scale(1.18 1)">Ø0.25</text>
<polyline points="1001.06,488.94 1017.02,488.94 1028.09,469.15" fill="none" stroke="#000" stroke-width="0.9" />
<polygon points="1028.51,468.30 1027.08,474.37 1024.11,472.72" fill="#000"/>
<line x1="1041.49" y1="444.26" x2="1037.66" y2="452.77" stroke="#000" stroke-width="0.9" />
<polygon points="1037.66,452.77 1038.57,446.60 1041.67,448.00" fill="#000"/>
<text x="0" y="0" font-size="6.9" text-anchor="middle" class="d" dy="0.36em" transform="translate(1091.91 421.49) scale(1.18 1)">Ø0.438</text>
<polyline points="1114.47,424.04 1122.77,424.04 1122.77,475.11" fill="none" stroke="#000" stroke-width="0.9" />
<polygon points="1122.77,444.68 1124.47,450.68 1121.07,450.68" fill="#000"/>
<polygon points="1122.77,475.11 1121.07,469.11 1124.47,469.11" fill="#000"/>
<line x1="1093.62" y1="444.68" x2="1127.66" y2="444.68" stroke="#000" stroke-width="0.9" />
<line x1="1093.62" y1="475.11" x2="1127.66" y2="475.11" stroke="#000" stroke-width="0.9" />
<rect x="1075.53" y="444.26" width="9.57" height="30.85" fill="url(#gv)" stroke="#3d4252" stroke-width="0.5" />
<rect x="1084.68" y="434.68" width="13.19" height="50.64" fill="#b4bcca" stroke="#2f3442" stroke-width="0.7" />
<line x1="1085.11" y1="441.28" x2="1097.45" y2="435.74" stroke="#3f4656" stroke-width="0.8" />
<line x1="1085.11" y1="446.17" x2="1097.45" y2="440.64" stroke="#3f4656" stroke-width="0.8" />
<line x1="1085.11" y1="451.06" x2="1097.45" y2="445.53" stroke="#3f4656" stroke-width="0.8" />
<line x1="1085.11" y1="455.96" x2="1097.45" y2="450.43" stroke="#3f4656" stroke-width="0.8" />
<line x1="1085.11" y1="460.85" x2="1097.45" y2="455.32" stroke="#3f4656" stroke-width="0.8" />
<line x1="1085.11" y1="465.74" x2="1097.45" y2="460.21" stroke="#3f4656" stroke-width="0.8" />
<line x1="1085.11" y1="470.64" x2="1097.45" y2="465.11" stroke="#3f4656" stroke-width="0.8" />
<line x1="1085.11" y1="475.53" x2="1097.45" y2="470.0" stroke="#3f4656" stroke-width="0.8" />
<line x1="1085.11" y1="480.43" x2="1097.45" y2="474.89" stroke="#3f4656" stroke-width="0.8" />
<line x1="1085.11" y1="485.32" x2="1097.45" y2="479.79" stroke="#3f4656" stroke-width="0.8" />
<circle cx="1079.79" cy="459.79" r="2.13" fill="#fff" stroke="#3d4252" stroke-width="0.6" />
<line x1="1084.68" y1="485.32" x2="1084.68" y2="560.21" stroke="#000" stroke-width="0.9" />
<line x1="1097.45" y1="485.32" x2="1097.45" y2="558.09" stroke="#000" stroke-width="0.9" />
<line x1="1069.79" y1="492.55" x2="1097.45" y2="492.55" stroke="#000" stroke-width="0.9" />
<polygon points="1084.68,492.55 1078.68,494.25 1078.68,490.85" fill="#000"/>
<polygon points="1097.45,492.55 1091.45,494.25 1091.45,490.85" fill="#000"/>
<circle cx="1069.79" cy="492.55" r="1.06" fill="#000" stroke="none" stroke-width="0.6" />
<path d="M1069.79 492.55 Q1070.21 483.62 1074.89 479.36" fill="none" stroke="#000" stroke-width="0.9" />
<text x="0" y="0" font-size="6.4" text-anchor="middle" class="d" dy="0.36em" transform="translate(1068.09 504.89) rotate(-90) scale(1.18 1)">0</text>
<circle cx="1164.26" cy="461.28" r="22.13" fill="#a9b2c7" stroke="#1f2430" stroke-width="1.0" />
<polygon points="1182.61,465.0 1185.43,467.69 1181.58,475.04 1177.76,474.25 1174.6,476.88 1174.69,480.79 1166.78,483.26 1164.63,480.0 1160.54,479.63 1157.84,482.45 1150.49,478.6 1151.28,474.78 1148.65,471.62 1144.74,471.71 1142.27,463.8 1145.54,461.65 1145.91,457.56 1143.08,454.86 1146.93,447.51 1150.75,448.3 1153.91,445.67 1153.82,441.76 1161.73,439.29 1163.88,442.56 1167.98,442.93 1170.67,440.1 1178.02,443.95 1177.23,447.78 1179.86,450.93 1183.77,450.84 1186.24,458.76 1182.98,460.9" fill="#c5ccdc" stroke="#1f2430" stroke-width="1.0" />
<circle cx="1164.26" cy="461.28" r="15.32" fill="#d5dae6" stroke="#2f3442" stroke-width="0.7" />
<circle cx="1164.26" cy="461.28" r="12.77" fill="#fff" stroke="#2f3442" stroke-width="0.8" />
<text x="0" y="0" font-size="6.9" text-anchor="middle" class="d" dy="0.36em" transform="translate(1147.23 424.04) scale(1.18 1)">Ø0.375</text>
<polyline points="1167.02,425.74 1180.43,425.74 1171.91,445.74" fill="none" stroke="#000" stroke-width="0.9" />
<polygon points="1171.49,446.60 1172.37,440.43 1175.48,441.81" fill="#000"/>
<rect x="1208.51" y="446.38" width="37.23" height="29.79" fill="url(#gv)" stroke="#3d4252" stroke-width="0.5" />
<polygon points="1219.57,439.36 1229.79,439.36 1232.34,441.06 1232.34,483.62 1219.57,483.62" fill="#b4bcca" stroke="#2f3442" stroke-width="0.7" />
<line x1="1220.0" y1="439.79" x2="1231.91" y2="451.7" stroke="#3f4656" stroke-width="0.8" />
<line x1="1220.0" y1="439.79" x2="1231.91" y2="460.21" stroke="#3f4656" stroke-width="0.8" />
<line x1="1220.0" y1="445.32" x2="1231.91" y2="468.72" stroke="#3f4656" stroke-width="0.8" />
<line x1="1220.0" y1="453.83" x2="1231.91" y2="477.23" stroke="#3f4656" stroke-width="0.8" />
<line x1="1220.0" y1="462.34" x2="1231.91" y2="483.19" stroke="#3f4656" stroke-width="0.8" />
<line x1="1220.0" y1="470.85" x2="1231.91" y2="483.19" stroke="#3f4656" stroke-width="0.8" />
<circle cx="1237.23" cy="461.28" r="1.91" fill="#fff" stroke="#3d4252" stroke-width="0.6" />
<text x="0" y="0" font-size="6.9" text-anchor="middle" class="d" dy="0.36em" transform="translate(1215.32 424.04) scale(1.18 1)">Ø0.063</text>
<polyline points="1235.74,425.74 1247.87,425.74 1238.72,458.51" fill="none" stroke="#000" stroke-width="0.9" />
<polygon points="1238.51,459.36 1238.61,453.12 1241.86,454.10" fill="#000"/>
<line x1="1208.51" y1="476.17" x2="1208.51" y2="489.57" stroke="#000" stroke-width="0.9" />
<line x1="1219.57" y1="476.17" x2="1219.57" y2="489.57" stroke="#000" stroke-width="0.9" />
<line x1="1232.34" y1="476.17" x2="1232.34" y2="489.57" stroke="#000" stroke-width="0.9" />
<line x1="1245.74" y1="476.17" x2="1245.74" y2="489.57" stroke="#000" stroke-width="0.9" />
<line x1="1207.45" y1="487.45" x2="1246.81" y2="487.45" stroke="#000" stroke-width="1.6" />
<circle cx="1208.51" cy="487.45" r="1.06" fill="#000" stroke="none" stroke-width="0.6" />
<polygon points="1219.57,487.45 1213.57,489.25 1213.57,485.65" fill="#000"/>
<polygon points="1232.34,487.45 1226.34,489.25 1226.34,485.65" fill="#000"/>
<polygon points="1245.74,487.45 1239.74,489.25 1239.74,485.65" fill="#000"/>
<text x="0" y="0" font-size="6.4" text-anchor="middle" class="d" dy="0.36em" transform="translate(1207.87 500.21) rotate(-90) scale(1.18 1)">0</text>
<text x="0" y="0" font-size="6.4" text-anchor="middle" class="d" dy="0.36em" transform="translate(1218.51 506.6) rotate(-90) scale(1.18 1)">0.156</text>
<text x="0" y="0" font-size="6.4" text-anchor="middle" class="d" dy="0.36em" transform="translate(1231.28 506.6) rotate(-90) scale(1.18 1)">0.344</text>
<text x="0" y="0" font-size="6.4" text-anchor="middle" class="d" dy="0.36em" transform="translate(1244.68 506.6) rotate(-90) scale(1.18 1)">0.532</text>
</svg>
</body></html>
